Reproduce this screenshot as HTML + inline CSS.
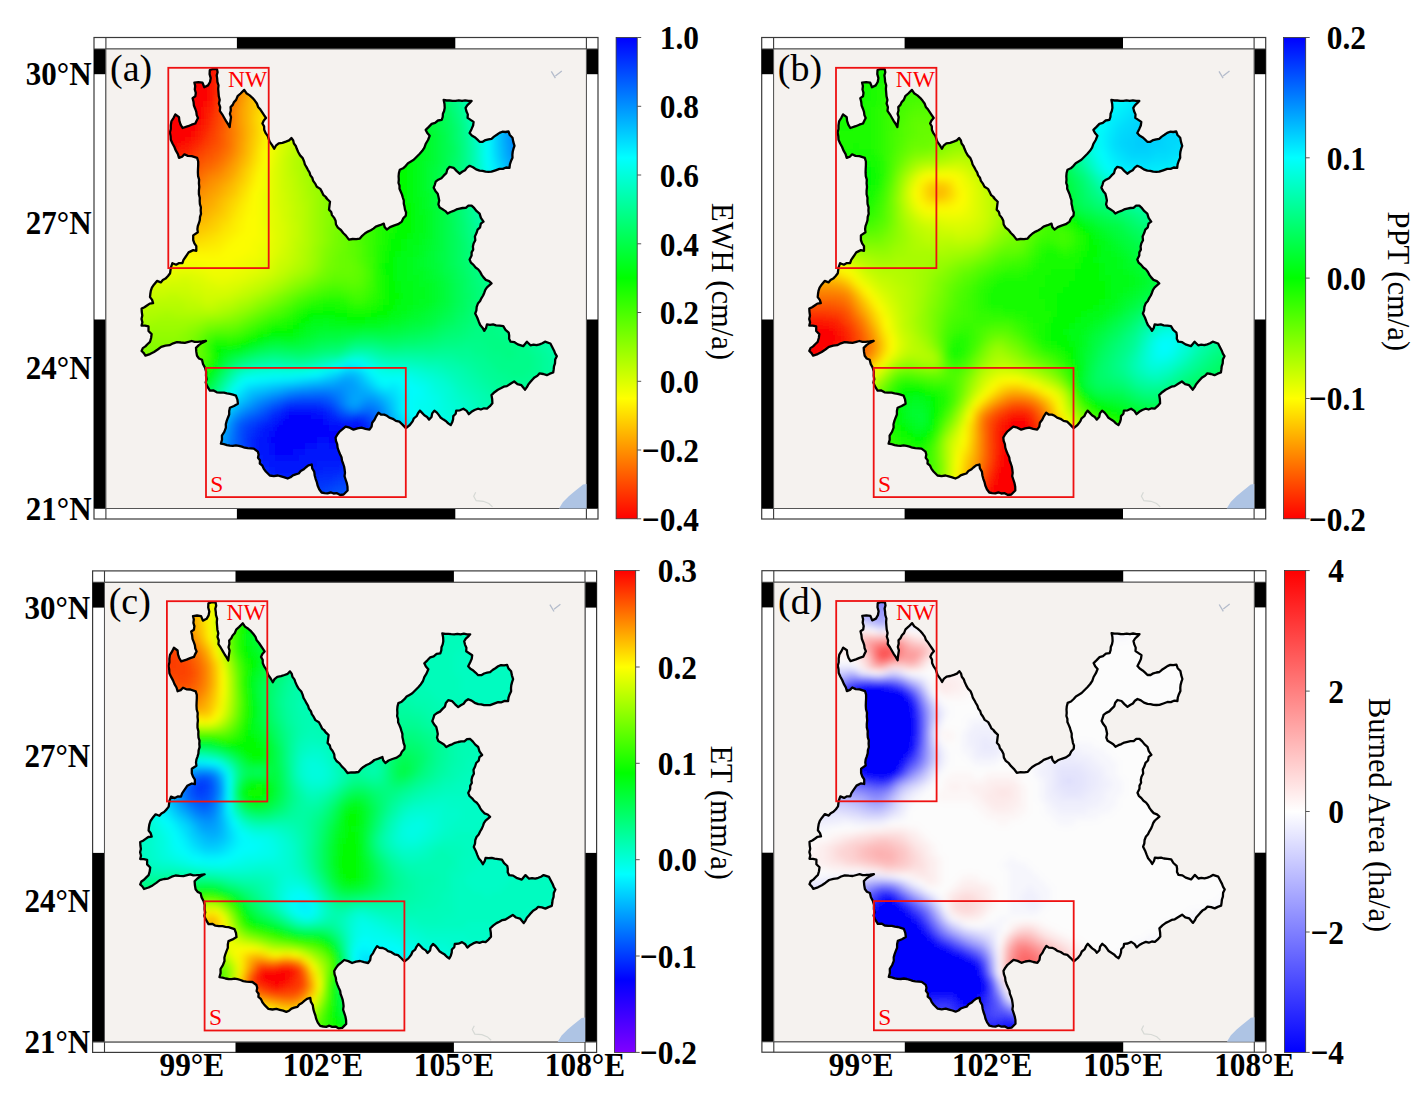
<!DOCTYPE html><html><head><meta charset="utf-8"><style>html,body{margin:0;padding:0;background:#fff}svg{display:block}text{font-family:"Liberation Serif",serif}</style></head><body>
<svg width="1425" height="1103" viewBox="0 0 1425 1103">
<rect width="1425" height="1103" fill="#fff"/>
<defs><clipPath id="clipY"><path d="M209.8 70.0 L217.0 69.1 L217.4 81.8 L218.8 96.3 L219.8 110.8 L224.3 118.0 L229.7 127.1 L230.6 107.1 L236.1 99.9 L240.6 93.5 L244.2 89.9 L249.7 95.4 L256.9 103.5 L262.4 112.6 L266.0 118.0 L262.4 123.5 L264.2 129.8 L267.8 136.2 L269.6 141.6 L274.2 148.8 L278.7 143.4 L285.9 141.6 L291.4 138.0 L296.8 148.8 L304.1 161.5 L309.5 172.4 L315.0 183.3 L322.2 192.4 L327.6 199.6 L326.0 197.7 L330.0 201.7 L329.0 209.6 L334.0 217.6 L337.9 227.6 L345.9 235.6 L348.9 239.6 L359.9 238.6 L367.9 231.6 L375.8 226.6 L383.8 223.6 L386.8 229.6 L393.8 225.6 L401.8 221.6 L405.8 215.6 L403.8 203.7 L400.8 191.7 L398.8 179.7 L399.8 169.7 L405.8 165.8 L413.7 159.8 L419.7 153.8 L425.7 143.8 L429.7 135.8 L425.7 129.9 L431.7 123.9 L441.7 119.9 L444.7 107.9 L443.7 99.9 L455.6 100.9 L471.6 100.9 L465.6 107.9 L467.6 117.9 L473.6 121.9 L471.6 128.9 L469.6 132.9 L479.6 141.8 L491.5 138.8 L499.5 132.9 L508.5 131.5 L512.5 137.8 L514.5 145.8 L512.5 157.8 L509.5 167.8 L499.5 168.8 L491.5 171.7 L479.6 170.7 L469.6 165.8 L459.6 173.7 L453.6 167.8 L449.6 166.8 L443.7 175.7 L435.7 181.7 L433.7 187.7 L437.7 193.7 L439.7 207.6 L447.6 213.6 L459.6 208.6 L471.6 205.6 L479.6 213.6 L483.5 221.6 L477.6 229.6 L473.6 243.5 L471.6 255.5 L469.6 259.5 L475.6 267.5 L483.5 277.4 L491.5 283.4 L487.0 287.3 L484.3 292.7 L481.5 298.1 L477.9 303.6 L475.2 313.5 L478.8 321.7 L484.3 330.8 L487.0 324.4 L496.0 325.3 L503.3 326.2 L508.7 332.6 L510.6 341.7 L517.8 344.4 L523.2 346.2 L526.9 341.7 L530.5 345.3 L539.6 344.4 L545.0 341.7 L550.4 343.5 L554.1 350.7 L556.8 356.2 L555.0 363.4 L553.2 372.5 L546.8 375.2 L539.6 373.4 L532.3 379.7 L525.1 389.7 L521.4 385.2 L514.2 381.5 L506.9 386.1 L497.9 389.7 L491.5 395.1 L492.4 403.3 L487.0 408.7 L477.9 408.7 L468.8 414.2 L463.4 408.7 L456.2 410.6 L450.7 425.1 L443.5 419.6 L434.4 410.6 L429.0 419.6 L419.9 410.6 L412.6 421.4 L406.3 427.8 L405.4 427.6 L399.4 421.7 L389.4 417.7 L378.5 412.7 L374.5 419.7 L369.5 429.6 L361.5 427.6 L353.5 429.6 L345.6 426.6 L339.6 431.6 L335.6 437.6 L337.6 447.6 L341.6 457.6 L344.6 469.5 L345.6 479.5 L347.6 490.5 L343.6 494.5 L333.6 493.5 L321.6 492.5 L317.6 485.5 L314.7 475.5 L311.7 464.5 L305.7 467.5 L298.7 473.5 L287.7 478.5 L277.8 475.5 L269.8 475.5 L265.8 471.5 L259.8 463.5 L257.8 451.6 L253.8 448.6 L241.9 446.6 L229.9 445.6 L220.9 443.6 L221.9 435.6 L225.9 427.6 L227.9 417.7 L229.9 407.7 L237.9 403.7 L235.9 395.7 L223.9 392.7 L209.9 390.7 L207.0 385.8 L206.0 375.8 L205.0 367.8 L202.0 359.8 L197.0 355.8 L196.0 347.9 L202.0 342.9 L206.0 340.9 L197.8 341.8 L188.6 341.8 L180.9 342.5 L173.2 343.3 L165.5 345.6 L157.7 349.5 L150.0 354.1 L145.4 355.6 L141.6 351.0 L145.4 346.4 L150.0 341.8 L151.6 334.1 L148.5 331.0 L148.5 326.4 L141.6 325.6 L142.3 315.6 L141.6 308.6 L147.0 305.5 L153.1 303.2 L150.0 297.1 L150.8 290.9 L153.9 284.7 L157.0 280.9 L160.8 282.4 L165.5 278.6 L170.1 273.2 L170.8 267.8 L172.4 263.2 L176.2 264.7 L182.4 263.2 L185.5 257.0 L188.6 252.4 L193.2 250.1 L196.3 250.8 L196.3 246.2 L193.2 240.0 L193.2 235.4 L197.8 232.3 L197.8 226.2 L198.9 223.2 L200.7 210.5 L199.8 197.8 L198.9 183.3 L198.0 168.8 L197.1 157.9 L191.7 156.1 L184.4 154.3 L179.0 157.9 L174.4 147.0 L170.8 139.8 L169.9 132.5 L170.8 125.3 L173.5 118.0 L175.3 114.4 L179.0 117.1 L182.6 128.0 L188.0 126.2 L195.3 123.5 L198.0 118.0 L195.3 109.0 L192.6 98.1 L195.3 96.3 L194.4 82.7 L202.5 82.7 L204.3 87.2 L208.0 85.4 L210.7 78.1Z"/></clipPath></defs>
<g transform="translate(0,0)">
<rect x="94.0" y="37.5" width="504.0" height="481.5" fill="#fff" stroke="#3a3a3a" stroke-width="1.2"/>
<rect x="236.9" y="37.5" width="218.4" height="11.5" fill="#000"/>
<rect x="236.9" y="508.5" width="218.4" height="10.5" fill="#000"/>
<rect x="94.0" y="49.0" width="11.9" height="25.2" fill="#000"/>
<rect x="94.0" y="319.5" width="11.9" height="189.0" fill="#000"/>
<rect x="586.4" y="49.0" width="11.6" height="25.2" fill="#000"/>
<rect x="586.4" y="319.5" width="11.6" height="189.0" fill="#000"/>
<path d="M105.9 37.5V519.0M586.4 37.5V519.0M94.0 49.0H598.0M94.0 508.5H598.0" stroke="#3a3a3a" stroke-width="1.1" fill="none"/>
<rect x="105.9" y="49.0" width="480.5" height="459.5" fill="#f5f2ef" stroke="#555" stroke-width="1"/>
</g>
<g transform="translate(0,0)">
<defs><filter id="bla" x="-10%" y="-10%" width="120%" height="120%"><feGaussianBlur stdDeviation="3"/></filter></defs><g clip-path="url(#clipY)"><g filter="url(#bla)" shape-rendering="crispEdges"><path fill="#fc0000" d="M197 59h12v6h-12zM197 65h12v6h-12zM185 71h24v6h-24zM179 77h30v6h-30zM179 83h30v6h-30zM179 89h30v6h-30zM179 95h24v6h-24zM167 101h36v6h-36zM161 107h42v6h-42zM161 113h36v6h-36zM155 119h42v6h-42zM155 125h36v6h-36zM155 131h30v6h-30zM155 137h24v6h-24zM155 143h18v6h-18zM161 149h6v6h-6z"/><path fill="#fc0c00" d="M209 59h6v6h-6zM209 65h6v6h-6zM203 101h6v6h-6zM197 119h6v6h-6zM191 131h6v6h-6zM185 137h6v6h-6zM167 149h6v6h-6zM161 155h6v6h-6z"/><path fill="#fc2400" d="M215 59h6v6h-6zM215 65h6v6h-6zM215 71h6v6h-6zM209 107h6v6h-6zM203 125h6v6h-6zM197 137h6v6h-6zM191 143h6v6h-6zM185 149h6v6h-6zM167 161h6v6h-6z"/><path fill="#fc3600" d="M221 59h6v6h-6zM221 65h6v6h-6zM215 101h6v6h-6zM209 125h6v6h-6zM203 137h6v6h-6zM179 161h6v6h-6z"/><path fill="#fc4e00" d="M227 65h6v6h-6zM221 101h6v6h-6zM215 131h6v6h-6zM215 137h6v6h-6zM185 167h6v6h-6z"/><path fill="#fc1200" d="M209 71h6v6h-6zM209 77h6v6h-6zM209 83h6v6h-6zM203 107h6v6h-6zM197 125h6v6h-6zM179 143h6v6h-6zM173 149h6v6h-6z"/><path fill="#fc3c00" d="M221 71h6v6h-6zM221 77h6v6h-6zM215 107h6v6h-6zM215 113h6v6h-6zM209 131h6v6h-6zM203 143h6v6h-6zM197 149h6v6h-6zM191 155h6v6h-6zM173 167h6v6h-6z"/><path fill="#fc5400" d="M227 71h6v6h-6zM227 77h6v6h-6zM221 107h6v6h-6zM221 113h6v6h-6zM215 143h6v6h-6zM209 149h6v6h-6zM203 155h6v6h-6zM197 161h6v6h-6zM191 167h6v6h-6z"/><path fill="#fc2a00" d="M215 77h6v6h-6zM215 83h6v6h-6zM215 89h6v6h-6zM209 113h6v6h-6zM203 131h6v6h-6zM179 155h6v6h-6zM173 161h6v6h-6z"/><path fill="#fc6c00" d="M233 77h6v6h-6zM227 107h6v6h-6zM221 149h6v6h-6zM203 167h6v6h-6zM197 173h6v6h-6z"/><path fill="#fc8400" d="M239 77h6v6h-6zM233 101h6v6h-6zM233 131h6v6h-6zM227 155h6v6h-6zM209 173h6v6h-6zM203 179h6v6h-6zM197 185h6v6h-6zM191 191h6v6h-6z"/><path fill="#fc9c00" d="M245 77h6v6h-6zM239 101h6v6h-6zM239 125h6v6h-6zM239 131h6v6h-6zM239 137h6v6h-6zM227 167h6v6h-6zM191 203h6v6h-6zM185 209h6v6h-6z"/><path fill="#fcae00" d="M251 77h6v6h-6zM245 95h6v6h-6zM239 155h6v6h-6zM227 179h6v6h-6zM221 185h6v6h-6zM209 203h6v6h-6zM203 209h6v6h-6zM191 215h6v6h-6z"/><path fill="#fc4200" d="M221 83h6v6h-6zM221 89h6v6h-6zM215 119h6v6h-6zM209 137h6v6h-6zM185 161h6v6h-6zM179 167h6v6h-6z"/><path fill="#fc5a00" d="M227 83h6v6h-6zM221 119h6v6h-6zM221 125h6v6h-6zM215 149h6v6h-6zM209 155h6v6h-6zM185 173h6v6h-6z"/><path fill="#fc7200" d="M233 83h6v6h-6zM227 113h6v6h-6zM227 119h6v6h-6zM227 125h6v6h-6zM227 131h6v6h-6zM227 137h6v6h-6zM227 143h6v6h-6zM221 155h6v6h-6zM215 161h6v6h-6zM209 167h6v6h-6zM191 179h6v6h-6zM185 185h6v6h-6z"/><path fill="#fc8a00" d="M239 83h6v6h-6zM233 107h6v6h-6zM233 113h6v6h-6zM233 119h6v6h-6zM233 125h6v6h-6zM233 137h6v6h-6zM233 143h6v6h-6zM221 167h6v6h-6zM215 173h6v6h-6zM185 197h6v6h-6z"/><path fill="#fca200" d="M245 83h6v6h-6zM239 107h6v6h-6zM239 113h6v6h-6zM239 119h6v6h-6zM239 143h6v6h-6zM239 149h6v6h-6zM233 161h6v6h-6zM227 173h6v6h-6zM221 179h6v6h-6zM215 185h6v6h-6zM209 191h6v6h-6zM203 197h6v6h-6zM197 203h6v6h-6zM191 209h6v6h-6z"/><path fill="#fcb400" d="M251 83h6v6h-6zM245 101h6v6h-6zM245 107h6v6h-6zM245 113h6v6h-6zM245 119h6v6h-6zM245 125h6v6h-6zM245 131h6v6h-6zM245 137h6v6h-6zM239 161h6v6h-6zM233 173h6v6h-6zM221 191h6v6h-6zM215 197h6v6h-6zM197 215h6v6h-6zM185 221h6v6h-6z"/><path fill="#fccc00" d="M257 83h6v6h-6zM251 113h6v6h-6zM251 119h6v6h-6zM251 137h6v6h-6zM251 143h6v6h-6zM239 179h6v6h-6zM233 191h6v6h-6zM227 197h6v6h-6zM221 209h6v6h-6zM215 215h6v6h-6zM209 221h6v6h-6zM203 227h6v6h-6zM179 233h12v6h-12z"/><path fill="#00fc6c" d="M437 83h6v6h-6zM449 113h6v6h-6zM455 143h6v6h-6zM455 149h6v6h-6zM455 155h6v6h-6zM455 197h6v6h-6zM455 203h6v6h-6zM455 209h6v6h-6zM461 239h6v6h-6zM461 245h6v6h-6zM461 251h6v6h-6zM461 257h6v6h-6zM467 275h6v6h-6zM467 281h6v6h-6zM467 287h6v6h-6zM467 299h6v6h-6zM467 305h6v6h-6zM461 317h6v6h-6zM455 323h6v6h-6zM443 329h6v6h-6zM431 335h6v6h-6zM347 341h6v6h-6zM383 341h18v6h-18zM317 347h12v6h-12zM221 371h6v6h-6zM209 389h6v6h-6zM203 395h6v6h-6z"/><path fill="#00fc7e" d="M443 83h6v6h-6zM455 113h6v6h-6zM461 197h6v6h-6zM461 203h6v6h-6zM467 233h6v6h-6zM467 239h6v6h-6zM473 263h6v6h-6zM473 269h6v6h-6zM479 281h6v6h-6zM479 287h6v6h-6zM479 293h6v6h-6zM479 299h6v6h-6zM479 305h6v6h-6zM479 311h6v6h-6zM479 317h6v6h-6zM473 323h6v6h-6zM467 329h6v6h-6zM455 335h12v6h-12zM431 341h12v6h-12zM341 347h6v6h-6zM269 353h12v6h-12zM311 353h6v6h-6z"/><path fill="#fc1800" d="M209 89h6v6h-6zM209 95h6v6h-6zM203 113h6v6h-6zM191 137h6v6h-6zM185 143h6v6h-6zM167 155h6v6h-6z"/><path fill="#fc6000" d="M227 89h6v6h-6zM221 131h6v6h-6zM221 137h6v6h-6zM221 143h6v6h-6zM203 161h6v6h-6zM197 167h6v6h-6z"/><path fill="#fc7800" d="M233 89h6v6h-6zM227 149h6v6h-6zM203 173h6v6h-6zM197 179h6v6h-6z"/><path fill="#fc9000" d="M239 89h6v6h-6zM233 149h6v6h-6zM227 161h6v6h-6zM209 179h6v6h-6zM203 185h6v6h-6zM197 191h6v6h-6zM191 197h6v6h-6zM185 203h6v6h-6z"/><path fill="#fca800" d="M245 89h6v6h-6zM233 167h6v6h-6zM215 191h6v6h-6zM209 197h6v6h-6zM203 203h6v6h-6zM197 209h6v6h-6zM185 215h6v6h-6z"/><path fill="#fcba00" d="M251 89h6v6h-6zM245 143h6v6h-6zM245 149h6v6h-6zM227 185h6v6h-6zM215 203h6v6h-6zM209 209h6v6h-6zM203 215h6v6h-6zM191 221h6v6h-6z"/><path fill="#fcd200" d="M257 89h6v6h-6zM257 95h6v6h-6zM251 149h6v6h-6zM245 167h6v6h-6zM227 203h6v6h-6zM221 215h6v6h-6zM215 221h6v6h-6zM209 227h6v6h-6zM191 233h12v6h-12z"/><path fill="#fce400" d="M263 89h6v6h-6zM263 95h6v6h-6zM257 143h6v6h-6zM251 167h6v6h-6zM245 185h6v6h-6zM239 197h6v6h-6zM233 209h6v6h-6zM227 221h6v6h-6zM221 227h6v6h-6zM215 233h6v6h-6zM203 239h12v6h-12zM173 245h12v6h-12z"/><path fill="#00fc54" d="M431 89h6v6h-6zM437 107h6v6h-6zM443 119h6v6h-6zM443 125h6v6h-6zM443 167h6v6h-6zM443 173h6v6h-6zM443 179h6v6h-6zM443 185h6v6h-6zM443 191h6v6h-6zM449 221h6v6h-6zM449 227h6v6h-6zM449 233h6v6h-6zM449 239h6v6h-6zM449 245h6v6h-6zM449 251h6v6h-6zM449 257h6v6h-6zM449 263h6v6h-6zM455 281h6v6h-6zM455 287h6v6h-6zM455 293h6v6h-6zM455 299h6v6h-6zM449 311h6v6h-6zM443 317h6v6h-6zM419 329h6v6h-6zM353 335h6v6h-6zM377 335h18v6h-18zM317 341h12v6h-12zM263 347h6v6h-6zM287 347h18v6h-18z"/><path fill="#00fc66" d="M437 89h6v6h-6zM443 101h6v6h-6zM449 119h6v6h-6zM455 215h6v6h-6zM455 221h6v6h-6zM455 227h6v6h-6zM461 263h6v6h-6zM461 269h6v6h-6zM467 293h6v6h-6zM461 311h6v6h-6zM455 317h6v6h-6zM449 323h6v6h-6zM437 329h6v6h-6zM419 335h12v6h-12zM251 353h6v6h-6zM233 359h6v6h-6z"/><path fill="#00fc78" d="M443 89h6v6h-6zM449 101h6v6h-6zM455 119h6v6h-6zM461 209h6v6h-6zM461 215h6v6h-6zM467 245h6v6h-6zM467 251h6v6h-6zM467 257h6v6h-6zM473 275h6v6h-6zM473 281h6v6h-6zM473 311h6v6h-6zM473 317h6v6h-6zM467 323h6v6h-6zM461 329h6v6h-6zM443 335h12v6h-12zM353 341h24v6h-24zM419 341h12v6h-12zM263 353h6v6h-6zM281 353h12v6h-12zM305 353h6v6h-6zM239 359h6v6h-6zM215 383h6v6h-6z"/><path fill="#00fc8a" d="M449 89h6v6h-6zM455 101h6v6h-6zM461 125h6v6h-6zM461 131h6v6h-6zM461 167h6v6h-6zM461 173h6v6h-6zM461 179h6v6h-6zM467 209h6v6h-6zM467 215h6v6h-6zM473 239h6v6h-6zM473 245h6v6h-6zM479 263h6v6h-6zM485 281h6v6h-6zM485 287h6v6h-6zM491 299h6v6h-6zM491 311h12v6h-12zM497 317h6v6h-6zM497 323h12v6h-12zM497 329h18v6h-18zM503 335h18v6h-18zM461 341h24v6h-24zM509 341h18v6h-18zM383 347h6v6h-6zM401 347h36v6h-36zM473 347h18v6h-18zM515 347h12v6h-12zM485 353h18v6h-18zM515 353h18v6h-18zM491 359h42v6h-42zM233 365h6v6h-6zM497 365h36v6h-36zM509 371h18v6h-18zM221 377h6v6h-6zM209 395h6v6h-6zM203 401h6v6h-6z"/><path fill="#00fc9c" d="M455 89h6v6h-6zM467 143h6v6h-6zM467 149h6v6h-6zM467 155h6v6h-6zM467 161h6v6h-6zM467 167h6v6h-6zM467 173h6v6h-6zM467 179h6v6h-6zM473 209h6v6h-6zM473 215h6v6h-6zM479 233h6v6h-6zM479 239h6v6h-6zM485 257h6v6h-6zM491 269h6v6h-6zM497 281h6v6h-6zM497 287h6v6h-6zM527 329h6v6h-6zM533 335h6v6h-6zM539 341h6v6h-6zM353 347h18v6h-18zM539 347h6v6h-6zM425 353h30v6h-30zM545 353h6v6h-6zM263 359h6v6h-6zM281 359h12v6h-12zM305 359h6v6h-6zM461 359h12v6h-12zM545 359h6v6h-6zM473 365h6v6h-6zM545 365h6v6h-6zM479 371h6v6h-6zM545 371h6v6h-6zM485 377h6v6h-6zM545 377h6v6h-6zM491 383h6v6h-6zM539 383h6v6h-6zM497 389h12v6h-12zM533 389h6v6h-6zM503 395h36v6h-36z"/><path fill="#00fcae" d="M461 89h6v6h-6zM467 113h6v6h-6zM473 191h6v6h-6zM479 215h6v6h-6zM485 233h6v6h-6zM545 329h6v6h-6zM551 341h6v6h-6zM557 353h6v6h-6zM317 359h6v6h-6zM425 359h18v6h-18zM557 359h6v6h-6zM245 365h6v6h-6zM449 365h12v6h-12zM461 371h6v6h-6zM227 377h6v6h-6zM467 377h6v6h-6zM473 383h6v6h-6zM479 389h6v6h-6zM485 395h6v6h-6zM209 401h6v6h-6zM485 401h12v6h-12zM491 407h12v6h-12zM497 413h6v6h-6z"/><path fill="#00fcc6" d="M467 89h6v6h-6zM473 119h6v6h-6zM473 125h6v6h-6zM485 209h6v6h-6zM491 227h6v6h-6zM353 353h12v6h-12zM377 359h6v6h-6zM269 365h12v6h-12zM305 365h6v6h-6zM419 365h6v6h-6zM437 371h6v6h-6zM455 389h6v6h-6zM461 395h6v6h-6zM467 401h6v6h-6zM467 407h6v6h-6zM473 413h6v6h-6zM473 419h6v6h-6z"/><path fill="#00fcde" d="M473 89h6v6h-6zM479 143h6v6h-6zM479 149h6v6h-6zM479 155h6v6h-6zM341 359h6v6h-6zM365 359h6v6h-6zM377 365h6v6h-6zM251 371h6v6h-6zM413 371h6v6h-6zM425 377h6v6h-6zM431 383h6v6h-6zM437 389h6v6h-6zM443 401h6v6h-6zM443 407h6v6h-6zM449 413h6v6h-6zM449 419h6v6h-6zM455 425h6v6h-6z"/><path fill="#00fcf6" d="M479 89h6v6h-6zM485 167h6v6h-6zM353 359h6v6h-6zM305 371h6v6h-6zM413 383h6v6h-6zM419 389h6v6h-6zM413 395h12v6h-12zM413 401h6v6h-6zM413 407h6v6h-6zM419 413h6v6h-6zM425 419h6v6h-6zM431 425h6v6h-6zM437 431h6v6h-6z"/><path fill="#fc0600" d="M203 95h6v6h-6zM197 113h6v6h-6zM191 125h6v6h-6zM185 131h6v6h-6zM179 137h6v6h-6zM173 143h6v6h-6z"/><path fill="#fc3000" d="M215 95h6v6h-6zM209 119h6v6h-6zM197 143h6v6h-6zM191 149h6v6h-6zM185 155h6v6h-6z"/><path fill="#fc4800" d="M221 95h6v6h-6zM215 125h6v6h-6zM209 143h6v6h-6zM203 149h6v6h-6zM197 155h6v6h-6zM191 161h6v6h-6z"/><path fill="#fc6600" d="M227 95h6v6h-6zM227 101h6v6h-6zM215 155h6v6h-6zM209 161h6v6h-6zM191 173h6v6h-6zM185 179h6v6h-6z"/><path fill="#fc7e00" d="M233 95h6v6h-6zM221 161h6v6h-6zM215 167h6v6h-6zM191 185h6v6h-6zM185 191h6v6h-6z"/><path fill="#fc9600" d="M239 95h6v6h-6zM233 155h6v6h-6zM221 173h6v6h-6zM215 179h6v6h-6zM209 185h6v6h-6zM203 191h6v6h-6zM197 197h6v6h-6z"/><path fill="#fcc000" d="M251 95h6v6h-6zM245 155h6v6h-6zM239 167h6v6h-6zM233 179h6v6h-6zM227 191h6v6h-6zM221 197h6v6h-6zM215 209h6v6h-6zM209 215h6v6h-6zM197 221h12v6h-12zM179 227h12v6h-12z"/><path fill="#00fc4e" d="M431 95h6v6h-6zM437 113h6v6h-6zM443 131h6v6h-6zM443 137h6v6h-6zM443 143h6v6h-6zM443 149h6v6h-6zM443 155h6v6h-6zM443 161h6v6h-6zM443 197h6v6h-6zM443 203h6v6h-6zM443 209h6v6h-6zM449 269h6v6h-6zM449 275h6v6h-6zM449 305h6v6h-6zM443 311h6v6h-6zM437 317h6v6h-6zM431 323h6v6h-6zM407 329h12v6h-12zM347 335h6v6h-6zM311 341h6v6h-6zM227 359h6v6h-6zM221 365h6v6h-6zM209 383h6v6h-6zM203 389h6v6h-6zM197 395h6v6h-6z"/><path fill="#00fc60" d="M437 95h6v6h-6zM443 107h6v6h-6zM449 125h6v6h-6zM449 131h6v6h-6zM449 137h6v6h-6zM449 155h6v6h-6zM449 161h6v6h-6zM449 167h6v6h-6zM449 173h6v6h-6zM449 179h6v6h-6zM449 191h6v6h-6zM449 197h6v6h-6zM455 233h6v6h-6zM455 239h6v6h-6zM455 245h6v6h-6zM455 251h6v6h-6zM455 257h6v6h-6zM455 263h6v6h-6zM461 275h6v6h-6zM461 281h6v6h-6zM461 287h6v6h-6zM461 293h6v6h-6zM461 299h6v6h-6zM461 305h6v6h-6zM455 311h6v6h-6zM443 323h6v6h-6zM431 329h6v6h-6zM407 335h12v6h-12zM341 341h6v6h-6zM311 347h6v6h-6zM215 377h6v6h-6z"/><path fill="#00fc72" d="M443 95h6v6h-6zM449 107h6v6h-6zM455 125h6v6h-6zM455 131h6v6h-6zM455 137h6v6h-6zM455 161h6v6h-6zM455 167h6v6h-6zM455 173h6v6h-6zM455 179h6v6h-6zM455 185h6v6h-6zM461 221h6v6h-6zM461 227h6v6h-6zM461 233h6v6h-6zM467 263h6v6h-6zM467 269h6v6h-6zM473 287h6v6h-6zM473 293h6v6h-6zM473 299h6v6h-6zM473 305h6v6h-6zM467 311h6v6h-6zM467 317h6v6h-6zM461 323h6v6h-6zM449 329h12v6h-12zM437 335h6v6h-6zM377 341h6v6h-6zM401 341h18v6h-18zM329 347h12v6h-12zM257 353h6v6h-6zM293 353h12v6h-12zM227 365h6v6h-6z"/><path fill="#00fc84" d="M449 95h6v6h-6zM455 107h6v6h-6zM461 137h6v6h-6zM461 143h6v6h-6zM461 149h6v6h-6zM461 155h6v6h-6zM461 161h6v6h-6zM461 191h6v6h-6zM467 221h6v6h-6zM467 227h6v6h-6zM473 251h6v6h-6zM473 257h6v6h-6zM479 269h6v6h-6zM479 275h6v6h-6zM485 293h6v6h-6zM485 299h6v6h-6zM485 305h6v6h-6zM485 311h6v6h-6zM485 317h12v6h-12zM479 323h18v6h-18zM473 329h24v6h-24zM467 335h36v6h-36zM443 341h18v6h-18zM485 341h24v6h-24zM389 347h12v6h-12zM491 347h24v6h-24zM317 353h6v6h-6zM503 353h12v6h-12zM245 359h6v6h-6z"/><path fill="#00fc96" d="M455 95h6v6h-6zM461 107h6v6h-6zM461 113h6v6h-6zM467 191h6v6h-6zM467 197h6v6h-6zM473 221h6v6h-6zM479 245h6v6h-6zM485 263h6v6h-6zM491 275h6v6h-6zM491 281h6v6h-6zM509 317h6v6h-6zM515 323h6v6h-6zM521 329h6v6h-6zM527 335h6v6h-6zM533 341h6v6h-6zM371 347h6v6h-6zM533 347h6v6h-6zM455 353h18v6h-18zM539 353h6v6h-6zM257 359h6v6h-6zM293 359h12v6h-12zM473 359h12v6h-12zM539 359h6v6h-6zM479 365h12v6h-12zM539 365h6v6h-6zM485 371h12v6h-12zM539 371h6v6h-6zM491 377h12v6h-12zM533 377h12v6h-12zM497 383h42v6h-42zM509 389h24v6h-24z"/><path fill="#00fca8" d="M461 95h6v6h-6zM467 119h6v6h-6zM467 125h6v6h-6zM473 197h6v6h-6zM479 221h6v6h-6zM485 239h6v6h-6zM497 269h6v6h-6zM539 329h6v6h-6zM545 335h6v6h-6zM545 341h6v6h-6zM551 347h6v6h-6zM341 353h6v6h-6zM377 353h6v6h-6zM551 353h6v6h-6zM443 359h12v6h-12zM461 365h6v6h-6zM557 365h6v6h-6zM467 371h6v6h-6zM557 371h6v6h-6zM473 377h6v6h-6zM557 377h6v6h-6zM479 383h6v6h-6zM485 389h6v6h-6zM491 395h6v6h-6zM497 401h6v6h-6z"/><path fill="#00fcc0" d="M467 95h6v6h-6zM473 131h6v6h-6zM473 137h6v6h-6zM479 197h6v6h-6zM485 215h6v6h-6zM563 341h6v6h-6zM365 353h6v6h-6zM329 359h6v6h-6zM383 359h6v6h-6zM257 365h12v6h-12zM281 365h24v6h-24zM425 365h12v6h-12zM443 371h6v6h-6zM449 377h6v6h-6zM455 383h6v6h-6zM461 389h6v6h-6zM467 395h6v6h-6zM473 407h6v6h-6zM479 413h6v6h-6zM479 419h12v6h-12z"/><path fill="#00fcd8" d="M473 95h6v6h-6zM479 161h6v6h-6zM479 167h6v6h-6zM491 209h6v6h-6zM317 365h6v6h-6zM383 365h6v6h-6zM245 371h6v6h-6zM419 371h6v6h-6zM431 377h6v6h-6zM437 383h6v6h-6zM443 389h6v6h-6zM221 395h6v6h-6zM443 395h6v6h-6zM449 401h6v6h-6zM449 407h6v6h-6zM455 413h6v6h-6zM455 419h6v6h-6zM461 425h6v6h-6z"/><path fill="#00fcf0" d="M479 95h6v6h-6zM479 101h6v6h-6zM485 173h6v6h-6zM347 359h6v6h-6zM359 359h6v6h-6zM329 365h6v6h-6zM293 371h12v6h-12zM377 371h6v6h-6zM239 377h6v6h-6zM407 377h6v6h-6zM233 383h6v6h-6zM419 383h6v6h-6zM425 395h6v6h-6zM419 401h12v6h-12zM215 407h6v6h-6zM419 407h12v6h-12zM425 413h6v6h-6zM431 419h6v6h-6zM437 425h6v6h-6zM443 431h6v6h-6z"/><path fill="#fc1e00" d="M209 101h6v6h-6zM203 119h6v6h-6zM197 131h6v6h-6zM179 149h6v6h-6zM173 155h6v6h-6z"/><path fill="#fcc600" d="M251 101h6v6h-6zM251 107h6v6h-6zM251 125h6v6h-6zM251 131h6v6h-6zM245 161h6v6h-6zM239 173h6v6h-6zM233 185h6v6h-6zM221 203h6v6h-6zM191 227h12v6h-12z"/><path fill="#fcd800" d="M257 101h6v6h-6zM257 107h6v6h-6zM251 155h6v6h-6zM245 173h6v6h-6zM239 185h6v6h-6zM233 197h6v6h-6zM227 209h6v6h-6zM215 227h6v6h-6zM203 233h6v6h-6zM179 239h12v6h-12z"/><path fill="#fcea00" d="M263 101h6v6h-6zM263 107h6v6h-6zM257 149h6v6h-6zM257 155h6v6h-6zM251 173h6v6h-6zM245 191h6v6h-6zM239 203h6v6h-6zM233 215h6v6h-6zM227 227h6v6h-6zM221 233h6v6h-6zM215 239h6v6h-6zM185 245h24v6h-24zM161 251h6v6h-6z"/><path fill="#fcfc00" d="M269 101h6v6h-6zM269 107h6v6h-6zM269 113h6v6h-6zM269 119h6v6h-6zM269 125h6v6h-6zM269 131h6v6h-6zM263 149h6v6h-6zM263 155h6v6h-6zM263 161h6v6h-6zM257 173h6v6h-6zM257 179h6v6h-6zM257 185h6v6h-6zM251 191h6v6h-6zM251 197h6v6h-6zM251 203h6v6h-6zM251 209h6v6h-6zM245 215h12v6h-12zM245 221h12v6h-12zM245 227h12v6h-12zM239 233h18v6h-18zM233 239h18v6h-18zM227 245h24v6h-24zM221 251h24v6h-24zM161 257h72v6h-72zM155 263h6v6h-6z"/><path fill="#00fc48" d="M431 101h6v6h-6zM437 119h6v6h-6zM437 125h6v6h-6zM437 167h6v6h-6zM437 173h6v6h-6zM437 179h6v6h-6zM437 185h6v6h-6zM443 215h6v6h-6zM443 221h6v6h-6zM443 227h6v6h-6zM443 233h6v6h-6zM443 239h6v6h-6zM443 245h6v6h-6zM443 251h6v6h-6zM443 257h6v6h-6zM443 263h6v6h-6zM443 269h6v6h-6zM449 281h6v6h-6zM449 287h6v6h-6zM449 293h6v6h-6zM449 299h6v6h-6zM425 323h6v6h-6zM401 329h6v6h-6zM341 335h6v6h-6zM257 347h6v6h-6zM239 353h6v6h-6z"/><path fill="#00fc5a" d="M437 101h6v6h-6zM443 113h6v6h-6zM449 143h6v6h-6zM449 149h6v6h-6zM449 203h6v6h-6zM449 209h6v6h-6zM449 215h6v6h-6zM455 269h6v6h-6zM455 275h6v6h-6zM455 305h6v6h-6zM449 317h6v6h-6zM437 323h6v6h-6zM425 329h6v6h-6zM359 335h18v6h-18zM395 335h12v6h-12zM329 341h12v6h-12zM269 347h18v6h-18zM305 347h6v6h-6zM245 353h6v6h-6z"/><path fill="#00fca2" d="M461 101h6v6h-6zM467 131h6v6h-6zM467 137h6v6h-6zM473 203h6v6h-6zM479 227h6v6h-6zM497 275h6v6h-6zM533 329h6v6h-6zM539 335h6v6h-6zM545 347h6v6h-6zM383 353h42v6h-42zM269 359h12v6h-12zM311 359h6v6h-6zM455 359h6v6h-6zM551 359h6v6h-6zM239 365h6v6h-6zM467 365h6v6h-6zM551 365h6v6h-6zM473 371h6v6h-6zM551 371h6v6h-6zM479 377h6v6h-6zM551 377h6v6h-6zM221 383h6v6h-6zM485 383h6v6h-6zM545 383h12v6h-12zM491 389h6v6h-6zM497 395h6v6h-6zM503 401h6v6h-6zM521 401h6v6h-6z"/><path fill="#00fcba" d="M467 101h6v6h-6zM473 143h6v6h-6zM473 149h6v6h-6zM473 155h6v6h-6zM473 161h6v6h-6zM473 167h6v6h-6zM473 173h6v6h-6zM479 203h6v6h-6zM485 221h6v6h-6zM551 329h6v6h-6zM557 335h6v6h-6zM563 347h6v6h-6zM347 353h6v6h-6zM563 353h6v6h-6zM389 359h24v6h-24zM251 365h6v6h-6zM437 365h6v6h-6zM449 371h6v6h-6zM455 377h6v6h-6zM461 383h6v6h-6zM221 389h6v6h-6zM467 389h6v6h-6zM473 395h6v6h-6zM473 401h6v6h-6zM479 407h6v6h-6zM485 413h6v6h-6z"/><path fill="#00fcd2" d="M473 101h6v6h-6zM479 173h6v6h-6zM491 215h6v6h-6zM371 359h6v6h-6zM389 365h18v6h-18zM425 371h6v6h-6zM233 377h6v6h-6zM437 377h6v6h-6zM443 383h6v6h-6zM449 389h6v6h-6zM449 395h6v6h-6zM215 401h6v6h-6zM455 401h6v6h-6zM455 407h6v6h-6zM461 413h6v6h-6zM461 419h6v6h-6zM467 425h6v6h-6z"/><path fill="#f0fc00" d="M275 107h6v6h-6zM275 113h6v6h-6zM269 149h6v6h-6zM263 173h6v6h-6zM263 179h6v6h-6zM263 185h6v6h-6zM263 227h6v6h-6zM263 233h6v6h-6zM263 239h6v6h-6zM257 245h6v6h-6zM257 251h6v6h-6zM245 257h12v6h-12zM173 263h30v6h-30zM239 263h12v6h-12zM155 269h6v6h-6zM209 269h24v6h-24z"/><path fill="#00fc36" d="M425 107h6v6h-6zM425 113h6v6h-6zM431 131h6v6h-6zM431 137h6v6h-6zM431 143h6v6h-6zM431 149h6v6h-6zM431 155h6v6h-6zM431 161h6v6h-6zM431 191h6v6h-6zM431 197h6v6h-6zM431 203h6v6h-6zM431 245h6v6h-6zM431 251h6v6h-6zM431 257h6v6h-6zM431 263h6v6h-6zM437 275h6v6h-6zM437 281h6v6h-6zM437 299h6v6h-6zM425 311h6v6h-6zM419 317h6v6h-6zM401 323h6v6h-6zM341 329h18v6h-18zM311 335h6v6h-6zM269 341h6v6h-6zM281 341h18v6h-18zM221 359h6v6h-6zM209 377h6v6h-6z"/><path fill="#00fc42" d="M431 107h6v6h-6zM431 113h6v6h-6zM437 131h6v6h-6zM437 137h6v6h-6zM437 143h6v6h-6zM437 149h6v6h-6zM437 155h6v6h-6zM437 161h6v6h-6zM437 191h6v6h-6zM437 197h6v6h-6zM437 203h6v6h-6zM437 251h6v6h-6zM437 257h6v6h-6zM443 275h6v6h-6zM443 305h6v6h-6zM437 311h6v6h-6zM431 317h6v6h-6zM413 323h12v6h-12zM389 329h12v6h-12zM323 335h18v6h-18zM305 341h6v6h-6zM215 371h6v6h-6z"/><path fill="#00fcb4" d="M467 107h6v6h-6zM473 179h6v6h-6zM479 209h6v6h-6zM485 227h6v6h-6zM551 335h6v6h-6zM557 341h6v6h-6zM557 347h6v6h-6zM371 353h6v6h-6zM323 359h6v6h-6zM413 359h12v6h-12zM563 359h6v6h-6zM443 365h6v6h-6zM563 365h6v6h-6zM233 371h6v6h-6zM455 371h6v6h-6zM563 371h6v6h-6zM461 377h6v6h-6zM467 383h6v6h-6zM473 389h6v6h-6zM215 395h6v6h-6zM479 395h6v6h-6zM479 401h6v6h-6zM485 407h6v6h-6zM491 413h6v6h-6z"/><path fill="#00fccc" d="M473 107h6v6h-6zM473 113h6v6h-6zM479 179h6v6h-6zM485 203h6v6h-6zM491 221h6v6h-6zM335 359h6v6h-6zM311 365h6v6h-6zM407 365h12v6h-12zM239 371h6v6h-6zM431 371h6v6h-6zM443 377h6v6h-6zM227 383h6v6h-6zM449 383h6v6h-6zM455 395h6v6h-6zM461 401h6v6h-6zM461 407h6v6h-6zM467 413h6v6h-6zM467 419h6v6h-6z"/><path fill="#00fcea" d="M479 107h6v6h-6zM479 113h6v6h-6zM485 179h6v6h-6zM371 365h6v6h-6zM269 371h24v6h-24zM383 371h24v6h-24zM413 377h6v6h-6zM425 383h6v6h-6zM425 389h6v6h-6zM431 395h6v6h-6zM431 401h6v6h-6zM431 407h6v6h-6zM431 413h6v6h-6zM437 419h6v6h-6zM443 425h6v6h-6zM449 431h6v6h-6z"/><path fill="#fcde00" d="M257 113h6v6h-6zM257 119h6v6h-6zM257 125h6v6h-6zM257 131h6v6h-6zM257 137h6v6h-6zM251 161h6v6h-6zM245 179h6v6h-6zM239 191h6v6h-6zM233 203h6v6h-6zM227 215h6v6h-6zM221 221h6v6h-6zM209 233h6v6h-6zM191 239h12v6h-12z"/><path fill="#fcf000" d="M263 113h6v6h-6zM263 119h6v6h-6zM263 125h6v6h-6zM263 131h6v6h-6zM257 161h6v6h-6zM251 179h6v6h-6zM245 197h6v6h-6zM239 209h6v6h-6zM239 215h6v6h-6zM233 221h6v6h-6zM233 227h6v6h-6zM227 233h6v6h-6zM221 239h6v6h-6zM209 245h12v6h-12zM167 251h12v6h-12z"/><path fill="#00fc2a" d="M419 113h6v6h-6zM425 131h6v6h-6zM425 137h6v6h-6zM425 143h6v6h-6zM425 149h6v6h-6zM425 155h6v6h-6zM425 191h6v6h-6zM425 197h6v6h-6zM425 203h6v6h-6zM425 239h6v6h-6zM425 245h6v6h-6zM419 257h6v6h-6zM419 263h6v6h-6zM425 269h6v6h-6zM425 275h6v6h-6zM431 281h6v6h-6zM431 287h6v6h-6zM431 293h6v6h-6zM431 299h6v6h-6zM425 305h6v6h-6zM413 311h6v6h-6zM401 317h6v6h-6zM383 323h6v6h-6zM311 329h6v6h-6zM299 335h6v6h-6z"/><path fill="#eafc00" d="M275 119h6v6h-6zM275 125h6v6h-6zM275 131h6v6h-6zM269 155h6v6h-6zM269 161h6v6h-6zM263 191h6v6h-6zM263 197h6v6h-6zM263 203h6v6h-6zM263 209h6v6h-6zM263 215h6v6h-6zM263 221h6v6h-6zM269 233h6v6h-6zM263 245h6v6h-6zM263 251h6v6h-6zM257 257h6v6h-6zM251 263h6v6h-6zM161 269h12v6h-12zM197 269h12v6h-12zM233 269h12v6h-12zM143 275h12v6h-12zM209 275h24v6h-24z"/><path fill="#00fc18" d="M413 119h6v6h-6zM413 125h6v6h-6zM413 131h6v6h-6zM413 137h6v6h-6zM413 143h6v6h-6zM413 149h6v6h-6zM413 155h6v6h-6zM413 161h6v6h-6zM413 167h6v6h-6zM413 173h6v6h-6zM413 179h6v6h-6zM413 185h6v6h-6zM413 191h6v6h-6zM419 215h6v6h-6zM419 221h6v6h-6zM419 227h6v6h-6zM413 239h6v6h-6zM407 245h6v6h-6zM407 251h6v6h-6zM401 257h6v6h-6zM401 263h6v6h-6zM401 269h6v6h-6zM401 275h6v6h-6zM407 281h6v6h-6zM407 287h6v6h-6zM407 293h6v6h-6zM407 299h6v6h-6zM401 305h6v6h-6zM395 311h6v6h-6zM383 317h6v6h-6zM305 323h6v6h-6zM299 329h6v6h-6zM269 335h24v6h-24zM251 341h6v6h-6zM209 371h6v6h-6z"/><path fill="#00fc24" d="M419 119h6v6h-6zM419 125h6v6h-6zM419 131h6v6h-6zM419 149h6v6h-6zM419 155h6v6h-6zM419 161h6v6h-6zM419 167h6v6h-6zM419 173h6v6h-6zM419 179h6v6h-6zM419 185h6v6h-6zM419 191h6v6h-6zM425 209h6v6h-6zM425 215h6v6h-6zM425 221h6v6h-6zM425 227h6v6h-6zM425 233h6v6h-6zM419 245h6v6h-6zM419 251h6v6h-6zM413 257h6v6h-6zM413 263h6v6h-6zM413 269h12v6h-12zM419 275h6v6h-6zM419 281h12v6h-12zM425 287h6v6h-6zM425 293h6v6h-6zM419 299h12v6h-12zM413 305h12v6h-12zM407 311h6v6h-6zM395 317h6v6h-6zM323 323h6v6h-6zM365 323h18v6h-18zM305 329h6v6h-6zM257 341h6v6h-6zM215 365h6v6h-6z"/><path fill="#00fc30" d="M425 119h6v6h-6zM425 125h6v6h-6zM425 161h6v6h-6zM425 167h6v6h-6zM425 173h6v6h-6zM425 179h6v6h-6zM425 185h6v6h-6zM431 209h6v6h-6zM431 215h6v6h-6zM431 221h6v6h-6zM431 227h6v6h-6zM431 233h6v6h-6zM431 239h6v6h-6zM425 251h6v6h-6zM425 257h6v6h-6zM425 263h6v6h-6zM431 269h6v6h-6zM431 275h6v6h-6zM437 287h6v6h-6zM437 293h6v6h-6zM431 305h6v6h-6zM419 311h6v6h-6zM407 317h12v6h-12zM389 323h12v6h-12zM317 329h24v6h-24zM305 335h6v6h-6zM263 341h6v6h-6zM245 347h6v6h-6zM227 353h6v6h-6zM203 383h6v6h-6zM197 389h6v6h-6z"/><path fill="#00fc3c" d="M431 119h6v6h-6zM431 125h6v6h-6zM431 167h6v6h-6zM431 173h6v6h-6zM431 179h6v6h-6zM431 185h6v6h-6zM437 209h6v6h-6zM437 215h6v6h-6zM437 221h6v6h-6zM437 227h6v6h-6zM437 233h6v6h-6zM437 239h6v6h-6zM437 245h6v6h-6zM437 263h6v6h-6zM437 269h6v6h-6zM443 281h6v6h-6zM443 287h6v6h-6zM443 293h6v6h-6zM443 299h6v6h-6zM437 305h6v6h-6zM431 311h6v6h-6zM425 317h6v6h-6zM407 323h6v6h-6zM359 329h30v6h-30zM317 335h6v6h-6zM275 341h6v6h-6zM299 341h6v6h-6zM251 347h6v6h-6zM233 353h6v6h-6z"/><path fill="#00fc90" d="M461 119h6v6h-6zM467 203h6v6h-6zM473 227h6v6h-6zM473 233h6v6h-6zM479 251h6v6h-6zM479 257h6v6h-6zM485 269h6v6h-6zM485 275h6v6h-6zM491 287h6v6h-6zM491 293h6v6h-6zM503 311h6v6h-6zM503 317h6v6h-6zM509 323h6v6h-6zM515 329h6v6h-6zM521 335h6v6h-6zM527 341h6v6h-6zM347 347h6v6h-6zM377 347h6v6h-6zM437 347h36v6h-36zM527 347h6v6h-6zM323 353h18v6h-18zM473 353h12v6h-12zM533 353h6v6h-6zM251 359h6v6h-6zM485 359h6v6h-6zM533 359h6v6h-6zM491 365h6v6h-6zM533 365h6v6h-6zM227 371h6v6h-6zM497 371h12v6h-12zM527 371h12v6h-12zM503 377h30v6h-30zM215 389h6v6h-6z"/><path fill="#00fce4" d="M479 119h6v6h-6zM479 125h6v6h-6zM479 131h6v6h-6zM479 137h6v6h-6zM323 365h6v6h-6zM257 371h12v6h-12zM407 371h6v6h-6zM419 377h6v6h-6zM227 389h6v6h-6zM431 389h6v6h-6zM437 395h6v6h-6zM437 401h6v6h-6zM437 407h6v6h-6zM437 413h12v6h-12zM443 419h6v6h-6zM449 425h6v6h-6zM455 431h6v6h-6z"/><path fill="#00f6fc" d="M485 119h6v6h-6zM485 125h6v6h-6zM491 173h6v6h-6zM317 371h6v6h-6zM257 377h12v6h-12zM239 383h6v6h-6zM383 383h6v6h-6zM233 389h6v6h-6zM401 389h6v6h-6zM401 401h6v6h-6zM401 407h6v6h-6z"/><path fill="#00defc" d="M491 119h6v6h-6zM491 125h6v6h-6zM491 131h6v6h-6zM491 137h6v6h-6zM491 143h6v6h-6zM491 149h6v6h-6zM497 173h6v6h-6zM347 365h6v6h-6zM329 371h6v6h-6zM299 377h6v6h-6zM251 383h6v6h-6zM239 389h6v6h-6zM389 389h6v6h-6zM233 395h6v6h-6zM395 401h6v6h-6zM395 407h6v6h-6zM215 419h6v6h-6zM401 419h6v6h-6zM209 431h6v6h-6z"/><path fill="#00c0fc" d="M497 119h6v6h-6zM497 125h6v6h-6zM497 131h6v6h-6zM497 137h6v6h-6zM497 143h6v6h-6zM503 167h6v6h-6zM509 179h6v6h-6zM341 371h6v6h-6zM353 371h6v6h-6zM323 377h6v6h-6zM359 377h6v6h-6zM281 383h6v6h-6zM365 383h6v6h-6zM251 389h6v6h-6zM383 395h6v6h-6zM389 407h6v6h-6zM215 431h6v6h-6zM209 449h6v6h-6z"/><path fill="#00a8fc" d="M503 119h6v6h-6zM503 125h6v6h-6zM503 131h6v6h-6zM503 143h6v6h-6zM503 149h6v6h-6zM509 167h6v6h-6zM305 383h6v6h-6zM269 389h6v6h-6zM359 389h6v6h-6zM251 395h6v6h-6zM353 395h6v6h-6zM389 419h6v6h-6zM215 449h6v6h-6z"/><path fill="#0090fc" d="M509 119h6v6h-6zM509 125h6v6h-6zM509 131h6v6h-6zM509 137h6v6h-6zM509 143h6v6h-6zM515 161h6v6h-6zM341 389h6v6h-6zM263 395h6v6h-6zM251 401h6v6h-6zM359 401h6v6h-6zM233 413h6v6h-6zM389 431h6v6h-6zM221 449h6v6h-6z"/><path fill="#007efc" d="M515 119h6v6h-6zM515 143h6v6h-6zM515 149h6v6h-6zM521 161h6v6h-6zM299 389h12v6h-12zM329 389h6v6h-6zM257 401h6v6h-6zM347 407h6v6h-6zM383 425h6v6h-6zM227 437h6v6h-6z"/><path fill="#defc00" d="M281 125h6v6h-6zM275 149h6v6h-6zM275 155h6v6h-6zM275 209h6v6h-6zM275 215h6v6h-6zM275 221h6v6h-6zM275 227h6v6h-6zM275 233h6v6h-6zM275 239h6v6h-6zM275 245h6v6h-6zM269 257h6v6h-6zM263 263h6v6h-6zM257 269h6v6h-6zM161 275h18v6h-18zM191 275h12v6h-12zM245 275h6v6h-6zM149 281h6v6h-6zM203 281h12v6h-12zM227 281h12v6h-12zM137 287h6v6h-6z"/><path fill="#ccfc00" d="M287 125h6v6h-6zM287 131h6v6h-6zM281 155h6v6h-6zM281 161h6v6h-6zM281 167h6v6h-6zM281 173h6v6h-6zM281 179h6v6h-6zM281 185h6v6h-6zM287 203h6v6h-6zM287 209h6v6h-6zM287 215h6v6h-6zM287 221h6v6h-6zM287 227h6v6h-6zM287 233h6v6h-6zM287 239h6v6h-6zM287 245h6v6h-6zM281 257h6v6h-6zM275 263h6v6h-6zM263 275h6v6h-6zM251 281h6v6h-6zM155 287h36v6h-36zM239 287h6v6h-6zM143 293h6v6h-6zM191 293h12v6h-12zM227 293h6v6h-6zM131 299h6v6h-6zM203 299h12v6h-12z"/><path fill="#c0fc00" d="M293 125h6v6h-6zM293 131h6v6h-6zM287 155h6v6h-6zM287 161h6v6h-6zM287 167h6v6h-6zM287 173h6v6h-6zM293 191h6v6h-6zM293 197h6v6h-6zM293 203h6v6h-6zM293 209h6v6h-6zM293 215h6v6h-6zM293 239h6v6h-6zM293 245h6v6h-6zM293 251h6v6h-6zM287 263h6v6h-6zM281 269h6v6h-6zM263 281h6v6h-6zM251 287h6v6h-6zM167 293h12v6h-12zM239 293h6v6h-6zM143 299h12v6h-12zM185 299h12v6h-12zM221 299h12v6h-12zM137 305h6v6h-6zM203 305h12v6h-12z"/><path fill="#0078fc" d="M515 125h6v6h-6zM515 131h6v6h-6zM515 137h6v6h-6zM521 155h6v6h-6zM311 389h18v6h-18zM275 395h6v6h-6zM335 395h6v6h-6zM251 407h6v6h-6zM239 413h6v6h-6zM377 413h6v6h-6zM227 443h6v6h-6zM227 449h6v6h-6z"/><path fill="#d8fc00" d="M281 131h6v6h-6zM281 137h6v6h-6zM275 161h6v6h-6zM275 167h6v6h-6zM275 173h6v6h-6zM275 179h6v6h-6zM275 185h6v6h-6zM275 191h6v6h-6zM275 197h6v6h-6zM275 203h6v6h-6zM281 221h6v6h-6zM281 227h6v6h-6zM281 233h6v6h-6zM281 239h6v6h-6zM275 251h6v6h-6zM269 263h6v6h-6zM263 269h6v6h-6zM179 275h12v6h-12zM251 275h6v6h-6zM155 281h12v6h-12zM191 281h12v6h-12zM239 281h6v6h-6zM143 287h6v6h-6zM203 287h30v6h-30z"/><path fill="#aefc00" d="M299 131h6v6h-6zM299 137h6v6h-6zM299 143h6v6h-6zM299 149h6v6h-6zM299 155h6v6h-6zM299 161h6v6h-6zM299 167h6v6h-6zM299 173h6v6h-6zM299 179h6v6h-6zM305 197h6v6h-6zM305 203h6v6h-6zM305 209h6v6h-6zM305 215h6v6h-6zM305 221h6v6h-6zM305 227h6v6h-6zM305 233h6v6h-6zM305 239h6v6h-6zM305 245h6v6h-6zM299 263h6v6h-6zM293 269h6v6h-6zM275 281h6v6h-6zM263 287h6v6h-6zM251 293h6v6h-6zM239 299h6v6h-6zM227 305h6v6h-6zM143 311h18v6h-18zM173 311h42v6h-42zM137 317h6v6h-6z"/><path fill="#00fcfc" d="M485 131h6v6h-6zM485 137h6v6h-6zM485 143h6v6h-6zM485 149h6v6h-6zM485 155h6v6h-6zM485 161h6v6h-6zM491 179h6v6h-6zM335 365h6v6h-6zM365 365h6v6h-6zM311 371h6v6h-6zM371 371h6v6h-6zM245 377h12v6h-12zM377 377h30v6h-30zM401 383h12v6h-12zM407 389h12v6h-12zM227 395h6v6h-6zM407 395h6v6h-6zM221 401h6v6h-6zM407 401h6v6h-6zM407 407h6v6h-6zM407 413h12v6h-12zM413 419h12v6h-12zM419 425h12v6h-12zM425 431h6v6h-6z"/><path fill="#0066fc" d="M521 131h6v6h-6zM521 137h6v6h-6zM329 395h6v6h-6zM335 401h6v6h-6zM257 407h6v6h-6zM341 407h6v6h-6zM245 413h6v6h-6zM377 419h6v6h-6zM233 425h6v6h-6zM353 497h6v6h-6zM341 503h12v6h-12z"/><path fill="#fcf600" d="M263 137h6v6h-6zM263 143h6v6h-6zM257 167h6v6h-6zM251 185h6v6h-6zM245 203h6v6h-6zM245 209h6v6h-6zM239 221h6v6h-6zM239 227h6v6h-6zM233 233h6v6h-6zM227 239h6v6h-6zM221 245h6v6h-6zM179 251h42v6h-42z"/><path fill="#f6fc00" d="M269 137h6v6h-6zM269 143h6v6h-6zM263 167h6v6h-6zM257 191h6v6h-6zM257 197h6v6h-6zM257 203h6v6h-6zM257 209h6v6h-6zM257 215h6v6h-6zM257 221h6v6h-6zM257 227h6v6h-6zM257 233h6v6h-6zM251 239h12v6h-12zM251 245h6v6h-6zM245 251h12v6h-12zM233 257h12v6h-12zM161 263h12v6h-12zM203 263h36v6h-36zM143 269h12v6h-12z"/><path fill="#e4fc00" d="M275 137h6v6h-6zM275 143h6v6h-6zM269 167h6v6h-6zM269 173h6v6h-6zM269 179h6v6h-6zM269 185h6v6h-6zM269 191h6v6h-6zM269 197h6v6h-6zM269 203h6v6h-6zM269 209h6v6h-6zM269 215h6v6h-6zM269 221h6v6h-6zM269 227h6v6h-6zM269 239h6v6h-6zM269 245h6v6h-6zM269 251h6v6h-6zM263 257h6v6h-6zM257 263h6v6h-6zM173 269h24v6h-24zM245 269h12v6h-12zM155 275h6v6h-6zM203 275h6v6h-6zM233 275h12v6h-12zM137 281h12v6h-12zM215 281h12v6h-12z"/><path fill="#c6fc00" d="M287 137h6v6h-6zM287 143h6v6h-6zM287 149h6v6h-6zM287 179h6v6h-6zM287 185h6v6h-6zM287 191h6v6h-6zM287 197h6v6h-6zM293 221h6v6h-6zM293 227h6v6h-6zM293 233h6v6h-6zM287 251h6v6h-6zM287 257h6v6h-6zM281 263h6v6h-6zM275 269h6v6h-6zM269 275h6v6h-6zM257 281h6v6h-6zM245 287h6v6h-6zM149 293h18v6h-18zM179 293h12v6h-12zM233 293h6v6h-6zM137 299h6v6h-6zM197 299h6v6h-6zM215 299h6v6h-6zM131 305h6v6h-6z"/><path fill="#bafc00" d="M293 137h6v6h-6zM293 143h6v6h-6zM293 149h6v6h-6zM293 173h6v6h-6zM293 179h6v6h-6zM293 185h6v6h-6zM299 203h6v6h-6zM299 209h6v6h-6zM299 215h6v6h-6zM299 221h6v6h-6zM299 227h6v6h-6zM299 233h6v6h-6zM299 239h6v6h-6zM293 257h6v6h-6zM275 275h6v6h-6zM257 287h6v6h-6zM245 293h6v6h-6zM155 299h30v6h-30zM143 305h6v6h-6zM185 305h18v6h-18zM215 305h6v6h-6zM131 311h6v6h-6z"/><path fill="#a2fc00" d="M305 137h6v6h-6zM305 143h6v6h-6zM305 149h6v6h-6zM305 155h6v6h-6zM305 161h6v6h-6zM305 167h6v6h-6zM305 173h6v6h-6zM311 191h6v6h-6zM311 197h6v6h-6zM311 203h6v6h-6zM311 209h6v6h-6zM311 215h6v6h-6zM311 221h6v6h-6zM311 227h6v6h-6zM311 233h6v6h-6zM311 239h6v6h-6zM305 263h6v6h-6zM299 269h6v6h-6zM281 281h6v6h-6zM221 311h6v6h-6zM155 317h42v6h-42zM137 323h12v6h-12zM131 329h6v6h-6z"/><path fill="#00fc1e" d="M419 137h6v6h-6zM419 143h6v6h-6zM419 197h6v6h-6zM419 203h6v6h-6zM419 209h6v6h-6zM419 233h6v6h-6zM419 239h6v6h-6zM413 245h6v6h-6zM413 251h6v6h-6zM407 257h6v6h-6zM407 263h6v6h-6zM407 269h6v6h-6zM407 275h12v6h-12zM413 281h6v6h-6zM413 287h12v6h-12zM413 293h12v6h-12zM413 299h6v6h-6zM407 305h6v6h-6zM401 311h6v6h-6zM389 317h6v6h-6zM311 323h12v6h-12zM329 323h36v6h-36zM293 335h6v6h-6zM239 347h6v6h-6zM221 353h6v6h-6z"/><path fill="#00a2fc" d="M503 137h6v6h-6zM509 161h6v6h-6zM515 173h6v6h-6zM341 377h12v6h-12zM311 383h12v6h-12zM353 383h6v6h-6zM275 389h6v6h-6zM353 389h6v6h-6zM359 395h6v6h-6zM245 401h6v6h-6zM353 401h6v6h-6zM383 407h6v6h-6zM221 431h6v6h-6zM395 437h6v6h-6z"/><path fill="#d2fc00" d="M281 143h6v6h-6zM281 149h6v6h-6zM281 191h6v6h-6zM281 197h6v6h-6zM281 203h6v6h-6zM281 209h6v6h-6zM281 215h6v6h-6zM281 245h6v6h-6zM281 251h6v6h-6zM275 257h6v6h-6zM269 269h6v6h-6zM257 275h6v6h-6zM167 281h24v6h-24zM245 281h6v6h-6zM149 287h6v6h-6zM191 287h12v6h-12zM233 287h6v6h-6zM137 293h6v6h-6zM203 293h24v6h-24z"/><path fill="#00fc0c" d="M407 143h6v6h-6zM407 149h6v6h-6zM407 155h6v6h-6zM407 161h6v6h-6zM407 167h6v6h-6zM407 173h6v6h-6zM407 179h6v6h-6zM407 185h6v6h-6zM407 191h6v6h-6zM407 197h6v6h-6zM407 233h6v6h-6zM401 239h6v6h-6zM401 245h6v6h-6zM395 251h6v6h-6zM395 281h6v6h-6zM395 287h6v6h-6zM395 299h6v6h-6zM335 317h12v6h-12zM365 317h12v6h-12zM299 323h6v6h-6zM293 329h6v6h-6zM263 335h6v6h-6zM221 347h12v6h-12zM215 359h6v6h-6z"/><path fill="#006cfc" d="M521 143h6v6h-6zM281 395h6v6h-6zM365 407h6v6h-6z"/><path fill="#96fc00" d="M311 149h6v6h-6zM311 155h6v6h-6zM311 161h6v6h-6zM311 167h6v6h-6zM317 185h6v6h-6zM317 191h6v6h-6zM317 197h6v6h-6zM317 203h6v6h-6zM317 209h6v6h-6zM317 215h6v6h-6zM317 221h6v6h-6zM317 227h6v6h-6zM317 233h6v6h-6zM317 239h6v6h-6zM311 263h6v6h-6zM299 275h6v6h-6zM287 281h6v6h-6zM245 305h6v6h-6zM203 317h6v6h-6zM185 323h6v6h-6zM143 329h36v6h-36zM137 335h6v6h-6z"/><path fill="#00fc00" d="M401 149h6v6h-6zM401 155h6v6h-6zM401 161h6v6h-6zM401 167h6v6h-6zM401 173h6v6h-6zM401 179h6v6h-6zM401 185h6v6h-6zM401 191h6v6h-6zM401 197h6v6h-6zM401 203h6v6h-6zM401 209h6v6h-6zM401 215h6v6h-6zM401 221h6v6h-6zM401 227h6v6h-6zM395 239h6v6h-6zM389 251h6v6h-6zM389 281h6v6h-6zM389 287h6v6h-6zM389 293h6v6h-6zM389 299h6v6h-6zM383 305h6v6h-6zM311 311h30v6h-30zM377 311h6v6h-6zM293 323h6v6h-6zM275 329h12v6h-12zM257 335h6v6h-6z"/><path fill="#00c6fc" d="M497 149h6v6h-6zM497 155h6v6h-6zM503 173h6v6h-6zM275 383h6v6h-6zM233 401h6v6h-6zM389 401h6v6h-6zM227 407h6v6h-6zM395 419h6v6h-6zM401 431h6v6h-6z"/><path fill="#0096fc" d="M509 149h6v6h-6zM515 167h6v6h-6zM335 383h12v6h-12zM281 389h6v6h-6zM377 401h6v6h-6zM239 407h6v6h-6zM383 413h6v6h-6zM227 419h6v6h-6zM221 443h6v6h-6z"/><path fill="#0072fc" d="M521 149h6v6h-6zM263 401h6v6h-6zM359 407h6v6h-6zM371 407h6v6h-6zM233 419h6v6h-6zM227 455h6v6h-6z"/><path fill="#b4fc00" d="M293 155h6v6h-6zM293 161h6v6h-6zM293 167h6v6h-6zM299 185h6v6h-6zM299 191h6v6h-6zM299 197h6v6h-6zM299 245h6v6h-6zM299 251h6v6h-6zM299 257h6v6h-6zM293 263h6v6h-6zM287 269h6v6h-6zM281 275h6v6h-6zM269 281h6v6h-6zM233 299h6v6h-6zM149 305h36v6h-36zM221 305h6v6h-6zM137 311h6v6h-6zM131 317h6v6h-6z"/><path fill="#12fc00" d="M389 155h6v6h-6zM389 161h6v6h-6zM389 167h6v6h-6zM389 173h6v6h-6zM389 179h6v6h-6zM389 185h6v6h-6zM389 191h6v6h-6zM389 197h6v6h-6zM389 203h6v6h-6zM389 209h6v6h-6zM389 215h6v6h-6zM389 221h6v6h-6zM389 227h6v6h-6zM383 239h6v6h-6zM383 245h6v6h-6zM311 305h12v6h-12zM335 305h6v6h-6zM299 311h6v6h-6zM293 317h6v6h-6zM281 323h6v6h-6zM263 329h6v6h-6zM221 341h6v6h-6zM233 341h6v6h-6z"/><path fill="#06fc00" d="M395 155h6v6h-6zM395 161h6v6h-6zM395 167h6v6h-6zM395 173h6v6h-6zM395 179h6v6h-6zM395 227h6v6h-6zM395 233h6v6h-6zM389 239h6v6h-6zM389 245h6v6h-6zM383 263h6v6h-6zM383 269h6v6h-6zM305 311h6v6h-6zM341 311h6v6h-6zM371 311h6v6h-6zM299 317h6v6h-6zM269 329h6v6h-6zM239 341h6v6h-6zM209 365h6v6h-6zM191 383h6v6h-6z"/><path fill="#00e4fc" d="M491 155h6v6h-6zM497 179h6v6h-6zM353 365h6v6h-6zM293 377h6v6h-6zM245 383h6v6h-6zM395 395h6v6h-6zM227 401h6v6h-6zM407 425h6v6h-6zM413 431h6v6h-6z"/><path fill="#00aefc" d="M503 155h6v6h-6zM335 377h6v6h-6zM353 377h6v6h-6zM299 383h6v6h-6zM365 389h6v6h-6zM377 395h6v6h-6zM383 401h6v6h-6zM233 407h6v6h-6zM227 413h6v6h-6zM221 425h6v6h-6zM395 431h6v6h-6zM215 443h6v6h-6z"/><path fill="#009cfc" d="M509 155h6v6h-6zM323 383h12v6h-12zM347 383h6v6h-6zM347 389h6v6h-6zM257 395h6v6h-6zM347 395h6v6h-6zM365 395h12v6h-12zM347 401h6v6h-6zM389 425h6v6h-6zM221 437h6v6h-6z"/><path fill="#008afc" d="M515 155h6v6h-6zM287 389h6v6h-6zM341 395h6v6h-6zM371 401h6v6h-6zM227 425h6v6h-6zM221 455h6v6h-6z"/><path fill="#90fc00" d="M317 161h6v6h-6zM317 167h6v6h-6zM317 173h6v6h-6zM317 179h6v6h-6zM317 245h6v6h-6zM317 251h6v6h-6zM311 269h6v6h-6zM281 287h6v6h-6zM269 293h6v6h-6zM257 299h6v6h-6zM233 311h6v6h-6zM209 317h12v6h-12zM191 323h6v6h-6zM179 329h6v6h-6zM143 335h36v6h-36zM131 341h12v6h-12z"/><path fill="#00eafc" d="M491 161h6v6h-6zM341 365h6v6h-6zM323 371h6v6h-6zM365 371h6v6h-6zM281 377h12v6h-12zM371 377h6v6h-6zM377 383h6v6h-6zM389 383h6v6h-6zM395 389h6v6h-6zM221 407h6v6h-6zM401 413h6v6h-6z"/><path fill="#00d2fc" d="M497 161h6v6h-6zM503 179h6v6h-6zM335 371h6v6h-6zM359 371h6v6h-6zM311 377h6v6h-6zM263 383h6v6h-6zM389 395h6v6h-6zM221 413h6v6h-6zM395 413h6v6h-6zM401 425h6v6h-6zM209 437h6v6h-6z"/><path fill="#00bafc" d="M503 161h6v6h-6zM347 371h6v6h-6zM329 377h6v6h-6zM287 383h6v6h-6zM257 389h6v6h-6zM371 389h6v6h-6zM245 395h6v6h-6zM221 419h6v6h-6zM395 425h6v6h-6zM215 437h6v6h-6zM401 437h6v6h-6z"/><path fill="#1efc00" d="M383 167h6v6h-6zM383 173h6v6h-6zM383 179h6v6h-6zM383 185h6v6h-6zM383 209h6v6h-6zM383 215h6v6h-6zM383 221h6v6h-6zM377 245h6v6h-6zM377 251h6v6h-6zM377 257h6v6h-6zM377 269h6v6h-6zM377 275h6v6h-6zM377 281h6v6h-6zM377 287h6v6h-6zM377 293h6v6h-6zM323 299h18v6h-18zM305 305h6v6h-6zM347 305h6v6h-6zM365 305h6v6h-6zM293 311h6v6h-6zM287 317h6v6h-6zM269 323h6v6h-6zM227 341h6v6h-6zM209 359h6v6h-6z"/><path fill="#00f0fc" d="M491 167h6v6h-6zM359 365h6v6h-6zM269 377h12v6h-12zM395 383h6v6h-6zM401 395h6v6h-6zM215 413h6v6h-6zM407 419h6v6h-6zM209 425h6v6h-6zM413 425h6v6h-6z"/><path fill="#00d8fc" d="M497 167h6v6h-6zM305 377h6v6h-6zM365 377h6v6h-6zM257 383h6v6h-6zM371 383h6v6h-6zM383 389h6v6h-6zM407 431h6v6h-6z"/><path fill="#9cfc00" d="M311 173h6v6h-6zM311 179h6v6h-6zM311 185h6v6h-6zM311 245h6v6h-6zM311 251h6v6h-6zM311 257h6v6h-6zM305 269h6v6h-6zM293 275h6v6h-6zM275 287h6v6h-6zM263 293h6v6h-6zM251 299h6v6h-6zM239 305h6v6h-6zM227 311h6v6h-6zM197 317h6v6h-6zM149 323h36v6h-36zM137 329h6v6h-6zM131 335h6v6h-6z"/><path fill="#84fc00" d="M323 173h6v6h-6zM323 179h6v6h-6zM329 209h6v6h-6zM329 215h6v6h-6zM329 221h6v6h-6zM323 245h6v6h-6zM299 281h6v6h-6zM287 287h6v6h-6zM275 293h6v6h-6zM227 317h6v6h-6zM191 329h6v6h-6zM185 335h6v6h-6zM179 341h6v6h-6zM143 347h36v6h-36zM131 353h12v6h-12z"/><path fill="#00b4fc" d="M509 173h6v6h-6zM293 383h6v6h-6zM359 383h6v6h-6zM263 389h6v6h-6zM239 401h6v6h-6zM389 413h6v6h-6z"/><path fill="#a8fc00" d="M305 179h6v6h-6zM305 185h6v6h-6zM305 191h6v6h-6zM305 251h6v6h-6zM305 257h6v6h-6zM287 275h6v6h-6zM269 287h6v6h-6zM257 293h6v6h-6zM245 299h6v6h-6zM233 305h6v6h-6zM161 311h12v6h-12zM215 311h6v6h-6zM143 317h12v6h-12zM131 323h6v6h-6z"/><path fill="#7efc00" d="M329 179h6v6h-6zM329 185h6v6h-6zM329 191h6v6h-6zM329 197h6v6h-6zM329 203h6v6h-6zM329 227h6v6h-6zM329 233h6v6h-6zM329 239h6v6h-6zM323 251h6v6h-6zM323 257h6v6h-6zM317 269h6v6h-6zM311 275h6v6h-6zM269 299h6v6h-6zM257 305h6v6h-6zM245 311h6v6h-6zM233 317h6v6h-6zM203 323h6v6h-6zM185 341h6v6h-6zM179 347h6v6h-6zM143 353h36v6h-36zM131 359h6v6h-6z"/><path fill="#8afc00" d="M323 185h6v6h-6zM323 191h6v6h-6zM323 197h6v6h-6zM323 203h6v6h-6zM323 209h6v6h-6zM323 215h6v6h-6zM323 221h6v6h-6zM323 227h6v6h-6zM323 233h6v6h-6zM323 239h6v6h-6zM317 257h6v6h-6zM317 263h6v6h-6zM305 275h6v6h-6zM293 281h6v6h-6zM263 299h6v6h-6zM251 305h6v6h-6zM239 311h6v6h-6zM221 317h6v6h-6zM197 323h6v6h-6zM185 329h6v6h-6zM179 335h6v6h-6zM143 341h36v6h-36zM131 347h12v6h-12z"/><path fill="#0cfc00" d="M395 185h6v6h-6zM395 191h6v6h-6zM395 197h6v6h-6zM395 203h6v6h-6zM395 209h6v6h-6zM395 215h6v6h-6zM395 221h6v6h-6zM389 233h6v6h-6zM383 251h6v6h-6zM383 257h6v6h-6zM383 275h6v6h-6zM383 281h6v6h-6zM383 287h6v6h-6zM383 293h6v6h-6zM383 299h6v6h-6zM323 305h12v6h-12zM377 305h6v6h-6zM347 311h24v6h-24zM287 323h6v6h-6zM251 335h6v6h-6zM215 341h6v6h-6zM203 371h6v6h-6zM197 377h6v6h-6z"/><path fill="#72fc00" d="M335 191h6v6h-6zM335 233h6v6h-6zM335 239h6v6h-6zM335 245h6v6h-6zM329 257h6v6h-6zM329 263h6v6h-6zM323 269h6v6h-6zM317 275h6v6h-6zM275 299h6v6h-6zM263 305h6v6h-6zM251 311h6v6h-6zM239 317h6v6h-6zM215 323h6v6h-6zM191 341h6v6h-6zM191 347h6v6h-6zM185 353h6v6h-6zM155 359h12v6h-12zM137 365h12v6h-12z"/><path fill="#78fc00" d="M335 197h6v6h-6zM335 203h6v6h-6zM335 209h6v6h-6zM335 215h6v6h-6zM335 221h6v6h-6zM335 227h6v6h-6zM329 245h6v6h-6zM329 251h6v6h-6zM323 263h6v6h-6zM305 281h6v6h-6zM293 287h6v6h-6zM281 293h6v6h-6zM209 323h6v6h-6zM197 329h6v6h-6zM191 335h6v6h-6zM185 347h6v6h-6zM179 353h6v6h-6zM137 359h18v6h-18z"/><path fill="#6cfc00" d="M341 197h6v6h-6zM341 203h6v6h-6zM341 209h6v6h-6zM341 215h6v6h-6zM341 221h6v6h-6zM341 227h6v6h-6zM341 233h6v6h-6zM341 239h6v6h-6zM341 245h6v6h-6zM335 251h6v6h-6zM335 257h6v6h-6zM335 263h6v6h-6zM329 269h6v6h-6zM323 275h6v6h-6zM311 281h6v6h-6zM299 287h6v6h-6zM287 293h6v6h-6zM221 323h12v6h-12zM191 353h6v6h-6zM185 359h6v6h-6zM149 365h6v6h-6z"/><path fill="#00fc12" d="M413 197h6v6h-6zM413 203h6v6h-6zM413 209h6v6h-6zM413 215h6v6h-6zM413 221h6v6h-6zM413 227h6v6h-6zM413 233h6v6h-6zM407 239h6v6h-6zM401 251h6v6h-6zM395 257h6v6h-6zM395 263h6v6h-6zM395 269h6v6h-6zM395 275h6v6h-6zM401 281h6v6h-6zM401 287h6v6h-6zM401 293h6v6h-6zM401 299h6v6h-6zM395 305h6v6h-6zM389 311h6v6h-6zM311 317h24v6h-24zM377 317h6v6h-6zM233 347h6v6h-6zM203 377h6v6h-6zM197 383h6v6h-6zM191 389h6v6h-6z"/><path fill="#00fc06" d="M407 203h6v6h-6zM407 209h6v6h-6zM407 215h6v6h-6zM407 221h6v6h-6zM407 227h6v6h-6zM401 233h6v6h-6zM395 245h6v6h-6zM389 257h6v6h-6zM389 263h6v6h-6zM389 269h6v6h-6zM389 275h6v6h-6zM395 293h6v6h-6zM389 305h6v6h-6zM383 311h6v6h-6zM305 317h6v6h-6zM347 317h18v6h-18zM287 329h6v6h-6zM245 341h6v6h-6zM215 347h6v6h-6zM215 353h6v6h-6z"/><path fill="#36fc00" d="M371 209h6v6h-6zM371 215h6v6h-6zM323 293h6v6h-6zM341 293h6v6h-6zM365 293h6v6h-6zM305 299h6v6h-6zM353 299h12v6h-12zM293 305h6v6h-6zM269 317h6v6h-6zM257 323h6v6h-6zM245 329h6v6h-6zM221 335h12v6h-12z"/><path fill="#2afc00" d="M377 209h6v6h-6zM377 215h6v6h-6zM377 221h6v6h-6zM371 293h6v6h-6zM311 299h6v6h-6zM365 299h6v6h-6zM299 305h6v6h-6zM263 323h6v6h-6zM251 329h6v6h-6zM239 335h6v6h-6zM209 353h6v6h-6zM203 365h6v6h-6zM197 371h6v6h-6z"/><path fill="#3cfc00" d="M365 215h6v6h-6zM365 221h6v6h-6zM365 227h6v6h-6zM365 233h6v6h-6zM365 239h6v6h-6zM365 245h6v6h-6zM365 251h6v6h-6zM365 287h6v6h-6zM317 293h6v6h-6zM347 293h6v6h-6zM299 299h6v6h-6zM281 311h6v6h-6zM209 335h6v6h-6zM191 371h6v6h-6z"/><path fill="#60fc00" d="M347 221h6v6h-6zM347 227h6v6h-6zM347 233h6v6h-6zM347 239h6v6h-6zM347 245h6v6h-6zM347 251h6v6h-6zM353 263h6v6h-6zM353 269h6v6h-6zM329 275h30v6h-30zM317 281h6v6h-6zM305 287h6v6h-6zM293 293h6v6h-6zM197 341h6v6h-6zM197 347h6v6h-6zM197 353h6v6h-6zM191 359h6v6h-6z"/><path fill="#54fc00" d="M353 221h6v6h-6zM353 227h6v6h-6zM353 233h6v6h-6zM353 239h6v6h-6zM359 263h6v6h-6zM359 275h6v6h-6zM329 281h18v6h-18zM359 281h6v6h-6zM299 293h6v6h-6zM215 329h18v6h-18zM203 335h6v6h-6zM197 359h6v6h-6z"/><path fill="#48fc00" d="M359 221h6v6h-6zM359 227h6v6h-6zM359 233h6v6h-6zM359 239h6v6h-6zM365 269h6v6h-6zM365 275h6v6h-6zM323 287h6v6h-6zM341 287h6v6h-6zM359 287h6v6h-6zM305 293h6v6h-6zM293 299h6v6h-6zM275 311h6v6h-6zM203 347h6v6h-6z"/><path fill="#30fc00" d="M371 221h6v6h-6zM371 227h6v6h-6zM371 233h6v6h-6zM371 239h6v6h-6zM371 245h6v6h-6zM371 251h6v6h-6zM371 257h6v6h-6zM371 263h6v6h-6zM371 269h6v6h-6zM371 275h6v6h-6zM371 281h6v6h-6zM371 287h6v6h-6zM329 293h12v6h-12zM347 299h6v6h-6zM287 311h6v6h-6zM275 317h6v6h-6zM215 335h6v6h-6zM233 335h6v6h-6z"/><path fill="#24fc00" d="M377 227h6v6h-6zM377 233h6v6h-6zM377 239h6v6h-6zM317 299h6v6h-6zM341 299h6v6h-6zM371 299h6v6h-6zM353 305h12v6h-12zM281 317h6v6h-6zM209 341h6v6h-6zM191 377h6v6h-6z"/><path fill="#18fc00" d="M383 227h6v6h-6zM383 233h6v6h-6zM377 263h6v6h-6zM377 299h6v6h-6zM341 305h6v6h-6zM371 305h6v6h-6zM275 323h6v6h-6zM257 329h6v6h-6zM245 335h6v6h-6zM209 347h6v6h-6z"/><path fill="#5afc00" d="M353 245h6v6h-6zM353 251h6v6h-6zM353 257h6v6h-6zM359 269h6v6h-6zM323 281h6v6h-6zM347 281h12v6h-12zM311 287h6v6h-6zM287 299h6v6h-6zM275 305h6v6h-6zM263 311h6v6h-6zM251 317h6v6h-6zM239 323h6v6h-6zM209 329h6v6h-6z"/><path fill="#4efc00" d="M359 245h6v6h-6zM359 251h6v6h-6zM359 257h6v6h-6zM317 287h6v6h-6zM347 287h12v6h-12zM281 305h6v6h-6zM269 311h6v6h-6zM257 317h6v6h-6zM245 323h6v6h-6zM233 329h6v6h-6zM203 353h6v6h-6zM191 365h6v6h-6z"/><path fill="#66fc00" d="M341 251h6v6h-6zM341 257h12v6h-12zM341 263h12v6h-12zM335 269h18v6h-18zM281 299h6v6h-6zM269 305h6v6h-6zM257 311h6v6h-6zM245 317h6v6h-6zM233 323h6v6h-6zM203 329h6v6h-6zM197 335h6v6h-6z"/><path fill="#42fc00" d="M365 257h6v6h-6zM365 263h6v6h-6zM365 281h6v6h-6zM329 287h12v6h-12zM311 293h6v6h-6zM353 293h12v6h-12zM287 305h6v6h-6zM263 317h6v6h-6zM251 323h6v6h-6zM239 329h6v6h-6zM203 341h6v6h-6zM203 359h6v6h-6zM197 365h6v6h-6z"/><path fill="#00ccfc" d="M317 377h6v6h-6zM269 383h6v6h-6zM245 389h6v6h-6zM377 389h6v6h-6zM239 395h6v6h-6zM215 425h6v6h-6zM407 437h6v6h-6zM209 443h6v6h-6z"/><path fill="#0084fc" d="M293 389h6v6h-6zM335 389h6v6h-6zM269 395h6v6h-6zM341 401h6v6h-6zM365 401h6v6h-6zM245 407h6v6h-6zM353 407h6v6h-6zM377 407h6v6h-6zM383 419h6v6h-6zM227 431h6v6h-6z"/><path fill="#0060fc" d="M287 395h6v6h-6zM269 401h6v6h-6zM371 413h6v6h-6zM233 431h6v6h-6zM233 437h6v6h-6zM233 443h6v6h-6zM233 449h6v6h-6zM233 455h6v6h-6zM341 497h12v6h-12zM335 503h6v6h-6z"/><path fill="#005afc" d="M293 395h6v6h-6zM323 395h6v6h-6zM251 413h6v6h-6zM239 419h6v6h-6zM377 425h6v6h-6zM347 491h12v6h-12zM335 497h6v6h-6zM323 503h12v6h-12z"/><path fill="#0054fc" d="M299 395h24v6h-24zM275 401h6v6h-6zM263 407h6v6h-6zM377 431h6v6h-6zM353 485h6v6h-6zM335 491h12v6h-12zM329 497h6v6h-6zM317 503h6v6h-6z"/><path fill="#0042fc" d="M281 401h6v6h-6zM323 401h6v6h-6zM269 407h6v6h-6zM341 413h6v6h-6zM251 419h6v6h-6zM371 425h6v6h-6zM245 467h6v6h-6zM347 479h6v6h-6zM329 485h6v6h-6zM317 491h6v6h-6z"/><path fill="#0036fc" d="M287 401h6v6h-6zM317 401h6v6h-6zM275 407h6v6h-6zM329 407h6v6h-6zM257 419h6v6h-6zM365 419h6v6h-6zM245 431h6v6h-6zM371 437h6v6h-6zM245 443h6v6h-6zM245 449h6v6h-6zM245 455h6v6h-6zM251 467h6v6h-6zM353 467h6v6h-6zM341 473h12v6h-12zM257 479h6v6h-6zM329 479h6v6h-6zM263 485h6v6h-6zM311 485h12v6h-12z"/><path fill="#0030fc" d="M293 401h24v6h-24zM335 413h6v6h-6zM251 425h6v6h-6zM245 437h6v6h-6zM251 461h6v6h-6zM347 467h6v6h-6zM257 473h6v6h-6zM335 473h6v6h-6zM263 479h6v6h-6zM317 479h12v6h-12zM269 485h30v6h-30zM305 485h6v6h-6z"/><path fill="#004efc" d="M329 401h6v6h-6zM335 407h6v6h-6zM257 413h6v6h-6zM365 413h6v6h-6zM245 419h6v6h-6zM371 419h6v6h-6zM239 425h6v6h-6zM347 485h6v6h-6zM329 491h6v6h-6zM323 497h6v6h-6z"/><path fill="#0024fc" d="M281 407h6v6h-6zM323 407h6v6h-6zM329 413h6v6h-6zM257 425h6v6h-6zM365 425h6v6h-6zM365 431h6v6h-6zM251 437h6v6h-6zM365 437h6v6h-6zM251 443h6v6h-6zM251 449h6v6h-6zM257 461h6v6h-6zM347 461h6v6h-6zM263 467h6v6h-6zM323 467h18v6h-18zM269 473h6v6h-6zM299 473h18v6h-18zM281 479h18v6h-18z"/><path fill="#0018fc" d="M287 407h6v6h-6zM305 407h12v6h-12zM323 413h6v6h-6zM335 419h6v6h-6zM353 419h6v6h-6zM263 425h6v6h-6zM257 437h6v6h-6zM257 443h6v6h-6zM257 449h6v6h-6zM263 455h6v6h-6zM311 455h42v6h-42zM269 461h6v6h-6zM299 461h18v6h-18zM275 467h30v6h-30z"/><path fill="#0012fc" d="M293 407h12v6h-12zM281 413h6v6h-6zM275 419h6v6h-6zM329 419h6v6h-6zM269 425h6v6h-6zM359 425h6v6h-6zM263 431h6v6h-6zM359 431h6v6h-6zM263 437h6v6h-6zM359 437h6v6h-6zM263 443h6v6h-6zM317 443h12v6h-12zM263 449h6v6h-6zM305 449h48v6h-48zM269 455h6v6h-6zM299 455h12v6h-12zM275 461h24v6h-24z"/><path fill="#001efc" d="M317 407h6v6h-6zM275 413h6v6h-6zM269 419h6v6h-6zM341 419h12v6h-12zM359 419h6v6h-6zM257 431h6v6h-6zM257 455h6v6h-6zM353 455h6v6h-6zM263 461h6v6h-6zM317 461h30v6h-30zM269 467h6v6h-6zM305 467h18v6h-18zM275 473h24v6h-24z"/><path fill="#003cfc" d="M263 413h6v6h-6zM353 413h12v6h-12zM245 425h6v6h-6zM371 431h6v6h-6zM245 461h6v6h-6zM251 473h6v6h-6zM353 473h6v6h-6zM335 479h12v6h-12zM323 485h6v6h-6zM305 491h12v6h-12z"/><path fill="#002afc" d="M269 413h6v6h-6zM263 419h6v6h-6zM251 431h6v6h-6zM251 455h6v6h-6zM353 461h6v6h-6zM257 467h6v6h-6zM341 467h6v6h-6zM263 473h6v6h-6zM317 473h18v6h-18zM269 479h12v6h-12zM299 479h18v6h-18z"/><path fill="#0006fc" d="M287 413h6v6h-6zM299 413h12v6h-12zM281 419h6v6h-6zM311 419h12v6h-12zM275 425h6v6h-6zM317 425h12v6h-12zM275 431h6v6h-6zM305 431h54v6h-54zM269 437h12v6h-12zM299 437h18v6h-18zM329 437h30v6h-30zM275 443h30v6h-30zM341 443h6v6h-6zM275 449h18v6h-18z"/><path fill="#0000fc" d="M293 413h6v6h-6zM287 419h24v6h-24zM281 425h36v6h-36zM281 431h24v6h-24zM281 437h18v6h-18z"/><path fill="#000cfc" d="M311 413h12v6h-12zM323 419h6v6h-6zM329 425h30v6h-30zM269 431h6v6h-6zM317 437h12v6h-12zM269 443h6v6h-6zM305 443h12v6h-12zM329 443h12v6h-12zM347 443h6v6h-6zM269 449h6v6h-6zM293 449h12v6h-12zM275 455h24v6h-24z"/><path fill="#0048fc" d="M347 413h6v6h-6zM239 431h6v6h-6zM239 437h6v6h-6zM239 443h6v6h-6zM239 449h6v6h-6zM239 455h6v6h-6zM353 479h6v6h-6zM335 485h12v6h-12zM323 491h6v6h-6zM311 497h12v6h-12z"/></g></g>
<path d="M559 508.5L563 502L569 496L575 491L580 487L583 484.5L586.5 484V508.5Z" fill="#aec4e4"/>
<path d="M551.3 71.3L555.4 78.1M555.4 75.9L561.8 70.9" stroke="#b4bccb" stroke-width="1.3" fill="none"/>
<path d="M475.7 492.3L473.7 496.2L476.2 500.7L483.3 501.3L488.9 503.5L492.5 506.9" stroke="#d6d9d5" stroke-width="1.2" fill="none"/>
<path d="M209.8 70.0 L213.3 68.8 L217.0 69.1 L217.6 72.2 L216.7 75.4 L217.2 78.6 L217.4 81.8 L218.5 85.3 L218.2 89.0 L218.5 92.6 L218.8 96.3 L219.7 99.9 L218.9 103.5 L220.2 107.1 L219.8 110.8 L222.2 114.3 L224.3 118.0 L226.1 121.1 L228.0 124.0 L229.7 127.1 L230.0 123.8 L230.5 120.5 L231.0 117.2 L229.9 113.8 L230.8 110.5 L230.6 107.1 L232.7 104.9 L234.0 102.1 L236.1 99.9 L237.6 96.2 L240.6 93.5 L244.2 89.9 L246.4 93.2 L249.7 95.4 L252.4 97.8 L254.8 100.6 L256.9 103.5 L258.1 106.9 L260.4 109.6 L262.4 112.6 L264.2 115.3 L266.0 118.0 L263.8 120.5 L262.4 123.5 L264.1 126.4 L264.2 129.8 L265.7 133.2 L267.8 136.2 L269.6 141.6 L272.1 145.1 L274.2 148.8 L275.9 145.7 L278.7 143.4 L282.4 142.8 L285.9 141.6 L289.1 140.4 L291.4 138.0 L293.2 140.5 L293.9 143.5 L295.8 146.0 L296.8 148.8 L298.3 152.2 L300.1 155.4 L302.7 158.1 L304.1 161.5 L304.9 164.5 L306.5 167.1 L307.9 169.8 L309.5 172.4 L310.4 175.4 L312.3 177.8 L313.2 180.8 L315.0 183.3 L316.8 186.7 L320.3 188.9 L322.2 192.4 L323.5 195.2 L326.0 197.1 L327.6 199.6 L326.0 197.7 L330.0 201.7 L329.5 205.7 L329.0 209.6 L331.2 212.0 L332.0 215.1 L334.0 217.6 L335.6 220.8 L336.0 224.5 L337.9 227.6 L340.9 230.0 L343.2 233.0 L345.9 235.6 L348.9 239.6 L352.6 239.0 L356.3 239.1 L359.9 238.6 L362.2 235.8 L364.8 233.5 L367.9 231.6 L370.8 230.3 L373.4 228.6 L375.8 226.6 L379.9 225.2 L383.8 223.6 L384.6 226.9 L386.8 229.6 L390.0 227.1 L393.8 225.6 L398.1 224.2 L401.8 221.6 L403.3 218.3 L405.8 215.6 L406.1 212.5 L405.0 209.6 L404.5 206.6 L403.8 203.7 L403.8 200.5 L402.8 197.5 L402.0 194.6 L400.8 191.7 L399.5 188.8 L399.5 185.7 L398.5 182.8 L398.8 179.7 L398.6 176.3 L398.9 173.0 L399.8 169.7 L403.1 168.3 L405.8 165.8 L408.0 163.2 L410.9 161.5 L413.7 159.8 L416.7 156.8 L419.7 153.8 L422.3 150.8 L424.4 147.6 L425.7 143.8 L428.0 140.0 L429.7 135.8 L427.3 133.1 L425.7 129.9 L428.8 126.9 L431.7 123.9 L435.1 122.9 L438.0 120.5 L441.7 119.9 L442.7 117.0 L442.9 113.8 L444.1 111.0 L444.7 107.9 L444.5 103.9 L443.7 99.9 L446.6 100.5 L449.6 100.5 L452.6 100.8 L455.6 100.9 L458.8 100.4 L462.0 100.9 L465.2 100.3 L468.4 100.9 L471.6 100.9 L469.5 103.2 L467.2 105.3 L465.6 107.9 L466.4 111.2 L467.8 114.4 L467.6 117.9 L470.6 119.9 L473.6 121.9 L473.1 125.5 L471.6 128.9 L469.6 132.9 L471.8 135.4 L474.7 137.2 L477.2 139.4 L479.6 141.8 L482.7 141.8 L485.5 140.1 L488.5 139.3 L491.5 138.8 L494.0 136.6 L496.8 134.8 L499.5 132.9 L502.4 131.7 L505.5 132.0 L508.5 131.5 L509.8 135.0 L512.5 137.8 L513.3 141.9 L514.5 145.8 L513.5 148.7 L512.7 151.7 L512.4 154.7 L512.5 157.8 L511.0 161.0 L509.9 164.3 L509.5 167.8 L506.1 167.5 L502.9 168.9 L499.5 168.8 L495.5 170.3 L491.5 171.7 L488.5 171.8 L485.5 171.7 L482.6 170.9 L479.6 170.7 L476.1 169.4 L473.0 167.2 L469.6 165.8 L467.0 167.6 L465.0 170.3 L462.2 171.8 L459.6 173.7 L456.5 170.9 L453.6 167.8 L449.6 166.8 L447.3 169.5 L446.3 173.2 L443.7 175.7 L441.4 178.2 L438.3 179.7 L435.7 181.7 L434.8 184.8 L433.7 187.7 L435.4 190.9 L437.7 193.7 L438.5 197.1 L439.2 200.6 L438.4 204.3 L439.7 207.6 L442.6 209.3 L445.4 211.1 L447.6 213.6 L450.5 212.0 L453.5 210.9 L456.4 209.4 L459.6 208.6 L462.6 208.0 L465.8 207.9 L468.4 205.7 L471.6 205.6 L474.3 208.2 L476.7 211.2 L479.6 213.6 L480.9 217.9 L483.5 221.6 L480.8 223.7 L480.1 227.3 L477.6 229.6 L476.5 233.1 L474.9 236.4 L475.3 240.3 L473.6 243.5 L472.9 246.5 L473.2 249.6 L471.6 252.4 L471.6 255.5 L469.6 259.5 L470.9 262.6 L473.5 264.9 L475.6 267.5 L478.2 269.4 L480.2 272.0 L481.7 274.9 L483.5 277.4 L485.8 279.9 L489.1 281.1 L491.5 283.4 L487.0 287.3 L485.3 289.8 L484.3 292.7 L483.1 295.5 L481.5 298.1 L480.1 301.1 L477.9 303.6 L476.7 306.8 L476.4 310.3 L475.2 313.5 L477.2 317.5 L478.8 321.7 L480.2 325.0 L482.5 327.7 L484.3 330.8 L486.1 327.8 L487.0 324.4 L490.0 324.8 L493.1 324.4 L496.0 325.3 L499.7 325.7 L503.3 326.2 L505.5 329.8 L508.7 332.6 L509.2 335.6 L509.1 338.8 L510.6 341.7 L514.5 342.2 L517.8 344.4 L523.2 346.2 L526.9 341.7 L530.5 345.3 L533.5 344.7 L536.6 345.2 L539.6 344.4 L542.4 343.3 L545.0 341.7 L550.4 343.5 L552.2 347.1 L554.1 350.7 L555.2 353.6 L556.8 356.2 L555.2 359.6 L555.0 363.4 L554.0 366.4 L553.7 369.4 L553.2 372.5 L549.9 373.7 L546.8 375.2 L543.3 374.0 L539.6 373.4 L537.4 375.7 L534.5 377.4 L532.3 379.7 L530.3 382.1 L528.3 384.4 L526.9 387.2 L525.1 389.7 L521.4 385.2 L517.4 384.1 L514.2 381.5 L510.5 383.8 L506.9 386.1 L503.7 386.7 L500.8 388.3 L497.9 389.7 L494.5 392.2 L491.5 395.1 L492.2 399.2 L492.4 403.3 L489.9 406.2 L487.0 408.7 L484.0 408.3 L480.9 409.5 L477.9 408.7 L474.6 410.0 L471.5 411.8 L468.8 414.2 L466.7 410.9 L463.4 408.7 L459.9 410.3 L456.2 410.6 L455.7 413.7 L453.3 416.1 L453.1 419.3 L452.2 422.3 L450.7 425.1 L448.2 423.4 L446.1 421.2 L443.5 419.6 L440.8 417.8 L438.9 415.1 L436.9 412.6 L434.4 410.6 L432.2 413.4 L431.5 417.0 L429.0 419.6 L427.1 417.0 L424.3 415.2 L422.1 412.9 L419.9 410.6 L418.0 413.2 L416.6 416.2 L413.9 418.3 L412.6 421.4 L409.8 425.0 L406.3 427.8 L405.4 427.6 L402.5 424.6 L399.4 421.7 L395.9 420.9 L392.8 418.8 L389.4 417.7 L387.0 415.8 L384.2 414.6 L380.9 414.5 L378.5 412.7 L376.3 416.1 L374.5 419.7 L372.2 422.7 L371.6 426.6 L369.5 429.6 L365.5 428.8 L361.5 427.6 L357.4 428.3 L353.5 429.6 L349.7 427.7 L345.6 426.6 L342.6 429.2 L339.6 431.6 L337.4 434.5 L335.6 437.6 L336.0 441.0 L337.2 444.2 L337.6 447.6 L338.7 451.0 L340.1 454.3 L341.6 457.6 L342.0 460.6 L343.1 463.5 L344.1 466.5 L344.6 469.5 L345.0 472.8 L344.5 476.2 L345.6 479.5 L346.8 483.1 L347.5 486.7 L347.6 490.5 L343.6 494.5 L340.2 495.0 L337.0 493.2 L333.6 493.5 L330.7 492.3 L327.6 493.4 L324.6 493.1 L321.6 492.5 L319.2 489.2 L317.6 485.5 L316.8 482.1 L315.6 478.8 L314.7 475.5 L314.2 471.7 L312.2 468.3 L311.7 464.5 L308.4 465.4 L305.7 467.5 L303.4 469.6 L300.7 471.1 L298.7 473.5 L295.7 474.3 L292.9 475.3 L290.5 477.3 L287.7 478.5 L284.5 477.3 L281.1 476.4 L277.8 475.5 L273.8 476.1 L269.8 475.5 L265.8 471.5 L263.8 468.9 L262.4 465.7 L259.8 463.5 L260.0 460.4 L258.0 457.7 L258.6 454.5 L257.8 451.6 L253.8 448.6 L250.8 448.4 L247.7 448.2 L244.7 447.7 L241.9 446.6 L238.9 445.8 L235.9 445.3 L232.9 445.8 L229.9 445.6 L226.9 445.1 L223.9 444.2 L220.9 443.6 L222.0 439.7 L221.9 435.6 L224.3 431.8 L225.9 427.6 L225.8 424.2 L226.7 420.9 L227.9 417.7 L229.2 414.5 L229.2 411.0 L229.9 407.7 L234.0 406.0 L237.9 403.7 L237.4 399.6 L235.9 395.7 L232.9 394.7 L230.0 393.8 L226.9 393.4 L223.9 392.7 L220.3 392.7 L216.8 392.3 L213.6 390.4 L209.9 390.7 L207.0 385.8 L205.7 382.5 L206.6 379.1 L206.0 375.8 L206.1 371.7 L205.0 367.8 L203.0 364.0 L202.0 359.8 L199.0 358.5 L197.0 355.8 L196.3 351.9 L196.0 347.9 L198.8 345.1 L202.0 342.9 L206.0 340.9 L201.9 341.4 L197.8 341.8 L194.7 341.9 L191.7 341.0 L188.6 341.8 L184.8 342.8 L180.9 342.5 L176.9 342.1 L173.2 343.3 L169.5 345.2 L165.5 345.6 L161.2 346.8 L157.7 349.5 L154.0 352.0 L150.0 354.1 L145.4 355.6 L143.8 353.1 L141.6 351.0 L142.8 348.1 L145.4 346.4 L147.7 344.0 L150.0 341.8 L151.1 338.0 L151.6 334.1 L148.5 331.0 L148.5 326.4 L145.1 325.7 L141.6 325.6 L142.4 322.3 L141.5 318.9 L142.3 315.6 L141.8 312.1 L141.6 308.6 L144.4 307.3 L147.0 305.5 L149.7 303.6 L153.1 303.2 L152.1 299.9 L150.0 297.1 L150.3 294.0 L150.8 290.9 L151.9 287.6 L153.9 284.7 L157.0 280.9 L160.8 282.4 L162.8 280.1 L165.5 278.6 L168.0 276.0 L170.1 273.2 L170.8 267.8 L172.4 263.2 L176.2 264.7 L179.1 263.1 L182.4 263.2 L183.5 259.9 L185.5 257.0 L188.6 252.4 L193.2 250.1 L196.3 250.8 L196.3 246.2 L194.4 243.3 L193.2 240.0 L193.2 235.4 L197.8 232.3 L197.4 229.2 L197.8 226.2 L198.9 223.2 L199.8 220.1 L200.0 216.9 L201.0 213.8 L200.7 210.5 L200.9 207.3 L199.9 204.2 L199.7 201.0 L199.8 197.8 L198.9 194.2 L198.9 190.6 L199.3 186.9 L198.9 183.3 L199.1 179.6 L198.1 176.1 L197.9 172.4 L198.0 168.8 L198.2 165.1 L198.2 161.5 L197.1 157.9 L191.7 156.1 L187.8 155.9 L184.4 154.3 L182.1 156.7 L179.0 157.9 L177.9 154.1 L175.9 150.7 L174.4 147.0 L172.5 143.5 L170.8 139.8 L170.6 136.1 L169.9 132.5 L170.8 129.0 L170.8 125.3 L171.4 121.4 L173.5 118.0 L175.3 114.4 L179.0 117.1 L179.4 121.0 L180.6 124.6 L182.6 128.0 L188.0 126.2 L191.6 124.7 L195.3 123.5 L196.6 120.7 L198.0 118.0 L196.7 115.1 L196.3 111.9 L195.3 109.0 L193.9 105.5 L193.5 101.7 L192.6 98.1 L195.3 96.3 L195.8 92.8 L194.8 89.5 L195.2 86.0 L194.4 82.7 L198.4 82.1 L202.5 82.7 L204.3 87.2 L208.0 85.4 L210.0 82.0 L210.7 78.1 L209.6 74.1Z" fill="none" stroke="#000" stroke-width="2.3" stroke-linejoin="round"/>
<rect x="168.3" y="67.8" width="100.4" height="200.3" fill="none" stroke="#ee1111" stroke-width="1.8"/>
<rect x="206" y="367.9" width="199.8" height="129.2" fill="none" stroke="#ee1111" stroke-width="1.8"/>
<text x="228" y="86.6" font-size="23.5" fill="#f00">NW</text>
<text x="210.3" y="491.8" font-size="23.5" fill="#f00">S</text>
<text x="110.1" y="80.6" font-size="38">(a)</text>
</g>
<g transform="translate(667.7,0)">
<rect x="94.0" y="37.5" width="504.0" height="481.5" fill="#fff" stroke="#3a3a3a" stroke-width="1.2"/>
<rect x="236.9" y="37.5" width="218.4" height="11.5" fill="#000"/>
<rect x="236.9" y="508.5" width="218.4" height="10.5" fill="#000"/>
<rect x="94.0" y="49.0" width="11.9" height="25.2" fill="#000"/>
<rect x="94.0" y="319.5" width="11.9" height="189.0" fill="#000"/>
<rect x="586.4" y="49.0" width="11.6" height="25.2" fill="#000"/>
<rect x="586.4" y="319.5" width="11.6" height="189.0" fill="#000"/>
<path d="M105.9 37.5V519.0M586.4 37.5V519.0M94.0 49.0H598.0M94.0 508.5H598.0" stroke="#3a3a3a" stroke-width="1.1" fill="none"/>
<rect x="105.9" y="49.0" width="480.5" height="459.5" fill="#f5f2ef" stroke="#555" stroke-width="1"/>
</g>
<g transform="translate(667.7,0)">
<defs><filter id="blb" x="-10%" y="-10%" width="120%" height="120%"><feGaussianBlur stdDeviation="3"/></filter></defs><g clip-path="url(#clipY)"><g filter="url(#blb)" shape-rendering="crispEdges"><path fill="#0cfc00" d="M197 59h18v6h-18zM197 65h6v6h-6zM185 71h12v6h-12zM179 77h6v6h-6zM191 161h12v6h-12zM185 167h6v6h-6zM203 167h6v6h-6zM185 173h6v6h-6zM203 173h6v6h-6zM203 179h6v6h-6zM185 185h6v6h-6zM197 185h6v6h-6zM185 191h12v6h-12zM389 209h6v6h-6zM395 215h6v6h-6zM413 251h6v6h-6zM407 263h6v6h-6zM383 269h24v6h-24zM377 275h30v6h-30zM377 281h24v6h-24zM371 287h24v6h-24zM371 293h18v6h-18zM377 299h12v6h-12zM377 305h12v6h-12zM383 311h6v6h-6zM377 323h6v6h-6zM377 329h6v6h-6zM377 335h6v6h-6zM383 341h6v6h-6zM401 359h6v6h-6zM257 389h6v6h-6zM443 413h6v6h-6zM227 425h6v6h-6zM263 425h6v6h-6zM233 431h6v6h-6z"/><path fill="#12fc00" d="M215 59h12v6h-12zM203 65h12v6h-12zM197 71h12v6h-12zM185 77h18v6h-18zM179 83h18v6h-18zM179 89h12v6h-12zM179 95h12v6h-12zM167 101h18v6h-18zM185 155h18v6h-18zM179 161h12v6h-12zM203 161h6v6h-6zM179 167h6v6h-6zM203 185h6v6h-6zM197 191h6v6h-6zM191 197h6v6h-6zM401 221h6v6h-6zM413 233h6v6h-6zM413 239h6v6h-6zM413 245h6v6h-6zM377 257h12v6h-12zM407 257h6v6h-6zM377 263h30v6h-30zM371 269h12v6h-12zM365 275h12v6h-12zM341 281h36v6h-36zM329 287h42v6h-42zM329 293h42v6h-42zM329 299h48v6h-48zM365 305h12v6h-12zM371 311h12v6h-12zM377 317h6v6h-6zM371 329h6v6h-6zM389 347h6v6h-6zM395 353h6v6h-6zM401 365h6v6h-6zM227 389h6v6h-6zM263 389h6v6h-6zM269 395h6v6h-6zM413 395h6v6h-6zM221 401h6v6h-6zM269 401h6v6h-6zM419 401h6v6h-6zM221 407h6v6h-6zM221 413h6v6h-6zM221 419h6v6h-6zM455 419h6v6h-6zM239 437h6v6h-6zM245 443h6v6h-6z"/><path fill="#18fc00" d="M215 65h18v6h-18zM209 71h12v6h-12zM203 77h12v6h-12zM197 83h12v6h-12zM191 89h12v6h-12zM191 95h12v6h-12zM185 101h12v6h-12zM161 107h36v6h-36zM161 113h36v6h-36zM161 119h30v6h-30zM173 125h12v6h-12zM185 143h6v6h-6zM173 149h30v6h-30zM173 155h12v6h-12zM203 155h6v6h-6zM173 161h6v6h-6zM173 167h6v6h-6zM209 173h6v6h-6zM203 191h6v6h-6zM185 197h6v6h-6zM197 197h6v6h-6zM407 227h6v6h-6zM377 251h12v6h-12zM407 251h6v6h-6zM389 257h18v6h-18zM371 263h6v6h-6zM365 269h6v6h-6zM359 275h6v6h-6zM329 281h12v6h-12zM323 287h6v6h-6zM323 293h6v6h-6zM323 299h6v6h-6zM335 305h30v6h-30zM359 311h12v6h-12zM365 317h12v6h-12zM371 323h6v6h-6zM371 335h6v6h-6zM377 341h6v6h-6zM287 347h6v6h-6zM233 383h18v6h-18zM269 407h6v6h-6zM425 407h6v6h-6zM437 413h6v6h-6zM221 425h6v6h-6zM467 425h6v6h-6zM227 431h6v6h-6zM233 437h6v6h-6zM257 437h6v6h-6zM239 443h6v6h-6zM251 443h6v6h-6z"/><path fill="#1efc00" d="M221 71h12v6h-12zM215 77h6v6h-6zM209 83h6v6h-6zM203 89h6v6h-6zM203 95h6v6h-6zM197 101h12v6h-12zM197 107h6v6h-6zM197 113h6v6h-6zM155 119h6v6h-6zM191 119h12v6h-12zM155 125h18v6h-18zM185 125h18v6h-18zM155 131h48v6h-48zM161 137h42v6h-42zM161 143h24v6h-24zM191 143h12v6h-12zM161 149h12v6h-12zM203 149h6v6h-6zM167 155h6v6h-6zM167 161h6v6h-6zM209 161h6v6h-6zM209 167h6v6h-6zM209 179h6v6h-6zM185 203h18v6h-18zM383 209h6v6h-6zM389 215h6v6h-6zM407 245h6v6h-6zM371 251h6v6h-6zM389 251h6v6h-6zM401 251h6v6h-6zM371 257h6v6h-6zM365 263h6v6h-6zM359 269h6v6h-6zM335 275h24v6h-24zM323 281h6v6h-6zM317 293h6v6h-6zM317 299h6v6h-6zM323 305h12v6h-12zM347 311h12v6h-12zM359 317h6v6h-6zM365 323h6v6h-6zM365 329h6v6h-6zM287 341h6v6h-6zM371 341h6v6h-6zM281 347h6v6h-6zM383 347h6v6h-6zM281 353h12v6h-12zM395 359h6v6h-6zM401 371h6v6h-6zM251 383h6v6h-6zM269 389h6v6h-6zM407 389h6v6h-6zM221 395h6v6h-6zM269 413h6v6h-6zM449 419h6v6h-6zM227 437h6v6h-6zM233 443h6v6h-6zM239 449h12v6h-12zM245 455h6v6h-6z"/><path fill="#24fc00" d="M221 77h12v6h-12zM215 83h6v6h-6zM209 89h12v6h-12zM209 95h6v6h-6zM209 101h6v6h-6zM203 107h6v6h-6zM203 113h6v6h-6zM203 119h6v6h-6zM203 125h6v6h-6zM203 131h6v6h-6zM155 137h6v6h-6zM203 137h6v6h-6zM155 143h6v6h-6zM203 143h6v6h-6zM161 155h6v6h-6zM209 155h6v6h-6zM209 185h6v6h-6zM203 197h6v6h-6zM395 221h6v6h-6zM407 233h6v6h-6zM407 239h6v6h-6zM377 245h12v6h-12zM395 251h6v6h-6zM365 257h6v6h-6zM353 269h6v6h-6zM329 275h6v6h-6zM317 287h6v6h-6zM317 305h6v6h-6zM335 311h12v6h-12zM353 317h6v6h-6zM359 323h6v6h-6zM287 335h12v6h-12zM365 335h6v6h-6zM281 341h6v6h-6zM293 341h6v6h-6zM293 347h6v6h-6zM377 347h6v6h-6zM389 353h6v6h-6zM275 395h6v6h-6zM275 401h6v6h-6zM431 413h6v6h-6zM461 425h6v6h-6zM221 431h6v6h-6zM263 431h6v6h-6zM233 449h6v6h-6zM251 449h6v6h-6zM233 455h12v6h-12zM251 455h6v6h-6zM245 461h6v6h-6z"/><path fill="#2afc00" d="M233 77h12v6h-12zM221 83h12v6h-12zM221 89h6v6h-6zM215 95h6v6h-6zM209 107h6v6h-6zM209 113h6v6h-6zM209 119h6v6h-6zM209 125h6v6h-6zM209 131h6v6h-6zM209 137h6v6h-6zM209 143h6v6h-6zM209 149h6v6h-6zM203 203h6v6h-6zM185 209h18v6h-18zM383 215h6v6h-6zM401 227h6v6h-6zM371 245h6v6h-6zM401 245h6v6h-6zM359 263h6v6h-6zM335 269h18v6h-18zM323 275h6v6h-6zM317 281h6v6h-6zM311 287h6v6h-6zM311 293h6v6h-6zM311 299h6v6h-6zM311 305h6v6h-6zM323 311h12v6h-12zM347 317h6v6h-6zM359 329h6v6h-6zM293 353h6v6h-6zM401 377h6v6h-6zM227 383h6v6h-6zM257 383h6v6h-6zM275 389h6v6h-6zM215 407h6v6h-6zM215 413h6v6h-6zM215 419h6v6h-6zM443 419h6v6h-6zM215 425h6v6h-6zM455 425h6v6h-6zM221 437h6v6h-6zM227 443h6v6h-6zM257 443h6v6h-6zM227 449h6v6h-6zM251 461h6v6h-6zM245 467h6v6h-6z"/><path fill="#30fc00" d="M245 77h12v6h-12zM233 83h6v6h-6zM227 89h6v6h-6zM221 95h6v6h-6zM215 101h6v6h-6zM215 107h6v6h-6zM215 113h6v6h-6zM215 161h6v6h-6zM215 167h6v6h-6zM209 191h6v6h-6zM203 209h6v6h-6zM377 209h6v6h-6zM389 221h6v6h-6zM377 239h6v6h-6zM389 245h12v6h-12zM365 251h6v6h-6zM359 257h6v6h-6zM353 263h6v6h-6zM329 269h6v6h-6zM317 275h6v6h-6zM311 281h6v6h-6zM305 293h6v6h-6zM305 299h6v6h-6zM305 305h6v6h-6zM311 311h12v6h-12zM341 317h6v6h-6zM353 323h6v6h-6zM287 329h18v6h-18zM281 335h6v6h-6zM299 335h6v6h-6zM299 341h6v6h-6zM365 341h6v6h-6zM371 347h6v6h-6zM383 353h6v6h-6zM287 359h6v6h-6zM395 365h6v6h-6zM263 383h12v6h-12zM221 389h6v6h-6zM215 401h6v6h-6zM419 407h6v6h-6zM269 419h6v6h-6zM215 431h6v6h-6zM221 443h6v6h-6zM257 449h6v6h-6zM227 455h6v6h-6zM251 467h6v6h-6z"/><path fill="#36fc00" d="M239 83h24v6h-24zM233 89h6v6h-6zM227 95h6v6h-6zM221 101h6v6h-6zM221 107h6v6h-6zM215 119h6v6h-6zM215 125h6v6h-6zM215 131h6v6h-6zM215 137h6v6h-6zM215 143h6v6h-6zM215 149h6v6h-6zM215 155h6v6h-6zM215 173h6v6h-6zM209 197h6v6h-6zM185 215h18v6h-18zM377 215h6v6h-6zM383 221h6v6h-6zM395 227h6v6h-6zM401 233h6v6h-6zM371 239h6v6h-6zM383 239h6v6h-6zM401 239h6v6h-6zM365 245h6v6h-6zM341 263h12v6h-12zM323 269h6v6h-6zM305 287h6v6h-6zM305 311h6v6h-6zM305 317h36v6h-36zM293 323h12v6h-12zM347 323h6v6h-6zM353 329h6v6h-6zM359 335h6v6h-6zM299 347h6v6h-6zM281 359h6v6h-6zM389 359h6v6h-6zM233 377h12v6h-12zM275 383h6v6h-6zM413 401h6v6h-6zM275 407h6v6h-6zM437 419h6v6h-6zM449 425h6v6h-6zM215 437h6v6h-6zM263 437h6v6h-6zM221 449h6v6h-6zM221 455h6v6h-6zM257 455h6v6h-6zM257 461h6v6h-6z"/><path fill="#00fcf0" d="M437 83h6v6h-6zM437 89h6v6h-6zM431 101h6v6h-6zM425 113h6v6h-6zM425 119h6v6h-6zM425 143h6v6h-6zM425 149h6v6h-6zM431 161h6v6h-6zM443 173h6v6h-6zM461 179h12v6h-12zM491 335h6v6h-6zM503 335h6v6h-6zM485 341h6v6h-6zM485 347h6v6h-6zM503 347h6v6h-6zM485 353h6v6h-6zM497 353h6v6h-6z"/><path fill="#00fcf6" d="M443 83h6v6h-6zM443 89h6v6h-6zM437 95h6v6h-6zM431 107h6v6h-6zM425 125h6v6h-6zM425 131h6v6h-6zM425 137h6v6h-6zM437 167h6v6h-6zM449 173h6v6h-6zM473 179h18v6h-18zM497 335h6v6h-6zM503 341h6v6h-6zM491 353h6v6h-6z"/><path fill="#3cfc00" d="M239 89h18v6h-18zM263 89h6v6h-6zM233 95h6v6h-6zM227 101h6v6h-6zM221 113h6v6h-6zM221 119h6v6h-6zM221 125h6v6h-6zM215 179h6v6h-6zM209 203h6v6h-6zM203 215h6v6h-6zM383 227h12v6h-12zM377 233h12v6h-12zM389 239h12v6h-12zM359 251h6v6h-6zM353 257h6v6h-6zM335 263h6v6h-6zM311 275h6v6h-6zM305 281h6v6h-6zM299 293h6v6h-6zM299 299h6v6h-6zM299 305h6v6h-6zM299 311h6v6h-6zM293 317h12v6h-12zM287 323h6v6h-6zM305 323h12v6h-12zM281 329h6v6h-6zM305 329h6v6h-6zM305 335h6v6h-6zM275 347h6v6h-6zM377 353h6v6h-6zM293 359h6v6h-6zM245 377h6v6h-6zM281 389h6v6h-6zM215 395h6v6h-6zM281 395h6v6h-6zM425 413h6v6h-6zM269 425h6v6h-6zM215 443h6v6h-6zM215 449h6v6h-6zM257 467h6v6h-6zM251 473h6v6h-6z"/><path fill="#42fc00" d="M257 89h6v6h-6zM239 95h12v6h-12zM233 101h6v6h-6zM227 107h6v6h-6zM227 113h6v6h-6zM221 131h6v6h-6zM221 137h6v6h-6zM221 143h6v6h-6zM221 149h6v6h-6zM215 185h6v6h-6zM209 209h6v6h-6zM371 209h6v6h-6zM191 221h12v6h-12zM377 221h6v6h-6zM377 227h6v6h-6zM371 233h6v6h-6zM389 233h12v6h-12zM365 239h6v6h-6zM347 257h6v6h-6zM329 263h6v6h-6zM317 269h6v6h-6zM299 287h6v6h-6zM293 299h6v6h-6zM293 305h6v6h-6zM293 311h6v6h-6zM287 317h6v6h-6zM281 323h6v6h-6zM317 323h6v6h-6zM341 323h6v6h-6zM347 329h6v6h-6zM275 335h6v6h-6zM353 335h6v6h-6zM275 341h6v6h-6zM305 341h6v6h-6zM359 341h6v6h-6zM365 347h6v6h-6zM275 353h6v6h-6zM299 353h6v6h-6zM383 359h6v6h-6zM281 365h12v6h-12zM395 371h6v6h-6zM227 377h6v6h-6zM251 377h6v6h-6zM221 383h6v6h-6zM281 383h6v6h-6zM401 383h6v6h-6zM407 395h6v6h-6zM281 401h6v6h-6zM275 413h6v6h-6zM209 425h6v6h-6zM443 425h6v6h-6zM209 431h6v6h-6zM257 473h6v6h-6z"/><path fill="#00fcea" d="M431 89h6v6h-6zM431 95h6v6h-6zM425 107h6v6h-6zM455 179h6v6h-6z"/><path fill="#00fcfc" d="M449 89h6v6h-6zM443 95h12v6h-12zM437 101h12v6h-12zM437 107h6v6h-6zM431 113h6v6h-6zM431 119h6v6h-6zM431 125h6v6h-6zM431 149h6v6h-6zM431 155h6v6h-6zM437 161h6v6h-6zM443 167h6v6h-6zM455 173h18v6h-18zM509 173h12v6h-12zM491 179h24v6h-24zM491 341h12v6h-12zM491 347h12v6h-12z"/><path fill="#00f6fc" d="M455 89h6v6h-6zM455 95h6v6h-6zM449 101h6v6h-6zM443 107h6v6h-6zM437 113h6v6h-6zM431 131h6v6h-6zM431 137h6v6h-6zM431 143h6v6h-6zM437 155h6v6h-6zM449 167h6v6h-6zM473 173h36v6h-36z"/><path fill="#00f0fc" d="M461 89h6v6h-6zM461 95h6v6h-6zM455 101h6v6h-6zM449 107h6v6h-6zM443 113h6v6h-6zM437 119h6v6h-6zM437 125h6v6h-6zM437 149h6v6h-6zM443 161h6v6h-6zM455 167h12v6h-12zM491 167h30v6h-30z"/><path fill="#00eafc" d="M467 89h6v6h-6zM467 95h6v6h-6zM461 101h6v6h-6zM455 107h6v6h-6zM449 113h6v6h-6zM443 119h6v6h-6zM437 131h6v6h-6zM437 137h6v6h-6zM437 143h6v6h-6zM443 155h6v6h-6zM521 155h6v6h-6zM449 161h6v6h-6zM503 161h24v6h-24zM467 167h24v6h-24z"/><path fill="#00e4fc" d="M473 89h12v6h-12zM473 95h6v6h-6zM467 101h6v6h-6zM461 107h6v6h-6zM455 113h6v6h-6zM449 119h6v6h-6zM443 125h6v6h-6zM443 131h6v6h-6zM443 149h6v6h-6zM515 149h12v6h-12zM449 155h6v6h-6zM503 155h18v6h-18zM455 161h18v6h-18zM479 161h24v6h-24z"/><path fill="#48fc00" d="M251 95h18v6h-18zM239 101h6v6h-6zM233 107h6v6h-6zM227 119h6v6h-6zM227 125h6v6h-6zM227 131h6v6h-6zM221 155h6v6h-6zM221 161h6v6h-6zM215 191h6v6h-6zM209 215h6v6h-6zM371 215h6v6h-6zM185 221h6v6h-6zM203 221h6v6h-6zM371 221h6v6h-6zM371 227h6v6h-6zM359 245h6v6h-6zM335 257h12v6h-12zM323 263h6v6h-6zM305 275h6v6h-6zM299 281h6v6h-6zM293 287h6v6h-6zM293 293h6v6h-6zM287 305h6v6h-6zM287 311h6v6h-6zM281 317h6v6h-6zM323 323h18v6h-18zM275 329h6v6h-6zM311 329h6v6h-6zM371 353h6v6h-6zM389 365h6v6h-6zM257 377h6v6h-6zM275 377h12v6h-12zM431 419h6v6h-6zM455 431h6v6h-6zM209 437h6v6h-6zM209 443h6v6h-6zM263 443h6v6h-6zM209 449h6v6h-6z"/><path fill="#00defc" d="M479 95h6v6h-6zM473 101h12v6h-12zM467 107h12v6h-12zM461 113h12v6h-12zM455 119h6v6h-6zM449 125h6v6h-6zM443 137h6v6h-6zM515 137h12v6h-12zM443 143h6v6h-6zM509 143h18v6h-18zM449 149h6v6h-6zM503 149h12v6h-12zM455 155h6v6h-6zM485 155h18v6h-18zM473 161h6v6h-6z"/><path fill="#4efc00" d="M245 101h30v6h-30zM239 107h6v6h-6zM233 113h6v6h-6zM233 119h6v6h-6zM227 137h6v6h-6zM227 143h6v6h-6zM221 167h6v6h-6zM215 197h6v6h-6zM365 233h6v6h-6zM353 251h6v6h-6zM329 257h6v6h-6zM311 269h6v6h-6zM287 293h6v6h-6zM287 299h6v6h-6zM281 311h6v6h-6zM275 323h6v6h-6zM341 329h6v6h-6zM311 335h6v6h-6zM305 347h6v6h-6zM293 365h6v6h-6zM281 371h12v6h-12zM263 377h12v6h-12zM215 389h6v6h-6zM209 401h6v6h-6zM263 449h6v6h-6zM263 455h6v6h-6zM263 461h6v6h-6zM263 467h6v6h-6z"/><path fill="#54fc00" d="M245 107h36v6h-36zM239 113h6v6h-6zM233 125h6v6h-6zM233 131h6v6h-6zM233 137h6v6h-6zM227 149h6v6h-6zM221 173h6v6h-6zM215 203h6v6h-6zM365 215h6v6h-6zM209 221h6v6h-6zM365 221h6v6h-6zM191 227h18v6h-18zM365 227h6v6h-6zM359 239h6v6h-6zM347 251h6v6h-6zM317 263h6v6h-6zM305 269h6v6h-6zM299 275h6v6h-6zM293 281h6v6h-6zM287 287h6v6h-6zM281 305h6v6h-6zM275 317h6v6h-6zM317 329h6v6h-6zM347 335h6v6h-6zM353 341h6v6h-6zM359 347h6v6h-6zM275 359h6v6h-6zM299 359h6v6h-6zM377 359h6v6h-6zM275 371h6v6h-6zM287 377h6v6h-6zM287 383h6v6h-6zM281 407h6v6h-6zM413 407h6v6h-6zM419 413h6v6h-6zM437 425h6v6h-6zM269 431h6v6h-6zM449 431h6v6h-6zM257 479h6v6h-6z"/><path fill="#00d8fc" d="M479 107h6v6h-6zM473 113h12v6h-12zM461 119h12v6h-12zM455 125h12v6h-12zM509 125h12v6h-12zM449 131h12v6h-12zM503 131h24v6h-24zM449 137h6v6h-6zM497 137h18v6h-18zM449 143h6v6h-6zM497 143h12v6h-12zM455 149h6v6h-6zM485 149h18v6h-18zM461 155h24v6h-24z"/><path fill="#5afc00" d="M245 113h36v6h-36zM239 119h6v6h-6zM239 125h6v6h-6zM239 131h6v6h-6zM233 143h6v6h-6zM227 155h6v6h-6zM221 179h6v6h-6zM215 209h6v6h-6zM215 215h6v6h-6zM185 227h6v6h-6zM359 233h6v6h-6zM353 245h6v6h-6zM335 251h12v6h-12zM323 257h6v6h-6zM311 263h6v6h-6zM293 275h6v6h-6zM287 281h6v6h-6zM281 293h6v6h-6zM281 299h6v6h-6zM275 311h6v6h-6zM323 329h18v6h-18zM311 341h6v6h-6zM365 353h6v6h-6zM275 365h6v6h-6zM233 371h12v6h-12zM395 377h6v6h-6zM287 389h6v6h-6zM287 395h6v6h-6zM275 419h6v6h-6zM425 419h6v6h-6zM263 473h6v6h-6z"/><path fill="#00fcde" d="M419 113h6v6h-6zM419 137h6v6h-6zM419 143h6v6h-6zM437 173h6v6h-6zM491 329h6v6h-6zM509 329h6v6h-6zM479 347h6v6h-6zM509 347h6v6h-6zM479 353h6v6h-6zM479 359h6v6h-6zM497 359h6v6h-6z"/><path fill="#60fc00" d="M245 119h36v6h-36zM245 125h6v6h-6zM245 131h6v6h-6zM239 137h6v6h-6zM233 149h6v6h-6zM227 161h6v6h-6zM215 221h6v6h-6zM359 221h6v6h-6zM179 227h6v6h-6zM209 227h6v6h-6zM359 227h6v6h-6zM353 239h6v6h-6zM329 251h6v6h-6zM299 269h6v6h-6zM281 287h6v6h-6zM275 305h6v6h-6zM269 329h6v6h-6zM269 335h6v6h-6zM317 335h6v6h-6zM341 335h6v6h-6zM305 353h6v6h-6zM383 365h6v6h-6zM245 371h6v6h-6zM293 371h6v6h-6zM389 371h6v6h-6zM221 377h6v6h-6zM209 395h6v6h-6zM407 401h6v6h-6zM443 431h6v6h-6z"/><path fill="#00fccc" d="M413 119h6v6h-6zM413 125h6v6h-6zM413 131h6v6h-6zM413 137h6v6h-6zM419 155h6v6h-6zM425 167h6v6h-6zM431 173h6v6h-6zM437 179h6v6h-6zM467 191h6v6h-6zM515 323h6v6h-6zM479 335h6v6h-6zM473 353h6v6h-6zM473 359h6v6h-6zM497 365h6v6h-6z"/><path fill="#00fce4" d="M419 119h6v6h-6zM419 125h6v6h-6zM419 131h6v6h-6zM425 155h6v6h-6zM431 167h6v6h-6zM449 179h6v6h-6zM497 329h12v6h-12zM485 335h6v6h-6zM509 335h6v6h-6zM509 341h6v6h-6zM503 353h6v6h-6zM485 359h12v6h-12z"/><path fill="#00d2fc" d="M473 119h48v6h-48zM467 125h42v6h-42zM461 131h12v6h-12zM479 131h24v6h-24zM455 137h12v6h-12zM485 137h12v6h-12zM455 143h12v6h-12zM479 143h18v6h-18zM461 149h24v6h-24z"/><path fill="#66fc00" d="M251 125h48v6h-48zM251 131h18v6h-18zM245 137h12v6h-12zM239 143h6v6h-6zM221 185h6v6h-6zM191 233h18v6h-18zM353 233h6v6h-6zM335 245h18v6h-18zM317 257h6v6h-6zM305 263h6v6h-6zM293 269h6v6h-6zM287 275h6v6h-6zM281 281h6v6h-6zM275 299h6v6h-6zM269 317h6v6h-6zM269 323h6v6h-6zM269 341h6v6h-6zM347 341h6v6h-6zM353 347h6v6h-6zM359 353h6v6h-6zM371 359h6v6h-6zM299 365h6v6h-6zM227 371h6v6h-6zM251 371h6v6h-6zM269 371h6v6h-6zM215 383h6v6h-6zM401 389h6v6h-6zM431 425h6v6h-6z"/><path fill="#6cfc00" d="M269 131h12v6h-12zM299 131h6v6h-6zM257 137h12v6h-12zM245 143h18v6h-18zM239 149h6v6h-6zM233 155h6v6h-6zM227 167h6v6h-6zM221 191h6v6h-6zM215 227h6v6h-6zM353 227h6v6h-6zM185 233h6v6h-6zM209 233h6v6h-6zM347 239h6v6h-6zM323 251h6v6h-6zM275 287h6v6h-6zM275 293h6v6h-6zM269 311h6v6h-6zM323 335h6v6h-6zM335 335h6v6h-6zM311 347h6v6h-6zM257 371h12v6h-12zM293 377h6v6h-6zM287 401h6v6h-6zM281 413h6v6h-6zM269 437h6v6h-6zM263 479h6v6h-6z"/><path fill="#72fc00" d="M281 131h18v6h-18zM269 137h6v6h-6zM263 143h6v6h-6zM221 197h6v6h-6zM221 203h6v6h-6zM221 209h6v6h-6zM221 215h6v6h-6zM353 221h6v6h-6zM179 233h6v6h-6zM347 233h6v6h-6zM341 239h6v6h-6zM329 245h6v6h-6zM311 257h6v6h-6zM299 263h6v6h-6zM287 269h6v6h-6zM281 275h6v6h-6zM275 281h6v6h-6zM269 299h6v6h-6zM269 305h6v6h-6zM329 335h6v6h-6zM317 341h6v6h-6zM341 341h6v6h-6zM269 347h6v6h-6zM305 359h6v6h-6zM365 359h6v6h-6zM377 365h6v6h-6zM293 383h6v6h-6zM209 389h6v6h-6zM203 401h6v6h-6zM413 413h6v6h-6zM419 419h6v6h-6zM275 425h6v6h-6zM437 431h6v6h-6zM269 461h6v6h-6zM269 467h6v6h-6z"/><path fill="#00ccfc" d="M473 131h6v6h-6zM467 137h18v6h-18zM467 143h12v6h-12z"/><path fill="#78fc00" d="M275 137h6v6h-6zM305 137h6v6h-6zM245 149h12v6h-12zM233 161h6v6h-6zM227 173h6v6h-6zM221 221h6v6h-6zM347 227h6v6h-6zM215 233h6v6h-6zM191 239h24v6h-24zM335 239h6v6h-6zM317 251h6v6h-6zM305 257h6v6h-6zM293 263h6v6h-6zM281 269h6v6h-6zM269 293h6v6h-6zM263 311h6v6h-6zM263 317h6v6h-6zM263 323h6v6h-6zM263 329h6v6h-6zM347 347h6v6h-6zM311 353h6v6h-6zM353 353h6v6h-6zM299 371h6v6h-6zM293 389h6v6h-6zM425 425h6v6h-6zM269 443h6v6h-6zM269 449h6v6h-6zM269 455h6v6h-6zM269 473h6v6h-6z"/><path fill="#7efc00" d="M281 137h24v6h-24zM269 143h6v6h-6zM257 149h6v6h-6zM239 155h6v6h-6zM347 221h6v6h-6zM221 227h6v6h-6zM341 233h6v6h-6zM185 239h6v6h-6zM323 245h6v6h-6zM287 263h6v6h-6zM275 275h6v6h-6zM269 281h6v6h-6zM269 287h6v6h-6zM263 305h6v6h-6zM263 335h6v6h-6zM335 341h6v6h-6zM239 365h6v6h-6zM269 365h6v6h-6zM371 365h6v6h-6zM383 371h6v6h-6zM395 383h6v6h-6zM407 407h6v6h-6zM263 485h6v6h-6z"/><path fill="#84fc00" d="M275 143h6v6h-6zM305 143h6v6h-6zM263 149h6v6h-6zM227 179h6v6h-6zM341 227h6v6h-6zM221 233h6v6h-6zM335 233h6v6h-6zM179 239h6v6h-6zM215 239h6v6h-6zM329 239h6v6h-6zM311 251h6v6h-6zM299 257h6v6h-6zM275 269h6v6h-6zM269 275h6v6h-6zM263 293h6v6h-6zM263 299h6v6h-6zM263 341h6v6h-6zM323 341h6v6h-6zM317 347h6v6h-6zM341 347h6v6h-6zM269 353h6v6h-6zM359 359h6v6h-6zM233 365h6v6h-6zM245 365h6v6h-6zM305 365h6v6h-6zM221 371h6v6h-6zM215 377h6v6h-6zM389 377h6v6h-6zM203 395h6v6h-6zM401 395h6v6h-6zM287 407h6v6h-6zM281 419h6v6h-6z"/><path fill="#8afc00" d="M281 143h6v6h-6zM299 143h6v6h-6zM269 149h6v6h-6zM311 149h6v6h-6zM245 155h6v6h-6zM233 167h6v6h-6zM227 185h6v6h-6zM341 197h6v6h-6zM341 203h6v6h-6zM341 209h6v6h-6zM341 215h6v6h-6zM227 221h6v6h-6zM341 221h6v6h-6zM221 239h6v6h-6zM197 245h24v6h-24zM317 245h6v6h-6zM293 257h6v6h-6zM281 263h6v6h-6zM263 281h6v6h-6zM263 287h6v6h-6zM257 305h6v6h-6zM257 311h6v6h-6zM257 317h6v6h-6zM257 323h6v6h-6zM257 329h6v6h-6zM329 341h6v6h-6zM347 353h6v6h-6zM269 359h6v6h-6zM311 359h6v6h-6zM251 365h6v6h-6zM299 377h6v6h-6zM209 383h6v6h-6zM293 395h6v6h-6zM275 431h6v6h-6zM269 479h6v6h-6z"/><path fill="#90fc00" d="M287 143h12v6h-12zM251 155h6v6h-6zM239 161h6v6h-6zM227 191h6v6h-6zM227 203h6v6h-6zM227 209h6v6h-6zM227 215h6v6h-6zM227 227h6v6h-6zM335 227h6v6h-6zM227 233h6v6h-6zM329 233h6v6h-6zM323 239h6v6h-6zM191 245h6v6h-6zM305 251h6v6h-6zM287 257h6v6h-6zM275 263h6v6h-6zM269 269h6v6h-6zM263 275h6v6h-6zM257 293h6v6h-6zM257 299h6v6h-6zM335 347h6v6h-6zM317 353h6v6h-6zM353 359h6v6h-6zM227 365h6v6h-6zM257 365h12v6h-12zM365 365h6v6h-6zM377 371h6v6h-6z"/><path fill="#00fcae" d="M407 143h6v6h-6zM419 167h6v6h-6zM443 191h6v6h-6zM461 197h6v6h-6zM491 209h6v6h-6zM503 311h6v6h-6zM533 335h6v6h-6zM467 347h6v6h-6zM527 347h6v6h-6zM509 365h6v6h-6zM467 371h6v6h-6zM479 377h6v6h-6zM491 377h6v6h-6z"/><path fill="#00fcc6" d="M413 143h6v6h-6zM461 191h6v6h-6zM479 197h6v6h-6zM491 323h6v6h-6zM521 329h6v6h-6zM521 335h6v6h-6zM521 341h6v6h-6zM473 347h6v6h-6zM515 353h6v6h-6zM509 359h6v6h-6zM473 365h6v6h-6zM479 371h12v6h-12z"/><path fill="#96fc00" d="M275 149h6v6h-6zM305 149h6v6h-6zM257 155h6v6h-6zM329 179h6v6h-6zM335 191h6v6h-6zM227 197h6v6h-6zM335 197h6v6h-6zM335 221h6v6h-6zM227 239h6v6h-6zM185 245h6v6h-6zM221 245h6v6h-6zM311 245h6v6h-6zM203 251h18v6h-18zM299 251h6v6h-6zM281 257h6v6h-6zM269 263h6v6h-6zM263 269h6v6h-6zM257 281h6v6h-6zM257 287h6v6h-6zM251 311h6v6h-6zM251 317h6v6h-6zM251 323h6v6h-6zM257 335h6v6h-6zM263 347h6v6h-6zM323 347h6v6h-6zM341 353h6v6h-6zM305 371h6v6h-6zM299 383h6v6h-6zM203 389h6v6h-6zM401 401h6v6h-6zM413 419h6v6h-6zM419 425h6v6h-6zM425 431h6v6h-6z"/><path fill="#9cfc00" d="M281 149h6v6h-6zM299 149h6v6h-6zM263 155h6v6h-6zM311 155h6v6h-6zM317 161h6v6h-6zM233 173h6v6h-6zM335 203h6v6h-6zM335 209h6v6h-6zM335 215h6v6h-6zM233 227h6v6h-6zM329 227h6v6h-6zM233 233h6v6h-6zM323 233h6v6h-6zM233 239h6v6h-6zM317 239h6v6h-6zM179 245h6v6h-6zM227 245h6v6h-6zM197 251h6v6h-6zM221 251h6v6h-6zM293 251h6v6h-6zM269 257h12v6h-12zM263 263h6v6h-6zM257 269h6v6h-6zM257 275h6v6h-6zM251 299h6v6h-6zM251 305h6v6h-6zM251 329h6v6h-6zM257 341h6v6h-6zM329 347h6v6h-6zM239 359h6v6h-6zM347 359h6v6h-6zM359 365h6v6h-6zM383 377h6v6h-6zM293 401h6v6h-6zM287 413h6v6h-6zM407 413h6v6h-6zM281 425h6v6h-6zM269 485h6v6h-6z"/><path fill="#a2fc00" d="M287 149h12v6h-12zM269 155h6v6h-6zM305 155h6v6h-6zM245 161h6v6h-6zM239 167h6v6h-6zM323 173h6v6h-6zM329 185h6v6h-6zM329 191h6v6h-6zM233 221h6v6h-6zM329 221h6v6h-6zM233 245h6v6h-6zM305 245h6v6h-6zM191 251h6v6h-6zM227 251h12v6h-12zM281 251h12v6h-12zM209 257h18v6h-18zM263 257h6v6h-6zM257 263h6v6h-6zM251 269h6v6h-6zM251 275h6v6h-6zM251 281h6v6h-6zM251 287h6v6h-6zM251 293h6v6h-6zM245 317h6v6h-6zM251 335h6v6h-6zM323 353h6v6h-6zM335 353h6v6h-6zM233 359h6v6h-6zM245 359h6v6h-6zM317 359h6v6h-6zM311 365h6v6h-6zM371 371h6v6h-6zM299 389h6v6h-6zM197 395h6v6h-6zM275 437h6v6h-6zM275 461h6v6h-6zM275 467h6v6h-6z"/><path fill="#00fc8a" d="M401 149h6v6h-6zM407 161h6v6h-6zM419 179h6v6h-6zM449 203h6v6h-6zM473 215h6v6h-6zM485 221h6v6h-6zM461 335h6v6h-6zM557 335h6v6h-6zM551 341h6v6h-6zM455 347h6v6h-6zM545 347h6v6h-6zM539 353h6v6h-6zM449 359h6v6h-6zM533 359h6v6h-6zM449 365h6v6h-6zM527 365h6v6h-6zM509 377h6v6h-6z"/><path fill="#00fca2" d="M407 149h6v6h-6zM413 161h6v6h-6zM425 179h6v6h-6zM437 191h6v6h-6zM449 197h6v6h-6zM467 203h6v6h-6zM479 209h6v6h-6zM491 215h6v6h-6zM485 317h6v6h-6zM545 329h6v6h-6zM539 335h6v6h-6zM467 341h6v6h-6zM533 347h6v6h-6zM461 353h6v6h-6zM527 353h6v6h-6zM521 359h6v6h-6zM515 365h6v6h-6zM461 371h6v6h-6zM467 377h6v6h-6zM497 377h6v6h-6z"/><path fill="#00fcba" d="M413 149h6v6h-6zM431 179h6v6h-6zM485 203h6v6h-6zM497 317h6v6h-6zM485 323h6v6h-6zM479 329h6v6h-6zM527 329h6v6h-6zM527 335h6v6h-6zM467 359h6v6h-6zM467 365h6v6h-6zM473 371h6v6h-6zM497 371h6v6h-6z"/><path fill="#00fcd8" d="M419 149h6v6h-6zM425 161h6v6h-6zM443 179h6v6h-6zM515 335h6v6h-6zM479 341h6v6h-6zM515 341h6v6h-6zM485 365h6v6h-6z"/><path fill="#a8fc00" d="M275 155h6v6h-6zM311 161h6v6h-6zM317 167h6v6h-6zM233 179h6v6h-6zM323 179h6v6h-6zM329 197h6v6h-6zM329 203h6v6h-6zM329 209h6v6h-6zM233 215h6v6h-6zM329 215h6v6h-6zM323 227h6v6h-6zM239 233h6v6h-6zM239 239h6v6h-6zM173 245h6v6h-6zM239 245h6v6h-6zM299 245h6v6h-6zM185 251h6v6h-6zM239 251h42v6h-42zM203 257h6v6h-6zM227 257h36v6h-36zM239 263h18v6h-18zM245 269h6v6h-6zM245 275h6v6h-6zM245 281h6v6h-6zM245 287h6v6h-6zM245 293h6v6h-6zM245 299h6v6h-6zM245 305h6v6h-6zM245 311h6v6h-6zM245 323h6v6h-6zM245 329h6v6h-6zM257 347h6v6h-6zM263 353h6v6h-6zM329 353h6v6h-6zM251 359h18v6h-18zM341 359h6v6h-6zM221 365h6v6h-6zM215 371h6v6h-6zM209 377h6v6h-6zM305 377h6v6h-6zM389 383h6v6h-6zM395 389h6v6h-6zM275 443h6v6h-6zM275 449h6v6h-6zM275 455h6v6h-6zM275 473h6v6h-6z"/><path fill="#aefc00" d="M281 155h6v6h-6zM299 155h6v6h-6zM251 161h6v6h-6zM317 173h6v6h-6zM323 185h6v6h-6zM233 209h6v6h-6zM239 227h6v6h-6zM317 233h6v6h-6zM245 239h6v6h-6zM311 239h6v6h-6zM245 245h18v6h-18zM275 245h24v6h-24zM197 257h6v6h-6zM209 263h30v6h-30zM233 269h12v6h-12zM239 275h6v6h-6zM239 281h6v6h-6zM251 341h6v6h-6zM323 359h6v6h-6zM353 365h6v6h-6zM203 383h6v6h-6zM401 407h6v6h-6zM287 419h6v6h-6zM413 425h6v6h-6z"/><path fill="#b4fc00" d="M287 155h12v6h-12zM257 161h12v6h-12zM305 161h6v6h-6zM311 167h6v6h-6zM233 185h6v6h-6zM323 191h6v6h-6zM233 203h6v6h-6zM323 215h6v6h-6zM239 221h6v6h-6zM323 221h6v6h-6zM245 233h6v6h-6zM251 239h6v6h-6zM305 239h6v6h-6zM263 245h12v6h-12zM179 251h6v6h-6zM191 257h6v6h-6zM203 263h6v6h-6zM215 269h18v6h-18zM227 275h12v6h-12zM233 281h6v6h-6zM239 287h6v6h-6zM239 293h6v6h-6zM239 299h6v6h-6zM239 305h6v6h-6zM239 311h6v6h-6zM239 317h6v6h-6zM239 323h6v6h-6zM245 335h6v6h-6zM245 341h6v6h-6zM251 347h6v6h-6zM239 353h24v6h-24zM227 359h6v6h-6zM329 359h12v6h-12zM317 365h6v6h-6zM347 365h6v6h-6zM311 371h6v6h-6zM365 371h6v6h-6zM377 377h6v6h-6zM305 383h6v6h-6zM299 395h6v6h-6zM293 407h6v6h-6zM407 419h6v6h-6zM281 431h6v6h-6zM275 479h6v6h-6z"/><path fill="#00fc4e" d="M389 155h6v6h-6zM395 167h6v6h-6zM401 179h6v6h-6zM419 209h6v6h-6zM431 215h6v6h-6zM449 221h6v6h-6zM455 227h6v6h-6zM461 233h6v6h-6zM467 239h6v6h-6zM473 245h6v6h-6zM479 251h6v6h-6zM485 257h6v6h-6zM491 269h6v6h-6zM491 275h6v6h-6zM467 305h6v6h-6zM431 341h6v6h-6zM425 353h6v6h-6zM557 371h12v6h-12zM419 377h6v6h-6zM539 383h6v6h-6zM431 389h12v6h-12zM527 389h6v6h-6zM455 395h6v6h-6zM515 395h6v6h-6zM467 401h6v6h-6zM503 401h6v6h-6z"/><path fill="#00fc66" d="M395 155h6v6h-6zM401 167h6v6h-6zM413 191h6v6h-6zM437 209h6v6h-6zM461 221h6v6h-6zM485 239h6v6h-6zM497 287h6v6h-6zM491 293h6v6h-6zM485 299h6v6h-6zM437 347h6v6h-6zM431 359h6v6h-6zM557 359h6v6h-6zM539 371h6v6h-6zM431 377h6v6h-6zM443 383h6v6h-6zM521 383h6v6h-6zM509 389h6v6h-6zM467 395h6v6h-6zM497 395h6v6h-6z"/><path fill="#00fc7e" d="M401 155h6v6h-6zM407 167h6v6h-6zM413 173h6v6h-6zM419 185h6v6h-6zM455 209h6v6h-6zM467 215h6v6h-6zM485 227h6v6h-6zM479 311h6v6h-6zM461 329h6v6h-6zM455 335h6v6h-6zM563 341h6v6h-6zM449 347h6v6h-6zM545 353h6v6h-6zM443 359h6v6h-6zM539 359h6v6h-6zM443 365h6v6h-6zM533 365h6v6h-6zM443 371h6v6h-6zM515 377h6v6h-6zM497 389h6v6h-6z"/><path fill="#00fc96" d="M407 155h6v6h-6zM419 173h6v6h-6zM431 191h6v6h-6zM443 197h6v6h-6zM473 209h6v6h-6zM485 215h6v6h-6zM479 317h6v6h-6zM473 323h6v6h-6zM551 329h6v6h-6zM545 341h6v6h-6zM461 347h6v6h-6zM539 347h6v6h-6zM533 353h6v6h-6zM455 359h6v6h-6zM527 359h6v6h-6zM455 365h6v6h-6zM521 365h6v6h-6zM503 377h6v6h-6zM473 383h6v6h-6zM491 383h6v6h-6z"/><path fill="#00fcb4" d="M413 155h6v6h-6zM425 173h6v6h-6zM437 185h6v6h-6zM449 191h6v6h-6zM467 197h6v6h-6zM479 203h6v6h-6zM491 317h6v6h-6zM533 329h6v6h-6zM473 335h6v6h-6zM527 341h6v6h-6zM467 353h6v6h-6zM521 353h6v6h-6zM515 359h6v6h-6zM485 377h6v6h-6z"/><path fill="#bafc00" d="M269 161h6v6h-6zM245 167h6v6h-6zM239 173h6v6h-6zM317 179h6v6h-6zM233 191h6v6h-6zM233 197h6v6h-6zM323 197h6v6h-6zM323 203h6v6h-6zM323 209h6v6h-6zM239 215h6v6h-6zM245 227h6v6h-6zM317 227h6v6h-6zM251 233h6v6h-6zM311 233h6v6h-6zM257 239h30v6h-30zM293 239h12v6h-12zM197 263h6v6h-6zM209 269h6v6h-6zM221 275h6v6h-6zM227 281h6v6h-6zM233 287h6v6h-6zM233 293h6v6h-6zM233 299h6v6h-6zM233 305h6v6h-6zM239 329h6v6h-6zM245 347h6v6h-6zM197 389h6v6h-6z"/><path fill="#c0fc00" d="M275 161h6v6h-6zM299 161h6v6h-6zM305 167h6v6h-6zM311 173h6v6h-6zM317 185h6v6h-6zM317 191h6v6h-6zM245 221h6v6h-6zM317 221h6v6h-6zM251 227h6v6h-6zM257 233h12v6h-12zM287 239h6v6h-6zM173 251h6v6h-6zM185 257h6v6h-6zM203 269h6v6h-6zM209 275h12v6h-12zM221 281h6v6h-6zM227 287h6v6h-6zM227 293h6v6h-6zM233 311h6v6h-6zM233 317h6v6h-6zM233 323h6v6h-6zM239 335h6v6h-6zM239 341h6v6h-6zM239 347h6v6h-6zM233 353h6v6h-6zM323 365h6v6h-6zM341 365h6v6h-6zM359 371h6v6h-6zM395 395h6v6h-6zM275 485h6v6h-6z"/><path fill="#c6fc00" d="M281 161h6v6h-6zM293 161h6v6h-6zM311 179h6v6h-6zM317 197h6v6h-6zM317 203h6v6h-6zM239 209h6v6h-6zM317 209h6v6h-6zM317 215h6v6h-6zM257 227h6v6h-6zM311 227h6v6h-6zM269 233h18v6h-18zM299 233h12v6h-12zM167 251h6v6h-6zM191 263h6v6h-6zM197 269h6v6h-6zM215 281h6v6h-6zM221 287h6v6h-6zM227 299h6v6h-6zM233 329h6v6h-6zM329 365h12v6h-12zM317 371h6v6h-6zM311 377h6v6h-6zM371 377h6v6h-6zM383 383h6v6h-6zM305 389h6v6h-6zM401 413h6v6h-6zM287 425h6v6h-6zM281 437h6v6h-6z"/><path fill="#ccfc00" d="M287 161h6v6h-6zM251 167h6v6h-6zM299 167h6v6h-6zM305 173h6v6h-6zM239 179h6v6h-6zM311 185h6v6h-6zM245 215h6v6h-6zM251 221h6v6h-6zM311 221h6v6h-6zM263 227h12v6h-12zM305 227h6v6h-6zM287 233h12v6h-12zM179 257h6v6h-6zM203 275h6v6h-6zM209 281h6v6h-6zM215 287h6v6h-6zM221 293h6v6h-6zM227 305h6v6h-6zM227 311h6v6h-6zM233 335h6v6h-6zM233 347h6v6h-6zM221 359h6v6h-6zM215 365h6v6h-6zM209 371h6v6h-6zM353 371h6v6h-6zM203 377h6v6h-6zM299 401h6v6h-6zM395 401h6v6h-6zM293 413h6v6h-6zM413 431h6v6h-6z"/><path fill="#00fc42" d="M389 161h6v6h-6zM395 173h6v6h-6zM401 191h6v6h-6zM425 215h6v6h-6zM437 221h6v6h-6zM449 227h6v6h-6zM455 233h6v6h-6zM461 239h6v6h-6zM467 245h6v6h-6zM473 251h6v6h-6zM485 269h6v6h-6zM485 275h6v6h-6zM485 281h6v6h-6zM479 293h6v6h-6zM467 299h6v6h-6zM461 305h6v6h-6zM425 341h6v6h-6zM419 359h6v6h-6zM545 383h6v6h-6zM449 395h6v6h-6zM461 401h6v6h-6zM485 407h6v6h-6z"/><path fill="#00fc5a" d="M395 161h6v6h-6zM401 173h6v6h-6zM407 185h6v6h-6zM413 203h6v6h-6zM425 209h6v6h-6zM443 215h6v6h-6zM455 221h6v6h-6zM461 227h6v6h-6zM467 233h6v6h-6zM497 269h6v6h-6zM497 275h6v6h-6zM491 287h6v6h-6zM473 305h6v6h-6zM431 347h6v6h-6zM425 365h6v6h-6zM557 365h6v6h-6zM539 377h6v6h-6zM527 383h6v6h-6zM461 395h6v6h-6zM479 401h12v6h-12z"/><path fill="#00fc72" d="M401 161h6v6h-6zM413 179h6v6h-6zM431 203h6v6h-6zM449 209h6v6h-6zM461 215h6v6h-6zM467 221h6v6h-6zM485 233h6v6h-6zM491 299h6v6h-6zM473 311h6v6h-6zM467 317h6v6h-6zM461 323h6v6h-6zM455 329h6v6h-6zM443 347h6v6h-6zM563 347h6v6h-6zM557 353h6v6h-6zM437 359h6v6h-6zM545 359h6v6h-6zM437 365h6v6h-6zM539 365h6v6h-6zM437 371h6v6h-6zM443 377h6v6h-6zM521 377h6v6h-6zM455 383h6v6h-6zM503 389h6v6h-6zM479 395h12v6h-12z"/><path fill="#00fcc0" d="M419 161h6v6h-6zM443 185h6v6h-6zM473 197h6v6h-6zM503 317h12v6h-12zM473 341h6v6h-6zM521 347h6v6h-6zM503 365h6v6h-6zM491 371h6v6h-6z"/><path fill="#06fc00" d="M191 167h12v6h-12zM191 173h12v6h-12zM185 179h18v6h-18zM191 185h6v6h-6zM419 239h6v6h-6zM419 245h6v6h-6zM413 257h6v6h-6zM413 263h6v6h-6zM407 269h12v6h-12zM407 275h12v6h-12zM401 281h12v6h-12zM395 287h18v6h-18zM389 293h18v6h-18zM389 299h12v6h-12zM389 305h12v6h-12zM389 311h6v6h-6zM383 317h6v6h-6zM383 323h6v6h-6zM383 329h6v6h-6zM383 335h6v6h-6zM389 341h6v6h-6zM395 347h6v6h-6zM233 389h6v6h-6zM227 395h6v6h-6zM263 395h6v6h-6zM431 407h6v6h-6zM263 419h6v6h-6zM461 419h6v6h-6zM245 437h12v6h-12z"/><path fill="#d8fc00" d="M257 167h6v6h-6zM293 167h6v6h-6zM245 173h6v6h-6zM299 173h6v6h-6zM305 179h6v6h-6zM239 185h6v6h-6zM239 197h6v6h-6zM305 215h6v6h-6zM263 221h12v6h-12zM299 221h6v6h-6zM287 227h6v6h-6zM173 257h6v6h-6zM191 269h6v6h-6zM197 275h6v6h-6zM203 281h6v6h-6zM209 287h6v6h-6zM215 293h6v6h-6zM221 305h6v6h-6zM227 329h6v6h-6zM347 371h6v6h-6zM317 377h6v6h-6zM365 377h6v6h-6zM377 383h6v6h-6zM395 407h6v6h-6zM287 431h6v6h-6zM281 461h6v6h-6zM281 467h6v6h-6z"/><path fill="#defc00" d="M263 167h12v6h-12zM287 167h6v6h-6zM305 185h6v6h-6zM239 191h6v6h-6zM305 191h6v6h-6zM305 197h6v6h-6zM305 203h6v6h-6zM245 209h6v6h-6zM305 209h6v6h-6zM251 215h6v6h-6zM275 221h24v6h-24zM167 257h6v6h-6zM215 299h6v6h-6zM221 311h6v6h-6zM227 335h6v6h-6zM227 347h6v6h-6zM329 371h18v6h-18zM191 389h6v6h-6zM305 395h6v6h-6zM293 419h6v6h-6zM401 419h6v6h-6zM281 473h6v6h-6z"/><path fill="#e4fc00" d="M275 167h12v6h-12zM299 179h6v6h-6zM299 209h6v6h-6zM257 215h18v6h-18zM293 215h12v6h-12zM179 263h6v6h-6zM191 275h6v6h-6zM197 281h6v6h-6zM203 287h6v6h-6zM209 293h6v6h-6zM221 317h6v6h-6zM227 341h6v6h-6zM359 377h6v6h-6zM311 389h6v6h-6zM287 437h6v6h-6zM281 479h6v6h-6z"/><path fill="#00fc24" d="M383 167h6v6h-6zM389 179h6v6h-6zM395 197h6v6h-6zM401 209h6v6h-6zM419 221h6v6h-6zM443 245h6v6h-6zM449 251h6v6h-6zM455 257h6v6h-6zM455 263h6v6h-6zM461 269h6v6h-6zM467 275h6v6h-6zM467 281h6v6h-6zM461 287h6v6h-6zM455 293h6v6h-6zM449 299h6v6h-6zM443 305h6v6h-6zM437 311h6v6h-6zM431 317h6v6h-6zM413 335h6v6h-6zM413 341h6v6h-6zM239 401h6v6h-6zM251 401h6v6h-6zM437 401h6v6h-6zM455 407h6v6h-6zM479 413h24v6h-24zM239 419h6v6h-6zM245 425h12v6h-12z"/><path fill="#00fc3c" d="M389 167h6v6h-6zM395 179h6v6h-6zM401 197h6v6h-6zM407 209h6v6h-6zM419 215h6v6h-6zM431 221h6v6h-6zM443 227h6v6h-6zM449 233h6v6h-6zM455 239h6v6h-6zM461 245h6v6h-6zM467 251h6v6h-6zM473 257h6v6h-6zM479 263h6v6h-6zM479 269h6v6h-6zM479 287h6v6h-6zM473 293h6v6h-6zM443 317h6v6h-6zM437 323h6v6h-6zM431 329h6v6h-6zM425 335h6v6h-6zM419 353h6v6h-6zM551 383h6v6h-6zM437 395h12v6h-12zM527 395h6v6h-6zM473 407h12v6h-12zM491 407h12v6h-12z"/><path fill="#00fc90" d="M413 167h6v6h-6zM425 185h6v6h-6zM437 197h6v6h-6zM455 203h6v6h-6zM467 209h6v6h-6zM479 215h6v6h-6zM491 221h6v6h-6zM485 311h6v6h-6zM467 329h6v6h-6zM551 335h6v6h-6zM461 341h6v6h-6zM455 353h6v6h-6zM455 371h6v6h-6zM515 371h6v6h-6zM461 377h6v6h-6zM467 383h6v6h-6zM497 383h6v6h-6z"/><path fill="#f0fc00" d="M251 173h6v6h-6zM293 179h6v6h-6zM293 209h6v6h-6zM173 263h6v6h-6zM209 299h6v6h-6zM215 311h6v6h-6zM221 329h6v6h-6zM215 359h6v6h-6zM209 365h6v6h-6zM203 371h6v6h-6zM197 377h6v6h-6zM353 377h6v6h-6zM293 425h6v6h-6zM407 431h6v6h-6z"/><path fill="#fcfc00" d="M257 173h30v6h-30zM287 179h6v6h-6zM245 191h6v6h-6zM293 191h6v6h-6zM293 197h6v6h-6zM251 203h6v6h-6zM287 203h6v6h-6zM161 263h12v6h-12zM179 269h6v6h-6zM197 287h6v6h-6zM209 305h6v6h-6zM215 317h6v6h-6zM215 323h6v6h-6zM221 335h6v6h-6zM221 341h6v6h-6zM221 347h6v6h-6zM335 377h18v6h-18zM323 383h6v6h-6zM365 383h6v6h-6zM317 389h6v6h-6zM377 389h6v6h-6zM311 395h6v6h-6zM305 401h6v6h-6zM389 407h6v6h-6zM299 413h6v6h-6zM395 419h6v6h-6zM293 437h6v6h-6zM287 455h6v6h-6zM287 461h6v6h-6z"/><path fill="#f6fc00" d="M287 173h6v6h-6zM245 185h6v6h-6zM293 185h6v6h-6zM245 197h6v6h-6zM293 203h6v6h-6zM257 209h36v6h-36zM185 275h6v6h-6zM191 281h6v6h-6zM203 293h6v6h-6zM329 377h6v6h-6zM191 383h6v6h-6zM389 401h6v6h-6zM401 425h6v6h-6zM293 431h6v6h-6zM287 449h6v6h-6z"/><path fill="#eafc00" d="M293 173h6v6h-6zM245 179h6v6h-6zM299 185h6v6h-6zM299 191h6v6h-6zM299 197h6v6h-6zM245 203h6v6h-6zM299 203h6v6h-6zM251 209h6v6h-6zM275 215h18v6h-18zM161 257h6v6h-6zM185 269h6v6h-6zM215 305h6v6h-6zM221 323h6v6h-6zM221 353h6v6h-6zM323 377h6v6h-6zM317 383h6v6h-6zM371 383h6v6h-6zM383 389h6v6h-6zM389 395h6v6h-6zM299 407h6v6h-6zM395 413h6v6h-6zM287 443h6v6h-6zM281 485h6v6h-6z"/><path fill="#00fc18" d="M383 173h6v6h-6zM389 191h6v6h-6zM395 203h6v6h-6zM431 239h6v6h-6zM437 251h6v6h-6zM443 257h6v6h-6zM443 263h6v6h-6zM449 269h6v6h-6zM449 275h12v6h-12zM449 281h12v6h-12zM449 287h6v6h-6zM443 299h6v6h-6zM437 305h6v6h-6zM431 311h6v6h-6zM419 317h6v6h-6zM413 323h6v6h-6zM407 329h6v6h-6zM407 335h6v6h-6zM407 341h6v6h-6zM407 347h6v6h-6zM239 395h6v6h-6zM251 395h6v6h-6zM233 401h6v6h-6zM257 401h6v6h-6zM431 401h6v6h-6zM449 407h6v6h-6zM233 413h6v6h-6zM467 413h6v6h-6zM257 425h6v6h-6z"/><path fill="#00fc30" d="M389 173h6v6h-6zM395 191h6v6h-6zM413 215h6v6h-6zM425 221h6v6h-6zM443 233h6v6h-6zM449 239h6v6h-6zM461 257h6v6h-6zM467 263h6v6h-6zM473 269h6v6h-6zM473 287h6v6h-6zM467 293h6v6h-6zM455 299h6v6h-6zM437 317h6v6h-6zM431 323h6v6h-6zM425 329h6v6h-6zM419 335h6v6h-6zM413 371h6v6h-6zM413 383h6v6h-6zM419 389h6v6h-6zM449 401h6v6h-6zM245 407h6v6h-6zM245 413h12v6h-12zM251 419h6v6h-6z"/><path fill="#00fc6c" d="M407 173h6v6h-6zM413 185h6v6h-6zM419 197h6v6h-6zM425 203h6v6h-6zM443 209h6v6h-6zM455 215h6v6h-6zM473 227h6v6h-6zM479 233h6v6h-6zM479 305h6v6h-6zM449 335h6v6h-6zM443 341h6v6h-6zM437 353h6v6h-6zM563 353h6v6h-6zM551 359h6v6h-6zM431 365h6v6h-6zM545 365h6v6h-6zM431 371h6v6h-6zM533 371h6v6h-6zM437 377h6v6h-6zM527 377h6v6h-6zM449 383h6v6h-6zM515 383h6v6h-6zM461 389h6v6h-6zM473 395h6v6h-6zM491 395h6v6h-6z"/><path fill="#fcf600" d="M251 179h6v6h-6zM287 185h6v6h-6zM287 197h6v6h-6zM281 203h6v6h-6zM173 269h6v6h-6zM203 299h6v6h-6zM383 395h6v6h-6zM407 437h6v6h-6zM293 443h6v6h-6zM287 467h6v6h-6zM287 473h6v6h-6z"/><path fill="#fce400" d="M257 179h6v6h-6zM281 197h6v6h-6zM203 305h6v6h-6zM209 317h6v6h-6zM215 335h6v6h-6zM209 359h6v6h-6zM203 365h6v6h-6zM353 383h6v6h-6zM323 389h6v6h-6zM389 413h6v6h-6zM395 425h6v6h-6zM287 485h6v6h-6z"/><path fill="#fcd800" d="M263 179h12v6h-12zM281 191h6v6h-6zM275 197h6v6h-6zM155 269h6v6h-6zM173 275h6v6h-6zM197 299h6v6h-6zM209 323h6v6h-6zM341 383h12v6h-12zM377 395h6v6h-6zM311 401h6v6h-6zM299 437h6v6h-6zM293 461h6v6h-6z"/><path fill="#fcde00" d="M275 179h6v6h-6zM281 185h6v6h-6zM257 197h6v6h-6zM161 269h6v6h-6zM215 341h6v6h-6zM215 347h6v6h-6zM335 383h6v6h-6zM317 395h6v6h-6zM383 401h6v6h-6zM305 407h6v6h-6zM299 425h6v6h-6zM299 431h6v6h-6zM293 455h6v6h-6z"/><path fill="#fcea00" d="M281 179h6v6h-6zM251 185h6v6h-6zM251 191h6v6h-6zM167 269h6v6h-6zM179 275h6v6h-6zM185 281h6v6h-6zM191 287h6v6h-6zM197 371h6v6h-6zM191 377h6v6h-6zM329 383h6v6h-6zM371 389h6v6h-6zM299 419h6v6h-6zM293 449h6v6h-6z"/><path fill="#00fc12" d="M383 179h6v6h-6zM413 221h6v6h-6zM419 227h6v6h-6zM425 233h6v6h-6zM431 245h6v6h-6zM431 251h6v6h-6zM431 257h12v6h-12zM437 263h6v6h-6zM437 269h12v6h-12zM443 275h6v6h-6zM443 281h6v6h-6zM443 287h6v6h-6zM443 293h6v6h-6zM437 299h6v6h-6zM431 305h6v6h-6zM419 311h12v6h-12zM413 317h6v6h-6zM407 323h6v6h-6zM401 329h6v6h-6zM401 335h6v6h-6zM407 353h6v6h-6zM407 359h6v6h-6zM413 389h6v6h-6zM419 395h6v6h-6zM461 413h6v6h-6zM233 419h6v6h-6zM239 425h6v6h-6zM251 431h6v6h-6z"/><path fill="#00fc60" d="M407 179h6v6h-6zM413 197h6v6h-6zM419 203h6v6h-6zM431 209h6v6h-6zM449 215h6v6h-6zM467 227h6v6h-6zM473 233h6v6h-6zM479 239h6v6h-6zM497 281h6v6h-6zM467 311h6v6h-6zM461 317h6v6h-6zM455 323h6v6h-6zM449 329h6v6h-6zM443 335h6v6h-6zM437 341h6v6h-6zM431 353h6v6h-6zM563 359h6v6h-6zM551 365h6v6h-6zM425 371h6v6h-6zM545 371h6v6h-6zM425 377h6v6h-6zM533 377h6v6h-6zM431 383h12v6h-12zM455 389h6v6h-6zM515 389h6v6h-6zM503 395h6v6h-6z"/><path fill="#fcd200" d="M257 185h6v6h-6zM257 191h6v6h-6zM263 197h6v6h-6zM149 269h6v6h-6zM191 293h6v6h-6zM203 311h6v6h-6zM365 389h6v6h-6zM389 419h6v6h-6zM401 437h6v6h-6zM299 443h6v6h-6zM293 467h6v6h-6z"/><path fill="#fcc600" d="M263 185h6v6h-6zM275 185h6v6h-6zM275 191h6v6h-6zM197 305h6v6h-6zM203 317h6v6h-6zM209 353h6v6h-6zM197 365h6v6h-6zM191 371h6v6h-6zM395 431h6v6h-6z"/><path fill="#fcc000" d="M269 185h6v6h-6zM263 191h6v6h-6zM161 275h6v6h-6zM209 335h6v6h-6zM203 359h6v6h-6zM359 389h6v6h-6zM323 395h6v6h-6zM371 395h6v6h-6zM305 413h6v6h-6zM299 455h6v6h-6zM293 479h6v6h-6z"/><path fill="#00fc06" d="M383 185h6v6h-6zM395 209h6v6h-6zM401 215h6v6h-6zM425 245h6v6h-6zM425 251h6v6h-6zM419 263h12v6h-12zM425 269h6v6h-6zM425 275h6v6h-6zM425 281h12v6h-12zM425 287h12v6h-12zM425 293h12v6h-12zM419 299h12v6h-12zM407 305h18v6h-18zM401 311h12v6h-12zM395 317h12v6h-12zM395 323h6v6h-6zM389 329h6v6h-6zM395 335h6v6h-6zM401 347h6v6h-6zM239 389h12v6h-12zM227 401h6v6h-6zM263 401h6v6h-6zM425 401h6v6h-6zM227 407h6v6h-6zM263 407h6v6h-6zM437 407h6v6h-6zM227 413h6v6h-6zM455 413h6v6h-6zM473 419h6v6h-6zM233 425h6v6h-6zM257 431h6v6h-6z"/><path fill="#00fc1e" d="M389 185h6v6h-6zM407 215h6v6h-6zM425 227h6v6h-6zM431 233h6v6h-6zM437 239h6v6h-6zM437 245h6v6h-6zM443 251h6v6h-6zM449 257h6v6h-6zM449 263h6v6h-6zM455 269h6v6h-6zM461 275h6v6h-6zM461 281h6v6h-6zM455 287h6v6h-6zM449 293h6v6h-6zM425 317h6v6h-6zM419 323h6v6h-6zM413 329h6v6h-6zM245 395h6v6h-6zM233 407h6v6h-6zM257 407h6v6h-6zM257 413h6v6h-6zM473 413h6v6h-6zM257 419h6v6h-6z"/><path fill="#00fc36" d="M395 185h6v6h-6zM401 203h6v6h-6zM437 227h6v6h-6zM455 245h6v6h-6zM461 251h6v6h-6zM467 257h6v6h-6zM473 263h6v6h-6zM479 275h6v6h-6zM479 281h6v6h-6zM461 299h6v6h-6zM455 305h6v6h-6zM449 311h6v6h-6zM419 341h6v6h-6zM419 347h6v6h-6zM413 377h6v6h-6zM431 395h6v6h-6zM533 395h6v6h-6zM455 401h6v6h-6zM521 401h6v6h-6zM467 407h6v6h-6z"/><path fill="#00fc48" d="M401 185h6v6h-6zM407 203h6v6h-6zM413 209h6v6h-6zM443 221h6v6h-6zM479 257h6v6h-6zM485 263h6v6h-6zM485 287h6v6h-6zM473 299h6v6h-6zM455 311h6v6h-6zM449 317h6v6h-6zM443 323h6v6h-6zM437 329h6v6h-6zM431 335h6v6h-6zM425 347h6v6h-6zM419 365h6v6h-6zM419 371h6v6h-6zM551 377h12v6h-12zM419 383h6v6h-6zM425 389h6v6h-6zM533 389h6v6h-6zM521 395h6v6h-6z"/><path fill="#00fca8" d="M431 185h6v6h-6zM455 197h6v6h-6zM473 203h6v6h-6zM485 209h6v6h-6zM497 311h6v6h-6zM479 323h6v6h-6zM473 329h6v6h-6zM539 329h6v6h-6zM533 341h6v6h-6zM461 359h6v6h-6zM461 365h6v6h-6zM503 371h6v6h-6zM473 377h6v6h-6z"/><path fill="#00fcd2" d="M455 185h6v6h-6zM473 191h6v6h-6zM497 323h18v6h-18zM485 329h6v6h-6zM515 329h6v6h-6zM515 347h6v6h-6zM509 353h6v6h-6zM503 359h6v6h-6zM479 365h6v6h-6zM491 365h6v6h-6z"/><path fill="#fcba00" d="M269 191h6v6h-6zM149 275h12v6h-12zM191 299h6v6h-6zM209 347h6v6h-6zM335 389h6v6h-6zM377 401h6v6h-6zM383 413h6v6h-6zM389 425h6v6h-6zM299 461h6v6h-6zM293 485h6v6h-6z"/><path fill="#fcf000" d="M287 191h6v6h-6zM251 197h6v6h-6zM257 203h24v6h-24zM155 263h6v6h-6zM197 293h6v6h-6zM209 311h6v6h-6zM215 329h6v6h-6zM215 353h6v6h-6zM359 383h6v6h-6zM401 431h6v6h-6zM287 479h6v6h-6z"/><path fill="#d2fc00" d="M311 191h6v6h-6zM311 197h6v6h-6zM239 203h6v6h-6zM311 203h6v6h-6zM311 209h6v6h-6zM311 215h6v6h-6zM257 221h6v6h-6zM305 221h6v6h-6zM275 227h12v6h-12zM293 227h12v6h-12zM161 251h6v6h-6zM185 263h6v6h-6zM221 299h6v6h-6zM227 317h6v6h-6zM227 323h6v6h-6zM233 341h6v6h-6zM227 353h6v6h-6zM323 371h6v6h-6zM197 383h6v6h-6zM311 383h6v6h-6zM389 389h6v6h-6zM407 425h6v6h-6zM281 443h6v6h-6zM281 449h6v6h-6zM281 455h6v6h-6z"/><path fill="#00fc54" d="M407 191h6v6h-6zM407 197h6v6h-6zM437 215h6v6h-6zM473 239h6v6h-6zM479 245h6v6h-6zM491 281h6v6h-6zM485 293h6v6h-6zM479 299h6v6h-6zM461 311h6v6h-6zM455 317h6v6h-6zM449 323h6v6h-6zM443 329h6v6h-6zM437 335h6v6h-6zM425 359h6v6h-6zM563 365h6v6h-6zM551 371h6v6h-6zM545 377h6v6h-6zM425 383h6v6h-6zM533 383h6v6h-6zM443 389h12v6h-12zM521 389h6v6h-6zM509 395h6v6h-6zM473 401h6v6h-6zM491 401h12v6h-12z"/><path fill="#00fc78" d="M419 191h6v6h-6zM425 197h6v6h-6zM437 203h6v6h-6zM473 221h6v6h-6zM479 227h6v6h-6zM485 305h6v6h-6zM449 341h6v6h-6zM557 347h6v6h-6zM443 353h6v6h-6zM551 353h6v6h-6zM527 371h6v6h-6zM449 377h6v6h-6zM509 383h6v6h-6zM467 389h6v6h-6z"/><path fill="#00fc84" d="M425 191h6v6h-6zM431 197h6v6h-6zM443 203h6v6h-6zM461 209h6v6h-6zM479 221h6v6h-6zM491 227h6v6h-6zM473 317h6v6h-6zM467 323h6v6h-6zM455 341h6v6h-6zM557 341h6v6h-6zM551 347h6v6h-6zM449 353h6v6h-6zM449 371h6v6h-6zM521 371h6v6h-6zM455 377h6v6h-6zM461 383h6v6h-6zM503 383h6v6h-6zM473 389h24v6h-24z"/><path fill="#fccc00" d="M269 197h6v6h-6zM143 269h6v6h-6zM167 275h6v6h-6zM179 281h6v6h-6zM185 287h6v6h-6zM209 329h6v6h-6zM329 389h6v6h-6zM383 407h6v6h-6zM299 449h6v6h-6zM293 473h6v6h-6z"/><path fill="#00fc0c" d="M389 197h6v6h-6zM425 239h6v6h-6zM425 257h6v6h-6zM431 263h6v6h-6zM431 269h6v6h-6zM431 275h12v6h-12zM437 281h6v6h-6zM437 287h6v6h-6zM437 293h6v6h-6zM431 299h6v6h-6zM425 305h6v6h-6zM413 311h6v6h-6zM407 317h6v6h-6zM401 323h6v6h-6zM395 329h6v6h-6zM401 341h6v6h-6zM407 365h6v6h-6zM407 371h6v6h-6zM407 377h6v6h-6zM233 395h6v6h-6zM257 395h6v6h-6zM443 407h6v6h-6zM479 419h12v6h-12zM245 431h6v6h-6z"/><path fill="#00fc00" d="M389 203h6v6h-6zM407 221h6v6h-6zM413 227h6v6h-6zM419 233h6v6h-6zM419 251h6v6h-6zM419 257h6v6h-6zM419 269h6v6h-6zM419 275h6v6h-6zM413 281h12v6h-12zM413 287h12v6h-12zM407 293h18v6h-18zM401 299h18v6h-18zM401 305h6v6h-6zM395 311h6v6h-6zM389 317h6v6h-6zM389 323h6v6h-6zM389 335h6v6h-6zM395 341h6v6h-6zM401 353h6v6h-6zM407 383h6v6h-6zM251 389h6v6h-6zM263 413h6v6h-6zM449 413h6v6h-6zM227 419h6v6h-6zM467 419h6v6h-6zM239 431h6v6h-6z"/><path fill="#00fc9c" d="M461 203h6v6h-6zM491 311h6v6h-6zM467 335h6v6h-6zM545 335h6v6h-6zM539 341h6v6h-6zM509 371h6v6h-6zM479 383h12v6h-12z"/><path fill="#00fc2a" d="M431 227h6v6h-6zM437 233h6v6h-6zM443 239h6v6h-6zM449 245h6v6h-6zM455 251h6v6h-6zM461 263h6v6h-6zM467 269h6v6h-6zM473 275h6v6h-6zM473 281h6v6h-6zM467 287h6v6h-6zM461 293h6v6h-6zM449 305h6v6h-6zM443 311h6v6h-6zM425 323h6v6h-6zM419 329h6v6h-6zM413 347h6v6h-6zM413 353h6v6h-6zM413 359h6v6h-6zM413 365h6v6h-6zM425 395h6v6h-6zM245 401h6v6h-6zM443 401h6v6h-6zM239 407h6v6h-6zM251 407h6v6h-6zM461 407h6v6h-6zM239 413h6v6h-6zM245 419h6v6h-6z"/><path fill="#fcb400" d="M143 275h6v6h-6zM173 281h6v6h-6zM197 311h6v6h-6zM203 323h6v6h-6zM209 341h6v6h-6zM353 389h6v6h-6zM317 401h6v6h-6zM305 419h6v6h-6z"/><path fill="#fc9c00" d="M137 281h12v6h-12zM185 299h6v6h-6zM305 461h6v6h-6zM299 479h6v6h-6z"/><path fill="#fca200" d="M149 281h12v6h-12zM197 317h6v6h-6zM203 329h6v6h-6zM203 353h6v6h-6zM197 359h6v6h-6zM191 365h6v6h-6zM365 395h6v6h-6zM377 407h6v6h-6zM383 419h6v6h-6zM389 431h6v6h-6zM305 455h6v6h-6zM299 473h6v6h-6z"/><path fill="#fca800" d="M161 281h12v6h-12zM179 287h6v6h-6zM191 305h6v6h-6zM329 395h6v6h-6zM305 443h6v6h-6zM305 449h6v6h-6z"/><path fill="#fc8400" d="M137 287h6v6h-6zM197 329h6v6h-6zM197 353h6v6h-6zM191 359h6v6h-6zM341 395h18v6h-18z"/><path fill="#fc8a00" d="M143 287h24v6h-24zM185 305h6v6h-6zM317 407h6v6h-6zM311 413h6v6h-6zM377 413h6v6h-6z"/><path fill="#fc9000" d="M167 287h6v6h-6zM179 293h6v6h-6zM197 323h6v6h-6zM203 341h6v6h-6zM203 347h6v6h-6zM335 395h6v6h-6zM359 395h6v6h-6zM383 425h6v6h-6zM305 467h6v6h-6z"/><path fill="#fc9600" d="M173 287h6v6h-6zM191 311h6v6h-6zM203 335h6v6h-6zM323 401h6v6h-6zM371 401h6v6h-6z"/><path fill="#fc7200" d="M137 293h12v6h-12zM191 323h6v6h-6zM197 341h6v6h-6zM197 347h6v6h-6zM311 461h6v6h-6zM305 479h6v6h-6z"/><path fill="#fc7800" d="M149 293h24v6h-24zM185 311h6v6h-6zM197 335h6v6h-6zM365 401h6v6h-6zM371 407h6v6h-6zM377 419h6v6h-6zM311 425h6v6h-6zM311 455h6v6h-6z"/><path fill="#fc7e00" d="M173 293h6v6h-6zM179 299h6v6h-6zM191 317h6v6h-6zM329 401h6v6h-6zM311 419h6v6h-6zM311 431h6v6h-6zM311 437h6v6h-6zM311 443h6v6h-6zM311 449h6v6h-6zM305 473h6v6h-6z"/><path fill="#fcae00" d="M185 293h6v6h-6zM341 389h12v6h-12zM311 407h6v6h-6zM305 425h6v6h-6zM305 431h6v6h-6zM305 437h6v6h-6zM395 437h6v6h-6zM299 467h6v6h-6z"/><path fill="#fc5a00" d="M131 299h6v6h-6zM173 305h6v6h-6zM179 311h6v6h-6zM191 335h6v6h-6zM191 347h6v6h-6zM341 401h6v6h-6zM353 401h6v6h-6zM365 407h6v6h-6zM377 431h6v6h-6zM311 473h6v6h-6z"/><path fill="#fc6000" d="M137 299h30v6h-30zM191 329h6v6h-6zM305 491h6v6h-6z"/><path fill="#fc6600" d="M167 299h6v6h-6zM185 317h6v6h-6zM359 401h6v6h-6zM317 413h6v6h-6zM371 413h6v6h-6zM377 425h6v6h-6zM311 467h6v6h-6zM305 485h6v6h-6z"/><path fill="#fc6c00" d="M173 299h6v6h-6zM179 305h6v6h-6zM191 353h6v6h-6zM185 359h6v6h-6zM335 401h6v6h-6zM323 407h6v6h-6z"/><path fill="#fc4800" d="M131 305h12v6h-12zM173 311h6v6h-6zM185 329h6v6h-6zM185 347h6v6h-6zM371 425h6v6h-6z"/><path fill="#fc4e00" d="M143 305h24v6h-24zM179 317h6v6h-6zM323 413h6v6h-6zM317 461h6v6h-6zM311 479h6v6h-6z"/><path fill="#fc5400" d="M167 305h6v6h-6zM185 323h6v6h-6zM191 341h6v6h-6zM185 353h6v6h-6zM347 401h6v6h-6zM329 407h6v6h-6zM317 419h6v6h-6zM371 419h6v6h-6zM317 425h6v6h-6zM317 431h6v6h-6zM317 437h6v6h-6zM317 443h6v6h-6zM317 449h6v6h-6zM317 455h6v6h-6z"/><path fill="#fc3600" d="M131 311h30v6h-30zM179 347h6v6h-6zM173 353h6v6h-6zM341 407h6v6h-6zM329 413h6v6h-6zM365 419h6v6h-6zM371 431h6v6h-6zM323 443h6v6h-6zM317 473h6v6h-6zM311 491h6v6h-6z"/><path fill="#fc3c00" d="M161 311h12v6h-12zM173 317h6v6h-6zM179 323h6v6h-6zM359 407h6v6h-6zM323 419h6v6h-6z"/><path fill="#fc2400" d="M131 317h12v6h-12zM155 317h12v6h-12zM173 347h6v6h-6zM155 359h6v6h-6zM137 365h12v6h-12zM359 413h6v6h-6zM329 419h6v6h-6zM365 425h6v6h-6zM323 467h6v6h-6z"/><path fill="#fc1e00" d="M143 317h12v6h-12zM167 323h6v6h-6zM173 329h6v6h-6zM173 341h6v6h-6zM161 353h6v6h-6zM149 359h6v6h-6zM329 425h6v6h-6zM365 431h6v6h-6zM317 485h6v6h-6z"/><path fill="#fc2a00" d="M167 317h6v6h-6zM173 323h6v6h-6zM179 335h6v6h-6zM179 341h6v6h-6zM167 353h6v6h-6zM335 413h6v6h-6zM371 437h6v6h-6zM323 461h6v6h-6zM317 479h6v6h-6z"/><path fill="#fc1200" d="M131 323h12v6h-12zM161 323h6v6h-6zM167 329h6v6h-6zM167 341h6v6h-6zM161 347h6v6h-6zM149 353h6v6h-6zM131 359h6v6h-6zM347 413h6v6h-6zM335 419h6v6h-6zM365 437h6v6h-6zM329 449h6v6h-6zM317 497h6v6h-6z"/><path fill="#fc0c00" d="M143 323h18v6h-18zM167 335h6v6h-6zM155 347h6v6h-6zM131 353h18v6h-18zM335 425h6v6h-6zM359 425h6v6h-6zM329 455h6v6h-6zM329 461h6v6h-6zM323 479h6v6h-6zM317 503h6v6h-6z"/><path fill="#fc0600" d="M131 329h12v6h-12zM161 329h6v6h-6zM161 335h6v6h-6zM161 341h6v6h-6zM131 347h24v6h-24zM341 419h6v6h-6zM353 419h6v6h-6zM335 431h6v6h-6zM359 431h6v6h-6zM335 437h6v6h-6zM329 467h6v6h-6z"/><path fill="#fc0000" d="M143 329h18v6h-18zM131 335h30v6h-30zM131 341h30v6h-30zM347 419h6v6h-6zM341 425h18v6h-18zM341 431h18v6h-18zM341 437h24v6h-24zM335 443h18v6h-18zM335 449h18v6h-18zM335 455h24v6h-24zM335 461h24v6h-24zM335 467h24v6h-24zM329 473h30v6h-30zM329 479h30v6h-30zM323 485h36v6h-36zM323 491h36v6h-36zM323 497h36v6h-36zM323 503h30v6h-30z"/><path fill="#fc3000" d="M179 329h6v6h-6zM161 359h6v6h-6zM149 365h6v6h-6zM347 407h12v6h-12zM323 425h6v6h-6zM323 431h6v6h-6zM323 437h6v6h-6zM323 449h6v6h-6zM323 455h6v6h-6zM311 497h6v6h-6z"/><path fill="#fc1800" d="M173 335h6v6h-6zM167 347h6v6h-6zM155 353h6v6h-6zM137 359h12v6h-12zM341 413h6v6h-6zM353 413h6v6h-6zM359 419h6v6h-6zM329 431h6v6h-6zM329 437h6v6h-6zM329 443h6v6h-6zM323 473h6v6h-6zM317 491h6v6h-6z"/><path fill="#fc4200" d="M185 335h6v6h-6zM185 341h6v6h-6zM179 353h6v6h-6zM335 407h6v6h-6zM365 413h6v6h-6zM317 467h6v6h-6zM311 485h6v6h-6z"/></g></g>
<path d="M559 508.5L563 502L569 496L575 491L580 487L583 484.5L586.5 484V508.5Z" fill="#aec4e4"/>
<path d="M551.3 71.3L555.4 78.1M555.4 75.9L561.8 70.9" stroke="#b4bccb" stroke-width="1.3" fill="none"/>
<path d="M475.7 492.3L473.7 496.2L476.2 500.7L483.3 501.3L488.9 503.5L492.5 506.9" stroke="#d6d9d5" stroke-width="1.2" fill="none"/>
<path d="M209.8 70.0 L213.3 68.8 L217.0 69.1 L217.6 72.2 L216.7 75.4 L217.2 78.6 L217.4 81.8 L218.5 85.3 L218.2 89.0 L218.5 92.6 L218.8 96.3 L219.7 99.9 L218.9 103.5 L220.2 107.1 L219.8 110.8 L222.2 114.3 L224.3 118.0 L226.1 121.1 L228.0 124.0 L229.7 127.1 L230.0 123.8 L230.5 120.5 L231.0 117.2 L229.9 113.8 L230.8 110.5 L230.6 107.1 L232.7 104.9 L234.0 102.1 L236.1 99.9 L237.6 96.2 L240.6 93.5 L244.2 89.9 L246.4 93.2 L249.7 95.4 L252.4 97.8 L254.8 100.6 L256.9 103.5 L258.1 106.9 L260.4 109.6 L262.4 112.6 L264.2 115.3 L266.0 118.0 L263.8 120.5 L262.4 123.5 L264.1 126.4 L264.2 129.8 L265.7 133.2 L267.8 136.2 L269.6 141.6 L272.1 145.1 L274.2 148.8 L275.9 145.7 L278.7 143.4 L282.4 142.8 L285.9 141.6 L289.1 140.4 L291.4 138.0 L293.2 140.5 L293.9 143.5 L295.8 146.0 L296.8 148.8 L298.3 152.2 L300.1 155.4 L302.7 158.1 L304.1 161.5 L304.9 164.5 L306.5 167.1 L307.9 169.8 L309.5 172.4 L310.4 175.4 L312.3 177.8 L313.2 180.8 L315.0 183.3 L316.8 186.7 L320.3 188.9 L322.2 192.4 L323.5 195.2 L326.0 197.1 L327.6 199.6 L326.0 197.7 L330.0 201.7 L329.5 205.7 L329.0 209.6 L331.2 212.0 L332.0 215.1 L334.0 217.6 L335.6 220.8 L336.0 224.5 L337.9 227.6 L340.9 230.0 L343.2 233.0 L345.9 235.6 L348.9 239.6 L352.6 239.0 L356.3 239.1 L359.9 238.6 L362.2 235.8 L364.8 233.5 L367.9 231.6 L370.8 230.3 L373.4 228.6 L375.8 226.6 L379.9 225.2 L383.8 223.6 L384.6 226.9 L386.8 229.6 L390.0 227.1 L393.8 225.6 L398.1 224.2 L401.8 221.6 L403.3 218.3 L405.8 215.6 L406.1 212.5 L405.0 209.6 L404.5 206.6 L403.8 203.7 L403.8 200.5 L402.8 197.5 L402.0 194.6 L400.8 191.7 L399.5 188.8 L399.5 185.7 L398.5 182.8 L398.8 179.7 L398.6 176.3 L398.9 173.0 L399.8 169.7 L403.1 168.3 L405.8 165.8 L408.0 163.2 L410.9 161.5 L413.7 159.8 L416.7 156.8 L419.7 153.8 L422.3 150.8 L424.4 147.6 L425.7 143.8 L428.0 140.0 L429.7 135.8 L427.3 133.1 L425.7 129.9 L428.8 126.9 L431.7 123.9 L435.1 122.9 L438.0 120.5 L441.7 119.9 L442.7 117.0 L442.9 113.8 L444.1 111.0 L444.7 107.9 L444.5 103.9 L443.7 99.9 L446.6 100.5 L449.6 100.5 L452.6 100.8 L455.6 100.9 L458.8 100.4 L462.0 100.9 L465.2 100.3 L468.4 100.9 L471.6 100.9 L469.5 103.2 L467.2 105.3 L465.6 107.9 L466.4 111.2 L467.8 114.4 L467.6 117.9 L470.6 119.9 L473.6 121.9 L473.1 125.5 L471.6 128.9 L469.6 132.9 L471.8 135.4 L474.7 137.2 L477.2 139.4 L479.6 141.8 L482.7 141.8 L485.5 140.1 L488.5 139.3 L491.5 138.8 L494.0 136.6 L496.8 134.8 L499.5 132.9 L502.4 131.7 L505.5 132.0 L508.5 131.5 L509.8 135.0 L512.5 137.8 L513.3 141.9 L514.5 145.8 L513.5 148.7 L512.7 151.7 L512.4 154.7 L512.5 157.8 L511.0 161.0 L509.9 164.3 L509.5 167.8 L506.1 167.5 L502.9 168.9 L499.5 168.8 L495.5 170.3 L491.5 171.7 L488.5 171.8 L485.5 171.7 L482.6 170.9 L479.6 170.7 L476.1 169.4 L473.0 167.2 L469.6 165.8 L467.0 167.6 L465.0 170.3 L462.2 171.8 L459.6 173.7 L456.5 170.9 L453.6 167.8 L449.6 166.8 L447.3 169.5 L446.3 173.2 L443.7 175.7 L441.4 178.2 L438.3 179.7 L435.7 181.7 L434.8 184.8 L433.7 187.7 L435.4 190.9 L437.7 193.7 L438.5 197.1 L439.2 200.6 L438.4 204.3 L439.7 207.6 L442.6 209.3 L445.4 211.1 L447.6 213.6 L450.5 212.0 L453.5 210.9 L456.4 209.4 L459.6 208.6 L462.6 208.0 L465.8 207.9 L468.4 205.7 L471.6 205.6 L474.3 208.2 L476.7 211.2 L479.6 213.6 L480.9 217.9 L483.5 221.6 L480.8 223.7 L480.1 227.3 L477.6 229.6 L476.5 233.1 L474.9 236.4 L475.3 240.3 L473.6 243.5 L472.9 246.5 L473.2 249.6 L471.6 252.4 L471.6 255.5 L469.6 259.5 L470.9 262.6 L473.5 264.9 L475.6 267.5 L478.2 269.4 L480.2 272.0 L481.7 274.9 L483.5 277.4 L485.8 279.9 L489.1 281.1 L491.5 283.4 L487.0 287.3 L485.3 289.8 L484.3 292.7 L483.1 295.5 L481.5 298.1 L480.1 301.1 L477.9 303.6 L476.7 306.8 L476.4 310.3 L475.2 313.5 L477.2 317.5 L478.8 321.7 L480.2 325.0 L482.5 327.7 L484.3 330.8 L486.1 327.8 L487.0 324.4 L490.0 324.8 L493.1 324.4 L496.0 325.3 L499.7 325.7 L503.3 326.2 L505.5 329.8 L508.7 332.6 L509.2 335.6 L509.1 338.8 L510.6 341.7 L514.5 342.2 L517.8 344.4 L523.2 346.2 L526.9 341.7 L530.5 345.3 L533.5 344.7 L536.6 345.2 L539.6 344.4 L542.4 343.3 L545.0 341.7 L550.4 343.5 L552.2 347.1 L554.1 350.7 L555.2 353.6 L556.8 356.2 L555.2 359.6 L555.0 363.4 L554.0 366.4 L553.7 369.4 L553.2 372.5 L549.9 373.7 L546.8 375.2 L543.3 374.0 L539.6 373.4 L537.4 375.7 L534.5 377.4 L532.3 379.7 L530.3 382.1 L528.3 384.4 L526.9 387.2 L525.1 389.7 L521.4 385.2 L517.4 384.1 L514.2 381.5 L510.5 383.8 L506.9 386.1 L503.7 386.7 L500.8 388.3 L497.9 389.7 L494.5 392.2 L491.5 395.1 L492.2 399.2 L492.4 403.3 L489.9 406.2 L487.0 408.7 L484.0 408.3 L480.9 409.5 L477.9 408.7 L474.6 410.0 L471.5 411.8 L468.8 414.2 L466.7 410.9 L463.4 408.7 L459.9 410.3 L456.2 410.6 L455.7 413.7 L453.3 416.1 L453.1 419.3 L452.2 422.3 L450.7 425.1 L448.2 423.4 L446.1 421.2 L443.5 419.6 L440.8 417.8 L438.9 415.1 L436.9 412.6 L434.4 410.6 L432.2 413.4 L431.5 417.0 L429.0 419.6 L427.1 417.0 L424.3 415.2 L422.1 412.9 L419.9 410.6 L418.0 413.2 L416.6 416.2 L413.9 418.3 L412.6 421.4 L409.8 425.0 L406.3 427.8 L405.4 427.6 L402.5 424.6 L399.4 421.7 L395.9 420.9 L392.8 418.8 L389.4 417.7 L387.0 415.8 L384.2 414.6 L380.9 414.5 L378.5 412.7 L376.3 416.1 L374.5 419.7 L372.2 422.7 L371.6 426.6 L369.5 429.6 L365.5 428.8 L361.5 427.6 L357.4 428.3 L353.5 429.6 L349.7 427.7 L345.6 426.6 L342.6 429.2 L339.6 431.6 L337.4 434.5 L335.6 437.6 L336.0 441.0 L337.2 444.2 L337.6 447.6 L338.7 451.0 L340.1 454.3 L341.6 457.6 L342.0 460.6 L343.1 463.5 L344.1 466.5 L344.6 469.5 L345.0 472.8 L344.5 476.2 L345.6 479.5 L346.8 483.1 L347.5 486.7 L347.6 490.5 L343.6 494.5 L340.2 495.0 L337.0 493.2 L333.6 493.5 L330.7 492.3 L327.6 493.4 L324.6 493.1 L321.6 492.5 L319.2 489.2 L317.6 485.5 L316.8 482.1 L315.6 478.8 L314.7 475.5 L314.2 471.7 L312.2 468.3 L311.7 464.5 L308.4 465.4 L305.7 467.5 L303.4 469.6 L300.7 471.1 L298.7 473.5 L295.7 474.3 L292.9 475.3 L290.5 477.3 L287.7 478.5 L284.5 477.3 L281.1 476.4 L277.8 475.5 L273.8 476.1 L269.8 475.5 L265.8 471.5 L263.8 468.9 L262.4 465.7 L259.8 463.5 L260.0 460.4 L258.0 457.7 L258.6 454.5 L257.8 451.6 L253.8 448.6 L250.8 448.4 L247.7 448.2 L244.7 447.7 L241.9 446.6 L238.9 445.8 L235.9 445.3 L232.9 445.8 L229.9 445.6 L226.9 445.1 L223.9 444.2 L220.9 443.6 L222.0 439.7 L221.9 435.6 L224.3 431.8 L225.9 427.6 L225.8 424.2 L226.7 420.9 L227.9 417.7 L229.2 414.5 L229.2 411.0 L229.9 407.7 L234.0 406.0 L237.9 403.7 L237.4 399.6 L235.9 395.7 L232.9 394.7 L230.0 393.8 L226.9 393.4 L223.9 392.7 L220.3 392.7 L216.8 392.3 L213.6 390.4 L209.9 390.7 L207.0 385.8 L205.7 382.5 L206.6 379.1 L206.0 375.8 L206.1 371.7 L205.0 367.8 L203.0 364.0 L202.0 359.8 L199.0 358.5 L197.0 355.8 L196.3 351.9 L196.0 347.9 L198.8 345.1 L202.0 342.9 L206.0 340.9 L201.9 341.4 L197.8 341.8 L194.7 341.9 L191.7 341.0 L188.6 341.8 L184.8 342.8 L180.9 342.5 L176.9 342.1 L173.2 343.3 L169.5 345.2 L165.5 345.6 L161.2 346.8 L157.7 349.5 L154.0 352.0 L150.0 354.1 L145.4 355.6 L143.8 353.1 L141.6 351.0 L142.8 348.1 L145.4 346.4 L147.7 344.0 L150.0 341.8 L151.1 338.0 L151.6 334.1 L148.5 331.0 L148.5 326.4 L145.1 325.7 L141.6 325.6 L142.4 322.3 L141.5 318.9 L142.3 315.6 L141.8 312.1 L141.6 308.6 L144.4 307.3 L147.0 305.5 L149.7 303.6 L153.1 303.2 L152.1 299.9 L150.0 297.1 L150.3 294.0 L150.8 290.9 L151.9 287.6 L153.9 284.7 L157.0 280.9 L160.8 282.4 L162.8 280.1 L165.5 278.6 L168.0 276.0 L170.1 273.2 L170.8 267.8 L172.4 263.2 L176.2 264.7 L179.1 263.1 L182.4 263.2 L183.5 259.9 L185.5 257.0 L188.6 252.4 L193.2 250.1 L196.3 250.8 L196.3 246.2 L194.4 243.3 L193.2 240.0 L193.2 235.4 L197.8 232.3 L197.4 229.2 L197.8 226.2 L198.9 223.2 L199.8 220.1 L200.0 216.9 L201.0 213.8 L200.7 210.5 L200.9 207.3 L199.9 204.2 L199.7 201.0 L199.8 197.8 L198.9 194.2 L198.9 190.6 L199.3 186.9 L198.9 183.3 L199.1 179.6 L198.1 176.1 L197.9 172.4 L198.0 168.8 L198.2 165.1 L198.2 161.5 L197.1 157.9 L191.7 156.1 L187.8 155.9 L184.4 154.3 L182.1 156.7 L179.0 157.9 L177.9 154.1 L175.9 150.7 L174.4 147.0 L172.5 143.5 L170.8 139.8 L170.6 136.1 L169.9 132.5 L170.8 129.0 L170.8 125.3 L171.4 121.4 L173.5 118.0 L175.3 114.4 L179.0 117.1 L179.4 121.0 L180.6 124.6 L182.6 128.0 L188.0 126.2 L191.6 124.7 L195.3 123.5 L196.6 120.7 L198.0 118.0 L196.7 115.1 L196.3 111.9 L195.3 109.0 L193.9 105.5 L193.5 101.7 L192.6 98.1 L195.3 96.3 L195.8 92.8 L194.8 89.5 L195.2 86.0 L194.4 82.7 L198.4 82.1 L202.5 82.7 L204.3 87.2 L208.0 85.4 L210.0 82.0 L210.7 78.1 L209.6 74.1Z" fill="none" stroke="#000" stroke-width="2.3" stroke-linejoin="round"/>
<rect x="168.3" y="67.8" width="100.4" height="200.3" fill="none" stroke="#ee1111" stroke-width="1.8"/>
<rect x="206" y="367.9" width="199.8" height="129.2" fill="none" stroke="#ee1111" stroke-width="1.8"/>
<text x="228" y="86.6" font-size="23.5" fill="#f00">NW</text>
<text x="210.3" y="491.8" font-size="23.5" fill="#f00">S</text>
<text x="110.1" y="80.6" font-size="38">(b)</text>
</g>
<g transform="translate(-1.4,533.4)">
<rect x="94.0" y="37.5" width="504.0" height="481.5" fill="#fff" stroke="#3a3a3a" stroke-width="1.2"/>
<rect x="236.9" y="37.5" width="218.4" height="11.5" fill="#000"/>
<rect x="236.9" y="508.5" width="218.4" height="10.5" fill="#000"/>
<rect x="94.0" y="49.0" width="11.9" height="25.2" fill="#000"/>
<rect x="94.0" y="319.5" width="11.9" height="189.0" fill="#000"/>
<rect x="586.4" y="49.0" width="11.6" height="25.2" fill="#000"/>
<rect x="586.4" y="319.5" width="11.6" height="189.0" fill="#000"/>
<path d="M105.9 37.5V519.0M586.4 37.5V519.0M94.0 49.0H598.0M94.0 508.5H598.0" stroke="#3a3a3a" stroke-width="1.1" fill="none"/>
<rect x="105.9" y="49.0" width="480.5" height="459.5" fill="#f5f2ef" stroke="#555" stroke-width="1"/>
</g>
<g transform="translate(-1.4,533.4)">
<defs><filter id="blc" x="-10%" y="-10%" width="120%" height="120%"><feGaussianBlur stdDeviation="3"/></filter></defs><g clip-path="url(#clipY)"><g filter="url(#blc)" shape-rendering="crispEdges"><path fill="#fcc600" d="M197 59h6v6h-6zM197 65h6v6h-6zM209 173h6v6h-6zM203 389h6v6h-6zM215 389h6v6h-6zM251 419h12v6h-12zM311 443h6v6h-6zM257 467h6v6h-6zM287 473h6v6h-6z"/><path fill="#fce400" d="M203 59h6v6h-6zM203 65h6v6h-6zM203 71h6v6h-6zM203 77h6v6h-6zM203 83h6v6h-6zM209 377h6v6h-6zM197 389h6v6h-6zM209 401h6v6h-6zM311 461h6v6h-6zM299 473h6v6h-6z"/><path fill="#fcfc00" d="M209 59h6v6h-6zM209 65h6v6h-6zM209 71h6v6h-6zM209 77h6v6h-6zM209 95h6v6h-6zM209 101h6v6h-6zM221 137h6v6h-6zM221 143h6v6h-6zM221 149h6v6h-6zM221 155h6v6h-6zM215 179h6v6h-6zM191 185h12v6h-12zM209 185h6v6h-6zM221 383h6v6h-6zM221 401h6v6h-6zM239 413h18v6h-18zM275 419h6v6h-6zM293 419h6v6h-6zM311 431h6v6h-6zM317 449h6v6h-6zM245 467h6v6h-6zM257 473h6v6h-6zM281 479h18v6h-18z"/><path fill="#defc00" d="M215 59h6v6h-6zM221 179h6v6h-6zM221 413h6v6h-6zM263 413h6v6h-6zM317 437h6v6h-6zM263 479h6v6h-6z"/><path fill="#bafc00" d="M221 59h6v6h-6zM221 113h6v6h-6zM227 137h6v6h-6zM227 173h6v6h-6zM191 191h6v6h-6zM275 413h12v6h-12zM263 485h6v6h-6z"/><path fill="#d8fc00" d="M215 65h6v6h-6zM215 71h6v6h-6zM215 101h6v6h-6zM221 377h6v6h-6zM239 407h6v6h-6zM215 413h6v6h-6zM227 419h6v6h-6zM257 479h6v6h-6zM281 485h12v6h-12z"/><path fill="#b4fc00" d="M221 65h6v6h-6zM227 131h6v6h-6zM185 191h6v6h-6zM197 371h6v6h-6zM287 413h6v6h-6zM227 425h6v6h-6z"/><path fill="#90fc00" d="M227 65h6v6h-6zM227 119h6v6h-6zM233 389h6v6h-6zM245 401h6v6h-6zM227 449h6v6h-6zM323 449h6v6h-6zM227 455h6v6h-6z"/><path fill="#fc9000" d="M185 71h6v6h-6zM191 101h6v6h-6zM179 167h18v6h-18zM275 425h6v6h-6zM287 467h6v6h-6z"/><path fill="#fca800" d="M191 71h6v6h-6zM191 77h6v6h-6zM203 113h6v6h-6zM203 167h6v6h-6zM191 173h12v6h-12zM305 431h6v6h-6zM245 455h6v6h-6zM251 461h6v6h-6z"/><path fill="#fcc000" d="M197 71h6v6h-6zM197 77h6v6h-6zM197 83h6v6h-6zM197 89h6v6h-6zM203 107h6v6h-6zM209 119h6v6h-6zM209 167h6v6h-6zM245 425h6v6h-6zM311 455h6v6h-6zM263 467h6v6h-6z"/><path fill="#aefc00" d="M221 71h6v6h-6zM221 77h6v6h-6zM221 107h6v6h-6zM227 179h6v6h-6zM215 191h6v6h-6zM233 395h6v6h-6zM239 401h6v6h-6zM257 407h6v6h-6zM215 419h6v6h-6zM317 467h6v6h-6z"/><path fill="#8afc00" d="M227 71h6v6h-6zM233 155h6v6h-6zM233 161h6v6h-6zM233 167h6v6h-6zM227 443h6v6h-6zM317 473h6v6h-6zM305 491h6v6h-6z"/><path fill="#fc7800" d="M179 77h6v6h-6zM185 101h6v6h-6zM197 119h6v6h-6zM197 155h6v6h-6zM173 161h6v6h-6zM191 161h6v6h-6zM281 425h12v6h-12zM299 461h6v6h-6z"/><path fill="#fc8a00" d="M185 77h6v6h-6zM185 83h6v6h-6zM197 113h6v6h-6zM203 125h6v6h-6zM203 155h6v6h-6zM293 425h6v6h-6zM245 449h6v6h-6zM257 461h6v6h-6z"/><path fill="#d2fc00" d="M215 77h6v6h-6zM215 83h6v6h-6zM215 95h6v6h-6zM209 371h6v6h-6zM227 389h6v6h-6zM311 425h6v6h-6zM233 449h6v6h-6zM293 485h6v6h-6z"/><path fill="#84fc00" d="M227 77h6v6h-6zM233 143h6v6h-6zM233 149h6v6h-6zM233 173h6v6h-6zM269 407h6v6h-6zM317 419h6v6h-6zM215 425h6v6h-6zM323 425h6v6h-6zM227 437h6v6h-6zM323 455h6v6h-6zM311 485h6v6h-6z"/><path fill="#5afc00" d="M233 77h6v6h-6zM191 365h6v6h-6zM233 377h6v6h-6zM263 401h6v6h-6zM317 413h6v6h-6zM329 431h6v6h-6zM221 437h6v6h-6zM221 443h6v6h-6zM221 449h6v6h-6zM221 455h6v6h-6z"/><path fill="#36fc00" d="M239 77h6v6h-6zM275 401h6v6h-6zM305 407h6v6h-6zM323 413h6v6h-6zM329 443h6v6h-6zM215 449h6v6h-6zM323 485h6v6h-6zM323 491h6v6h-6z"/><path fill="#12fc00" d="M245 77h6v6h-6zM239 95h6v6h-6zM239 101h6v6h-6zM239 107h6v6h-6zM245 131h6v6h-6zM245 137h6v6h-6zM245 155h6v6h-6zM245 185h6v6h-6zM251 257h6v6h-6zM287 401h6v6h-6zM329 473h6v6h-6zM329 485h6v6h-6z"/><path fill="#00fc06" d="M251 77h6v6h-6zM245 89h6v6h-6zM245 113h6v6h-6zM251 125h6v6h-6zM251 131h6v6h-6zM251 203h6v6h-6zM257 215h6v6h-6zM251 221h12v6h-12zM263 251h6v6h-6zM263 257h6v6h-6zM347 281h12v6h-12zM347 287h12v6h-12zM347 293h6v6h-6zM347 299h12v6h-12zM353 305h6v6h-6zM341 311h6v6h-6zM341 317h6v6h-6zM341 323h6v6h-6zM341 329h6v6h-6zM341 335h6v6h-6zM353 341h6v6h-6zM233 365h6v6h-6zM239 371h6v6h-6zM245 383h6v6h-6zM275 395h6v6h-6zM335 437h6v6h-6z"/><path fill="#fc7200" d="M179 83h6v6h-6zM191 113h6v6h-6zM161 155h6v6h-6zM179 161h12v6h-12zM251 455h6v6h-6z"/><path fill="#fca200" d="M191 83h6v6h-6zM191 89h6v6h-6zM209 131h6v6h-6zM209 137h6v6h-6zM209 143h6v6h-6zM209 149h6v6h-6zM305 461h6v6h-6zM275 467h6v6h-6z"/><path fill="#f6fc00" d="M209 83h6v6h-6zM209 89h6v6h-6zM215 113h6v6h-6zM221 161h6v6h-6zM191 389h6v6h-6zM215 407h12v6h-12zM233 413h6v6h-6zM233 419h6v6h-6zM305 473h6v6h-6zM275 479h6v6h-6z"/><path fill="#a8fc00" d="M221 83h6v6h-6zM293 413h6v6h-6zM317 425h6v6h-6zM305 485h6v6h-6z"/><path fill="#78fc00" d="M227 83h6v6h-6zM227 191h6v6h-6zM233 383h6v6h-6zM275 407h6v6h-6zM323 461h6v6h-6z"/><path fill="#4efc00" d="M233 83h6v6h-6zM233 119h6v6h-6zM239 161h6v6h-6zM239 173h6v6h-6zM239 389h6v6h-6zM293 407h6v6h-6zM323 473h6v6h-6z"/><path fill="#2afc00" d="M239 83h6v6h-6zM203 359h12v6h-12zM227 365h6v6h-6zM257 395h6v6h-6zM209 443h6v6h-6zM323 503h6v6h-6z"/><path fill="#06fc00" d="M245 83h6v6h-6zM245 119h6v6h-6zM245 197h6v6h-6zM245 203h6v6h-6zM233 209h18v6h-18zM251 215h6v6h-6zM251 251h6v6h-6zM347 317h6v6h-6zM347 323h6v6h-6zM347 329h6v6h-6zM347 335h6v6h-6zM185 359h6v6h-6zM221 359h6v6h-6zM251 389h6v6h-6zM323 407h6v6h-6zM335 425h6v6h-6zM335 431h6v6h-6z"/><path fill="#00fc12" d="M251 83h6v6h-6zM245 101h6v6h-6zM251 119h6v6h-6zM251 137h6v6h-6zM251 161h6v6h-6zM251 167h6v6h-6zM251 185h6v6h-6zM251 191h6v6h-6zM251 197h6v6h-6zM245 263h6v6h-6zM263 263h6v6h-6zM341 293h6v6h-6zM341 299h6v6h-6zM359 323h6v6h-6zM359 329h6v6h-6zM359 335h6v6h-6zM353 347h6v6h-6zM335 419h6v6h-6zM335 479h6v6h-6zM341 491h6v6h-6z"/><path fill="#00fc2a" d="M257 83h6v6h-6zM251 101h6v6h-6zM257 137h6v6h-6zM257 191h6v6h-6zM263 203h6v6h-6zM185 209h6v6h-6zM263 227h6v6h-6zM269 263h6v6h-6zM341 275h6v6h-6zM335 293h6v6h-6zM365 329h6v6h-6zM365 335h6v6h-6zM365 341h6v6h-6zM197 353h6v6h-6z"/><path fill="#00fcba" d="M437 83h12v6h-12zM431 89h54v6h-54zM431 95h54v6h-54zM431 101h48v6h-48zM437 107h30v6h-30zM437 113h24v6h-24zM431 119h24v6h-24zM419 125h36v6h-36zM413 131h42v6h-42zM413 137h42v6h-42zM407 143h54v6h-54zM311 149h6v6h-6zM419 149h42v6h-42zM311 155h6v6h-6zM431 155h30v6h-30zM311 161h12v6h-12zM437 161h30v6h-30zM311 167h12v6h-12zM443 167h30v6h-30zM311 173h18v6h-18zM455 173h18v6h-18zM461 179h18v6h-18zM467 191h12v6h-12zM311 197h6v6h-6zM473 197h12v6h-12zM305 203h24v6h-24zM473 203h12v6h-12zM299 209h6v6h-6zM329 209h6v6h-6zM473 209h12v6h-12zM329 215h6v6h-6zM473 215h12v6h-12zM185 221h6v6h-6zM209 221h6v6h-6zM473 221h12v6h-12zM335 227h6v6h-6zM467 227h12v6h-12zM335 233h6v6h-6zM467 233h12v6h-12zM461 239h12v6h-12zM335 245h6v6h-6zM455 245h12v6h-12zM329 251h6v6h-6zM443 251h12v6h-12zM305 257h6v6h-6zM317 257h6v6h-6zM431 257h12v6h-12zM419 263h6v6h-6zM407 269h6v6h-6zM395 281h6v6h-6zM137 287h6v6h-6zM137 293h6v6h-6zM287 293h6v6h-6zM389 293h6v6h-6zM137 299h6v6h-6zM293 299h6v6h-6zM389 311h6v6h-6zM437 311h24v6h-24zM395 317h6v6h-6zM431 317h6v6h-6zM449 317h18v6h-18zM137 323h6v6h-6zM299 323h6v6h-6zM401 323h6v6h-6zM419 323h12v6h-12zM455 323h6v6h-6zM143 329h6v6h-6zM299 329h6v6h-6zM455 329h6v6h-6zM155 335h30v6h-30zM449 335h12v6h-12zM233 341h30v6h-30zM305 341h6v6h-6zM449 341h6v6h-6zM269 347h6v6h-6zM449 347h6v6h-6zM269 353h6v6h-6zM449 353h6v6h-6zM443 359h12v6h-12zM443 365h12v6h-12zM275 371h6v6h-6zM437 371h18v6h-18zM281 377h6v6h-6zM347 377h6v6h-6zM383 377h24v6h-24zM419 377h36v6h-36zM323 383h6v6h-6zM341 383h6v6h-6zM419 383h24v6h-24zM341 389h6v6h-6zM347 425h6v6h-6z"/><path fill="#fc6c00" d="M179 89h6v6h-6zM179 95h6v6h-6zM185 107h6v6h-6zM197 125h6v6h-6zM197 149h6v6h-6zM305 443h6v6h-6zM269 461h6v6h-6z"/><path fill="#fc8400" d="M185 89h6v6h-6zM191 107h6v6h-6zM203 149h6v6h-6zM197 161h6v6h-6zM257 425h12v6h-12zM251 431h6v6h-6z"/><path fill="#fcde00" d="M203 89h6v6h-6zM215 125h6v6h-6zM215 167h6v6h-6zM239 449h6v6h-6zM251 467h6v6h-6z"/><path fill="#ccfc00" d="M215 89h6v6h-6zM221 119h6v6h-6zM203 371h6v6h-6zM233 401h6v6h-6zM245 407h6v6h-6zM233 431h6v6h-6zM233 443h6v6h-6zM233 455h6v6h-6zM317 461h6v6h-6zM305 479h6v6h-6zM275 485h6v6h-6z"/><path fill="#a2fc00" d="M221 89h6v6h-6zM221 95h6v6h-6zM221 101h6v6h-6zM227 125h6v6h-6zM311 419h6v6h-6zM311 479h6v6h-6z"/><path fill="#72fc00" d="M227 89h6v6h-6zM227 107h6v6h-6zM233 131h6v6h-6zM215 365h6v6h-6zM221 431h6v6h-6zM317 479h6v6h-6zM311 491h6v6h-6z"/><path fill="#48fc00" d="M233 89h6v6h-6zM239 155h6v6h-6zM239 179h6v6h-6zM269 401h6v6h-6zM329 437h6v6h-6zM317 497h6v6h-6z"/><path fill="#1efc00" d="M239 89h6v6h-6zM245 167h6v6h-6zM245 173h6v6h-6zM245 179h6v6h-6zM191 203h6v6h-6zM215 359h6v6h-6zM245 389h6v6h-6zM263 395h6v6h-6zM317 407h6v6h-6zM209 449h6v6h-6zM329 467h6v6h-6zM329 491h6v6h-6zM329 497h6v6h-6z"/><path fill="#00fc1e" d="M251 89h6v6h-6zM251 113h6v6h-6zM257 125h6v6h-6zM257 131h6v6h-6zM251 143h6v6h-6zM251 149h6v6h-6zM251 155h6v6h-6zM215 209h6v6h-6zM263 209h6v6h-6zM257 227h6v6h-6zM257 245h6v6h-6zM269 251h6v6h-6zM269 257h6v6h-6zM353 269h6v6h-6zM341 281h6v6h-6zM359 293h6v6h-6zM359 299h6v6h-6zM335 305h6v6h-6zM359 305h6v6h-6zM335 311h6v6h-6zM335 317h6v6h-6zM335 335h6v6h-6zM341 347h6v6h-6zM227 359h6v6h-6zM245 377h6v6h-6zM263 389h6v6h-6zM281 395h6v6h-6zM311 401h6v6h-6zM335 467h6v6h-6zM341 485h6v6h-6z"/><path fill="#00fc36" d="M257 89h6v6h-6zM257 107h6v6h-6zM263 125h6v6h-6zM257 143h6v6h-6zM257 167h6v6h-6zM263 197h6v6h-6zM197 209h12v6h-12zM269 209h6v6h-6zM227 215h6v6h-6zM245 227h6v6h-6zM269 227h6v6h-6zM353 263h6v6h-6zM335 287h6v6h-6zM365 287h6v6h-6zM329 311h6v6h-6zM329 317h6v6h-6zM329 323h6v6h-6zM329 329h6v6h-6zM335 347h6v6h-6zM365 347h6v6h-6zM185 353h6v6h-6zM341 353h6v6h-6zM245 371h6v6h-6zM287 395h6v6h-6zM323 401h6v6h-6zM335 413h6v6h-6z"/><path fill="#00fc48" d="M263 89h6v6h-6zM263 95h6v6h-6zM263 101h6v6h-6zM263 107h6v6h-6zM263 185h6v6h-6zM263 233h6v6h-6zM275 233h6v6h-6zM401 233h6v6h-6zM263 239h6v6h-6zM401 239h6v6h-6zM275 263h6v6h-6zM365 263h6v6h-6zM329 293h6v6h-6zM371 329h6v6h-6zM371 347h6v6h-6zM173 353h6v6h-6zM221 353h6v6h-6zM365 353h6v6h-6zM155 359h6v6h-6zM143 365h6v6h-6z"/><path fill="#fc7e00" d="M185 95h6v6h-6zM203 131h6v6h-6zM203 137h6v6h-6zM203 143h6v6h-6zM167 161h6v6h-6zM305 437h6v6h-6zM245 443h6v6h-6zM305 455h6v6h-6zM263 461h6v6h-6z"/><path fill="#fc9c00" d="M191 95h6v6h-6zM197 107h6v6h-6zM203 161h6v6h-6zM251 425h6v6h-6zM245 437h6v6h-6z"/><path fill="#fcba00" d="M197 95h6v6h-6zM209 383h6v6h-6zM209 389h6v6h-6zM245 431h6v6h-6z"/><path fill="#fcd800" d="M203 95h6v6h-6zM215 161h6v6h-6zM185 179h6v6h-6zM209 179h6v6h-6zM245 419h6v6h-6zM263 419h6v6h-6zM311 437h6v6h-6zM239 443h6v6h-6zM305 467h6v6h-6zM275 473h6v6h-6z"/><path fill="#6cfc00" d="M227 95h6v6h-6zM227 101h6v6h-6zM233 185h6v6h-6zM185 197h36v6h-36zM197 365h6v6h-6zM257 401h6v6h-6zM281 407h6v6h-6zM311 413h6v6h-6z"/><path fill="#3cfc00" d="M233 95h6v6h-6zM233 101h6v6h-6zM233 107h6v6h-6zM239 131h6v6h-6zM239 185h6v6h-6zM233 197h6v6h-6zM251 395h6v6h-6zM209 437h6v6h-6zM215 443h6v6h-6zM323 479h6v6h-6zM317 503h6v6h-6z"/><path fill="#00fc0c" d="M245 95h6v6h-6zM245 107h6v6h-6zM251 173h6v6h-6zM251 179h6v6h-6zM221 209h6v6h-6zM257 209h6v6h-6zM239 215h6v6h-6zM245 251h6v6h-6zM347 275h12v6h-12zM353 293h6v6h-6zM341 305h6v6h-6zM341 341h6v6h-6zM347 347h6v6h-6zM257 389h6v6h-6zM299 401h6v6h-6zM341 497h6v6h-6zM341 503h6v6h-6z"/><path fill="#00fc24" d="M251 95h6v6h-6zM251 107h6v6h-6zM257 119h6v6h-6zM257 197h6v6h-6zM233 215h6v6h-6zM251 227h6v6h-6zM251 245h6v6h-6zM263 245h6v6h-6zM239 257h6v6h-6zM251 269h12v6h-12zM347 269h6v6h-6zM359 269h6v6h-6zM335 299h6v6h-6zM335 341h6v6h-6zM359 347h6v6h-6zM203 353h12v6h-12zM251 383h6v6h-6zM317 401h6v6h-6zM329 407h6v6h-6zM335 449h6v6h-6zM335 455h6v6h-6zM335 461h6v6h-6zM347 497h6v6h-6zM347 503h6v6h-6z"/><path fill="#00fc3c" d="M257 95h6v6h-6zM257 101h6v6h-6zM263 119h6v6h-6zM263 131h6v6h-6zM257 149h6v6h-6zM257 155h6v6h-6zM257 161h6v6h-6zM269 239h6v6h-6zM239 251h6v6h-6zM275 251h6v6h-6zM275 257h6v6h-6zM239 263h6v6h-6zM359 263h6v6h-6zM245 269h6v6h-6zM341 269h6v6h-6zM365 269h6v6h-6zM365 293h6v6h-6zM329 305h6v6h-6zM365 317h6v6h-6zM329 335h6v6h-6zM179 353h6v6h-6zM359 353h6v6h-6zM161 359h6v6h-6zM233 359h6v6h-6zM149 365h6v6h-6zM257 383h6v6h-6zM347 485h6v6h-6z"/><path fill="#fc4200" d="M167 101h6v6h-6zM167 107h6v6h-6zM173 119h6v6h-6zM179 125h6v6h-6zM179 131h12v6h-12zM155 137h36v6h-36zM179 143h6v6h-6zM257 431h6v6h-6zM263 455h6v6h-6z"/><path fill="#fc5400" d="M173 101h6v6h-6zM179 113h6v6h-6zM185 119h6v6h-6zM191 131h6v6h-6zM191 143h6v6h-6zM167 149h12v6h-12zM299 431h6v6h-6zM257 455h6v6h-6zM299 455h6v6h-6z"/><path fill="#fc6000" d="M179 101h6v6h-6zM185 113h6v6h-6zM197 137h6v6h-6zM173 155h18v6h-18zM275 461h6v6h-6zM293 461h6v6h-6z"/><path fill="#fcae00" d="M197 101h6v6h-6zM209 125h6v6h-6zM209 155h6v6h-6zM185 173h6v6h-6zM311 449h6v6h-6zM269 467h6v6h-6zM299 467h6v6h-6z"/><path fill="#fcd200" d="M203 101h6v6h-6zM209 113h6v6h-6zM215 131h6v6h-6zM215 155h6v6h-6zM191 179h6v6h-6zM203 395h6v6h-6zM215 395h6v6h-6zM245 461h6v6h-6z"/><path fill="#00fc5a" d="M269 101h6v6h-6zM269 107h6v6h-6zM269 137h6v6h-6zM263 155h6v6h-6zM269 191h6v6h-6zM401 221h12v6h-12zM395 227h6v6h-6zM407 239h6v6h-6zM239 245h6v6h-6zM281 251h6v6h-6zM281 257h6v6h-6zM341 263h6v6h-6zM275 269h6v6h-6zM371 287h6v6h-6zM323 305h6v6h-6zM323 335h6v6h-6zM377 341h6v6h-6zM371 353h6v6h-6zM239 359h6v6h-6zM341 359h6v6h-6zM353 359h6v6h-6zM251 371h6v6h-6zM257 377h6v6h-6zM335 407h6v6h-6zM341 425h6v6h-6zM341 461h6v6h-6zM353 485h6v6h-6z"/><path fill="#00fcc0" d="M479 101h6v6h-6zM425 107h12v6h-12zM467 107h18v6h-18zM419 113h18v6h-18zM461 113h24v6h-24zM413 119h18v6h-18zM455 119h66v6h-66zM413 125h6v6h-6zM455 125h66v6h-66zM455 131h66v6h-66zM455 137h60v6h-60zM461 143h54v6h-54zM461 149h54v6h-54zM461 155h60v6h-60zM467 161h48v6h-48zM473 167h42v6h-42zM473 173h42v6h-42zM479 179h36v6h-36zM485 203h6v6h-6zM305 209h6v6h-6zM317 209h12v6h-12zM485 209h12v6h-12zM299 215h6v6h-6zM485 215h12v6h-12zM329 221h6v6h-6zM485 221h12v6h-12zM479 227h18v6h-18zM479 233h12v6h-12zM335 239h6v6h-6zM473 239h18v6h-18zM299 245h6v6h-6zM467 245h18v6h-18zM455 251h30v6h-30zM311 257h6v6h-6zM443 257h24v6h-24zM425 263h12v6h-12zM401 275h6v6h-6zM137 281h6v6h-6zM245 287h6v6h-6zM281 293h6v6h-6zM479 293h6v6h-6zM389 299h6v6h-6zM455 299h42v6h-42zM137 305h6v6h-6zM293 305h6v6h-6zM389 305h6v6h-6zM443 305h48v6h-48zM137 311h6v6h-6zM431 311h6v6h-6zM461 311h36v6h-36zM137 317h6v6h-6zM425 317h6v6h-6zM467 317h30v6h-30zM143 323h6v6h-6zM407 323h12v6h-12zM461 323h24v6h-24zM149 329h6v6h-6zM461 329h18v6h-18zM521 329h30v6h-30zM185 335h12v6h-12zM299 335h6v6h-6zM461 335h12v6h-12zM515 335h42v6h-42zM263 341h12v6h-12zM455 341h12v6h-12zM515 341h42v6h-42zM455 347h12v6h-12zM509 347h48v6h-48zM455 353h18v6h-18zM503 353h54v6h-54zM317 359h6v6h-6zM455 359h30v6h-30zM491 359h66v6h-66zM455 365h96v6h-96zM455 371h84v6h-84zM377 377h6v6h-6zM455 377h72v6h-72zM395 383h24v6h-24zM443 383h78v6h-78zM419 389h48v6h-48zM491 389h18v6h-18z"/><path fill="#fc3600" d="M161 107h6v6h-6zM161 113h6v6h-6zM161 119h6v6h-6zM155 125h12v6h-12zM269 431h6v6h-6zM251 443h6v6h-6zM299 449h6v6h-6z"/><path fill="#fc4e00" d="M173 107h6v6h-6zM191 137h6v6h-6zM155 143h12v6h-12zM179 149h12v6h-12z"/><path fill="#fc5a00" d="M179 107h6v6h-6zM191 125h6v6h-6zM161 149h6v6h-6zM191 149h6v6h-6zM251 437h6v6h-6zM281 461h12v6h-12z"/><path fill="#fcea00" d="M209 107h6v6h-6zM215 173h6v6h-6zM197 395h6v6h-6zM215 401h6v6h-6zM281 419h12v6h-12zM239 437h6v6h-6zM239 455h6v6h-6zM269 473h6v6h-6z"/><path fill="#e4fc00" d="M215 107h6v6h-6zM221 125h6v6h-6zM215 185h6v6h-6zM227 395h6v6h-6zM233 407h6v6h-6zM299 419h6v6h-6zM233 425h6v6h-6z"/><path fill="#00fc66" d="M275 107h6v6h-6zM275 113h6v6h-6zM275 119h6v6h-6zM275 125h6v6h-6zM275 131h6v6h-6zM269 179h6v6h-6zM275 197h6v6h-6zM215 215h6v6h-6zM401 215h12v6h-12zM395 221h6v6h-6zM281 233h6v6h-6zM395 245h12v6h-12zM239 269h6v6h-6zM245 275h6v6h-6zM323 293h6v6h-6zM377 329h6v6h-6zM323 341h6v6h-6zM203 347h6v6h-6zM137 359h6v6h-6zM305 395h18v6h-18zM347 473h6v6h-6z"/><path fill="#fc3c00" d="M167 113h6v6h-6zM167 119h6v6h-6zM167 125h12v6h-12zM155 131h24v6h-24zM299 437h6v6h-6zM299 443h6v6h-6zM287 455h12v6h-12z"/><path fill="#fc4800" d="M173 113h6v6h-6zM179 119h6v6h-6zM185 125h6v6h-6zM167 143h12v6h-12zM185 143h6v6h-6zM251 449h6v6h-6z"/><path fill="#7efc00" d="M227 113h6v6h-6zM233 137h6v6h-6zM233 179h6v6h-6zM203 365h12v6h-12zM239 395h6v6h-6zM251 401h6v6h-6zM305 413h6v6h-6zM209 425h6v6h-6z"/><path fill="#42fc00" d="M233 113h6v6h-6zM239 137h6v6h-6zM239 143h6v6h-6zM239 149h6v6h-6zM299 407h6v6h-6zM215 437h6v6h-6z"/><path fill="#18fc00" d="M239 113h6v6h-6zM245 161h6v6h-6zM197 203h18v6h-18zM239 203h6v6h-6zM191 359h6v6h-6zM239 377h6v6h-6zM329 503h6v6h-6z"/><path fill="#00fc30" d="M257 113h6v6h-6zM257 173h6v6h-6zM257 179h6v6h-6zM257 185h6v6h-6zM191 209h6v6h-6zM209 209h6v6h-6zM269 215h6v6h-6zM239 221h6v6h-6zM269 221h6v6h-6zM245 245h6v6h-6zM269 245h6v6h-6zM263 269h6v6h-6zM365 275h6v6h-6zM365 281h6v6h-6zM365 323h6v6h-6zM191 353h6v6h-6zM215 353h6v6h-6zM347 353h12v6h-12zM239 365h6v6h-6zM269 389h6v6h-6zM341 479h6v6h-6zM347 491h6v6h-6z"/><path fill="#00fc42" d="M263 113h6v6h-6zM263 137h6v6h-6zM263 191h6v6h-6zM269 203h6v6h-6zM269 233h6v6h-6zM275 239h6v6h-6zM275 245h6v6h-6zM347 263h6v6h-6zM269 269h6v6h-6zM335 281h6v6h-6zM329 299h6v6h-6zM365 299h6v6h-6zM365 305h6v6h-6zM365 311h6v6h-6zM371 335h6v6h-6zM329 341h6v6h-6zM371 341h6v6h-6zM251 377h6v6h-6zM275 389h6v6h-6zM341 473h6v6h-6zM353 497h6v6h-6z"/><path fill="#00fc54" d="M269 113h6v6h-6zM269 131h6v6h-6zM263 149h6v6h-6zM263 161h6v6h-6zM263 167h6v6h-6zM275 209h6v6h-6zM239 227h6v6h-6zM407 227h6v6h-6zM245 233h6v6h-6zM257 233h6v6h-6zM395 233h6v6h-6zM245 239h6v6h-6zM257 239h6v6h-6zM395 239h6v6h-6zM353 257h12v6h-12zM371 269h6v6h-6zM251 275h6v6h-6zM263 275h6v6h-6zM371 281h6v6h-6zM329 287h6v6h-6zM323 311h6v6h-6zM323 317h6v6h-6zM323 323h6v6h-6zM371 323h6v6h-6zM323 329h6v6h-6zM329 347h6v6h-6zM167 353h6v6h-6zM149 359h6v6h-6zM347 359h6v6h-6zM137 365h6v6h-6zM245 365h6v6h-6zM329 401h6v6h-6zM341 431h6v6h-6zM341 437h6v6h-6z"/><path fill="#fc3000" d="M155 119h6v6h-6zM263 431h6v6h-6zM293 431h6v6h-6zM293 449h6v6h-6zM281 455h6v6h-6z"/><path fill="#fc6600" d="M191 119h6v6h-6zM197 131h6v6h-6zM197 143h6v6h-6zM167 155h6v6h-6zM191 155h6v6h-6zM305 449h6v6h-6z"/><path fill="#fc9600" d="M203 119h6v6h-6zM173 167h6v6h-6zM197 167h6v6h-6zM269 425h6v6h-6zM281 467h6v6h-6zM293 467h6v6h-6z"/><path fill="#fcf600" d="M215 119h6v6h-6zM203 377h6v6h-6zM215 377h6v6h-6z"/><path fill="#24fc00" d="M239 119h6v6h-6zM239 197h6v6h-6zM185 203h6v6h-6zM215 203h6v6h-6zM233 203h6v6h-6zM197 359h6v6h-6zM281 401h6v6h-6zM329 449h6v6h-6zM329 455h6v6h-6zM329 461h6v6h-6z"/><path fill="#00fc4e" d="M269 119h6v6h-6zM269 125h6v6h-6zM263 143h6v6h-6zM263 173h6v6h-6zM263 179h6v6h-6zM269 197h6v6h-6zM221 215h6v6h-6zM275 215h6v6h-6zM233 221h6v6h-6zM275 221h6v6h-6zM275 227h6v6h-6zM401 227h6v6h-6zM251 233h6v6h-6zM407 233h6v6h-6zM251 239h6v6h-6zM257 275h6v6h-6zM335 275h6v6h-6zM371 275h6v6h-6zM335 353h6v6h-6zM263 383h6v6h-6zM293 395h6v6h-6zM341 467h6v6h-6zM347 479h6v6h-6zM353 491h6v6h-6z"/><path fill="#66fc00" d="M233 125h6v6h-6zM221 197h6v6h-6zM227 371h6v6h-6zM323 419h6v6h-6z"/><path fill="#30fc00" d="M239 125h6v6h-6zM239 191h6v6h-6zM221 203h12v6h-12zM233 371h6v6h-6zM239 383h6v6h-6zM311 407h6v6h-6zM329 419h6v6h-6zM323 497h6v6h-6z"/><path fill="#0cfc00" d="M245 125h6v6h-6zM245 143h6v6h-6zM245 149h6v6h-6zM245 191h6v6h-6zM257 251h6v6h-6zM257 257h6v6h-6zM269 395h6v6h-6zM329 413h6v6h-6zM329 479h6v6h-6zM335 491h6v6h-6zM335 497h6v6h-6zM335 503h6v6h-6z"/><path fill="#00fc78" d="M281 125h6v6h-6zM281 131h6v6h-6zM275 143h6v6h-6zM275 185h6v6h-6zM281 203h6v6h-6zM401 203h12v6h-12zM395 209h6v6h-6zM419 209h6v6h-6zM389 215h6v6h-6zM389 221h6v6h-6zM425 221h6v6h-6zM365 251h6v6h-6zM395 251h6v6h-6zM287 257h6v6h-6zM341 257h6v6h-6zM377 257h6v6h-6zM335 263h6v6h-6zM323 281h6v6h-6zM377 287h6v6h-6zM317 299h6v6h-6zM317 305h6v6h-6zM317 335h6v6h-6zM383 335h6v6h-6zM323 347h6v6h-6zM143 353h6v6h-6zM383 353h6v6h-6zM275 383h6v6h-6zM287 389h6v6h-6zM335 401h6v6h-6zM347 467h6v6h-6z"/><path fill="#00fc8a" d="M287 125h6v6h-6zM287 131h6v6h-6zM281 149h6v6h-6zM281 185h6v6h-6zM389 197h6v6h-6zM419 197h6v6h-6zM425 203h6v6h-6zM383 209h6v6h-6zM431 209h6v6h-6zM383 215h6v6h-6zM431 215h6v6h-6zM383 221h6v6h-6zM431 221h6v6h-6zM383 227h6v6h-6zM431 227h6v6h-6zM287 233h6v6h-6zM287 239h6v6h-6zM383 239h6v6h-6zM425 239h6v6h-6zM353 245h12v6h-12zM383 245h6v6h-6zM407 251h6v6h-6zM395 257h6v6h-6zM389 263h6v6h-6zM317 281h6v6h-6zM311 311h6v6h-6zM311 317h6v6h-6zM311 323h6v6h-6zM383 323h6v6h-6zM389 335h6v6h-6zM317 341h6v6h-6zM149 347h12v6h-12zM245 353h6v6h-6zM323 353h6v6h-6zM389 353h6v6h-6zM383 359h6v6h-6zM359 365h6v6h-6zM263 371h6v6h-6z"/><path fill="#00fc96" d="M293 125h6v6h-6zM293 131h6v6h-6zM287 143h6v6h-6zM281 167h6v6h-6zM389 185h30v6h-30zM287 191h6v6h-6zM419 191h6v6h-6zM431 197h6v6h-6zM377 209h6v6h-6zM437 209h6v6h-6zM377 215h6v6h-6zM437 215h6v6h-6zM437 221h6v6h-6zM437 227h6v6h-6zM353 239h6v6h-6zM431 239h6v6h-6zM347 245h6v6h-6zM371 245h12v6h-12zM425 245h6v6h-6zM413 251h6v6h-6zM293 257h6v6h-6zM401 257h6v6h-6zM395 263h6v6h-6zM293 269h6v6h-6zM389 269h6v6h-6zM317 275h6v6h-6zM245 281h6v6h-6zM281 281h6v6h-6zM311 281h6v6h-6zM377 305h6v6h-6zM389 329h6v6h-6zM311 335h6v6h-6zM395 341h6v6h-6zM233 347h6v6h-6zM317 347h6v6h-6zM251 353h6v6h-6zM395 353h6v6h-6zM257 359h6v6h-6zM377 365h6v6h-6zM293 389h6v6h-6zM335 395h6v6h-6zM347 449h6v6h-6zM353 467h6v6h-6z"/><path fill="#f0fc00" d="M221 131h6v6h-6zM221 167h6v6h-6zM185 185h6v6h-6zM227 407h6v6h-6zM257 413h6v6h-6zM317 443h6v6h-6zM311 467h6v6h-6zM251 473h6v6h-6z"/><path fill="#00fca2" d="M299 131h6v6h-6zM293 143h6v6h-6zM293 149h6v6h-6zM287 161h6v6h-6zM287 167h6v6h-6zM287 173h6v6h-6zM389 173h24v6h-24zM383 179h6v6h-6zM413 179h12v6h-12zM425 185h6v6h-6zM293 191h6v6h-6zM431 191h12v6h-12zM293 197h6v6h-6zM437 197h6v6h-6zM293 203h6v6h-6zM443 203h6v6h-6zM365 215h6v6h-6zM347 221h6v6h-6zM359 221h18v6h-18zM359 227h6v6h-6zM377 227h6v6h-6zM443 227h6v6h-6zM347 233h6v6h-6zM359 233h6v6h-6zM443 233h6v6h-6zM365 239h6v6h-6zM377 239h6v6h-6zM437 239h6v6h-6zM233 245h6v6h-6zM431 245h6v6h-6zM329 257h6v6h-6zM299 263h6v6h-6zM323 263h6v6h-6zM401 263h6v6h-6zM299 269h6v6h-6zM317 269h6v6h-6zM395 269h6v6h-6zM299 275h12v6h-12zM293 281h18v6h-18zM305 293h6v6h-6zM383 293h6v6h-6zM305 299h6v6h-6zM305 305h6v6h-6zM305 311h6v6h-6zM305 317h6v6h-6zM305 323h6v6h-6zM389 323h6v6h-6zM395 329h6v6h-6zM401 335h6v6h-6zM137 341h30v6h-30zM209 341h6v6h-6zM311 341h6v6h-6zM239 347h6v6h-6zM407 347h6v6h-6zM257 353h6v6h-6zM407 353h6v6h-6zM323 359h6v6h-6zM401 359h6v6h-6zM395 365h6v6h-6zM269 371h6v6h-6zM347 371h6v6h-6zM317 389h6v6h-6zM341 401h6v6h-6zM347 437h6v6h-6z"/><path fill="#00fcc6" d="M521 131h6v6h-6zM515 137h12v6h-12zM515 143h12v6h-12zM515 149h12v6h-12zM521 155h6v6h-6zM515 161h12v6h-12zM515 167h6v6h-6zM515 173h6v6h-6zM311 209h6v6h-6zM305 215h6v6h-6zM323 215h6v6h-6zM191 221h6v6h-6zM203 221h6v6h-6zM299 221h6v6h-6zM329 227h6v6h-6zM329 245h6v6h-6zM305 251h6v6h-6zM323 251h6v6h-6zM467 257h24v6h-24zM437 263h54v6h-54zM413 269h12v6h-12zM449 269h54v6h-54zM233 275h6v6h-6zM461 275h42v6h-42zM461 281h42v6h-42zM395 287h6v6h-6zM455 287h48v6h-48zM143 293h6v6h-6zM275 293h6v6h-6zM449 293h30v6h-30zM485 293h12v6h-12zM143 299h6v6h-6zM287 299h6v6h-6zM443 299h12v6h-12zM143 305h6v6h-6zM437 305h6v6h-6zM143 311h6v6h-6zM293 311h6v6h-6zM395 311h6v6h-6zM425 311h6v6h-6zM497 311h12v6h-12zM143 317h6v6h-6zM293 317h6v6h-6zM401 317h24v6h-24zM497 317h18v6h-18zM293 323h6v6h-6zM485 323h36v6h-36zM155 329h6v6h-6zM293 329h6v6h-6zM479 329h42v6h-42zM551 329h6v6h-6zM197 335h6v6h-6zM473 335h42v6h-42zM557 335h6v6h-6zM467 341h48v6h-48zM557 341h12v6h-12zM275 347h6v6h-6zM467 347h42v6h-42zM557 347h12v6h-12zM311 353h6v6h-6zM473 353h30v6h-30zM557 353h12v6h-12zM485 359h6v6h-6zM557 359h12v6h-12zM275 365h6v6h-6zM551 365h18v6h-18zM323 371h6v6h-6zM539 371h30v6h-30zM323 377h6v6h-6zM371 377h6v6h-6zM527 377h36v6h-36zM389 383h6v6h-6zM521 383h36v6h-36zM407 389h12v6h-12zM467 389h24v6h-24zM509 389h30v6h-30zM425 395h114v6h-114zM347 401h6v6h-6zM467 401h42v6h-42zM521 401h6v6h-6zM347 407h6v6h-6zM347 413h6v6h-6zM347 419h6v6h-6z"/><path fill="#fccc00" d="M215 137h6v6h-6zM215 143h6v6h-6zM215 149h6v6h-6zM197 179h12v6h-12zM203 383h6v6h-6zM215 383h6v6h-6zM209 395h6v6h-6zM281 473h6v6h-6zM293 473h6v6h-6z"/><path fill="#00fc6c" d="M275 137h6v6h-6zM269 149h6v6h-6zM269 155h6v6h-6zM269 161h6v6h-6zM269 167h6v6h-6zM269 173h6v6h-6zM275 191h6v6h-6zM281 215h6v6h-6zM395 215h6v6h-6zM413 215h6v6h-6zM281 221h6v6h-6zM419 221h6v6h-6zM281 227h6v6h-6zM419 227h6v6h-6zM239 233h6v6h-6zM389 233h6v6h-6zM413 239h6v6h-6zM371 257h6v6h-6zM281 269h6v6h-6zM377 269h6v6h-6zM329 275h6v6h-6zM377 275h6v6h-6zM323 287h6v6h-6zM371 299h6v6h-6zM371 311h6v6h-6zM185 347h18v6h-18zM209 347h6v6h-6zM155 353h6v6h-6zM233 353h6v6h-6zM329 353h6v6h-6zM377 353h6v6h-6zM131 359h6v6h-6zM335 359h6v6h-6zM365 359h6v6h-6zM323 395h6v6h-6zM341 419h6v6h-6zM353 479h6v6h-6z"/><path fill="#00fc7e" d="M281 137h6v6h-6zM275 149h6v6h-6zM275 155h6v6h-6zM275 173h6v6h-6zM275 179h6v6h-6zM281 197h6v6h-6zM395 203h6v6h-6zM413 203h6v6h-6zM389 209h6v6h-6zM191 215h18v6h-18zM425 215h6v6h-6zM233 227h6v6h-6zM425 227h6v6h-6zM419 239h6v6h-6zM287 251h6v6h-6zM347 251h6v6h-6zM389 251h6v6h-6zM401 251h6v6h-6zM383 257h6v6h-6zM287 263h6v6h-6zM383 263h6v6h-6zM329 269h6v6h-6zM383 269h6v6h-6zM281 275h6v6h-6zM257 281h12v6h-12zM317 293h6v6h-6zM383 329h6v6h-6zM167 347h6v6h-6zM221 347h6v6h-6zM131 353h12v6h-12zM239 353h6v6h-6zM377 359h6v6h-6zM341 365h12v6h-12zM329 395h6v6h-6z"/><path fill="#00fc90" d="M287 137h6v6h-6zM281 155h6v6h-6zM281 161h6v6h-6zM281 173h6v6h-6zM281 179h6v6h-6zM389 191h30v6h-30zM287 197h6v6h-6zM425 197h6v6h-6zM287 203h6v6h-6zM431 203h6v6h-6zM287 209h6v6h-6zM287 215h6v6h-6zM221 221h6v6h-6zM287 221h6v6h-6zM287 227h6v6h-6zM383 233h6v6h-6zM431 233h6v6h-6zM365 245h6v6h-6zM419 245h6v6h-6zM233 251h6v6h-6zM341 251h6v6h-6zM335 257h6v6h-6zM233 263h6v6h-6zM293 263h6v6h-6zM329 263h6v6h-6zM323 269h6v6h-6zM239 275h6v6h-6zM287 275h6v6h-6zM275 281h6v6h-6zM383 281h6v6h-6zM311 287h6v6h-6zM311 293h6v6h-6zM311 299h6v6h-6zM377 299h6v6h-6zM311 305h6v6h-6zM377 311h6v6h-6zM311 329h6v6h-6zM131 347h18v6h-18zM227 347h6v6h-6zM395 347h6v6h-6zM389 359h6v6h-6zM365 365h12v6h-12zM281 383h6v6h-6zM341 407h6v6h-6zM347 455h6v6h-6z"/><path fill="#00fc9c" d="M293 137h6v6h-6zM287 149h6v6h-6zM287 155h6v6h-6zM287 179h6v6h-6zM389 179h24v6h-24zM287 185h6v6h-6zM383 185h6v6h-6zM419 185h6v6h-6zM425 191h6v6h-6zM437 203h6v6h-6zM371 209h6v6h-6zM443 209h6v6h-6zM371 215h6v6h-6zM443 215h6v6h-6zM353 221h6v6h-6zM377 221h6v6h-6zM443 221h6v6h-6zM347 227h12v6h-12zM233 233h6v6h-6zM353 233h6v6h-6zM437 233h6v6h-6zM347 239h6v6h-6zM359 239h6v6h-6zM293 251h6v6h-6zM419 251h6v6h-6zM407 257h6v6h-6zM293 275h6v6h-6zM311 275h6v6h-6zM389 275h6v6h-6zM287 281h6v6h-6zM305 287h6v6h-6zM383 287h6v6h-6zM383 317h6v6h-6zM395 335h6v6h-6zM131 341h6v6h-6zM167 341h42v6h-42zM401 341h6v6h-6zM401 347h6v6h-6zM401 353h6v6h-6zM395 359h6v6h-6zM263 365h6v6h-6zM329 365h6v6h-6zM383 365h12v6h-12zM335 371h12v6h-12zM275 377h6v6h-6zM323 389h12v6h-12zM347 443h6v6h-6z"/><path fill="#00fca8" d="M299 137h6v6h-6zM299 143h6v6h-6zM293 155h6v6h-6zM293 161h6v6h-6zM293 167h6v6h-6zM383 167h30v6h-30zM293 173h6v6h-6zM383 173h6v6h-6zM413 173h12v6h-12zM293 179h6v6h-6zM425 179h6v6h-6zM293 185h6v6h-6zM431 185h12v6h-12zM443 191h6v6h-6zM443 197h12v6h-12zM341 203h6v6h-6zM449 203h6v6h-6zM293 209h6v6h-6zM341 209h6v6h-6zM449 209h6v6h-6zM293 215h6v6h-6zM341 215h6v6h-6zM449 215h6v6h-6zM215 221h6v6h-6zM341 221h6v6h-6zM449 221h6v6h-6zM227 227h6v6h-6zM341 227h6v6h-6zM365 227h12v6h-12zM449 227h6v6h-6zM365 233h6v6h-6zM377 233h6v6h-6zM233 239h6v6h-6zM371 239h6v6h-6zM443 239h6v6h-6zM293 245h6v6h-6zM341 245h6v6h-6zM437 245h6v6h-6zM335 251h6v6h-6zM425 251h6v6h-6zM299 257h6v6h-6zM413 257h6v6h-6zM305 269h12v6h-12zM389 281h6v6h-6zM257 287h18v6h-18zM293 287h12v6h-12zM299 293h6v6h-6zM383 311h6v6h-6zM305 329h6v6h-6zM131 335h6v6h-6zM215 341h6v6h-6zM407 341h12v6h-12zM245 347h12v6h-12zM413 347h6v6h-6zM413 353h6v6h-6zM263 359h6v6h-6zM407 359h12v6h-12zM401 365h12v6h-12zM299 389h6v6h-6zM311 389h6v6h-6zM335 389h6v6h-6zM347 431h6v6h-6zM353 461h6v6h-6z"/><path fill="#00fcae" d="M305 137h6v6h-6zM305 143h6v6h-6zM299 149h6v6h-6zM299 155h6v6h-6zM299 161h6v6h-6zM389 161h30v6h-30zM413 167h18v6h-18zM425 173h12v6h-12zM299 179h6v6h-6zM431 179h12v6h-12zM299 185h6v6h-6zM443 185h6v6h-6zM299 191h6v6h-6zM335 191h6v6h-6zM449 191h6v6h-6zM299 197h6v6h-6zM335 197h12v6h-12zM455 197h6v6h-6zM335 203h6v6h-6zM455 203h6v6h-6zM335 209h6v6h-6zM455 209h6v6h-6zM455 215h6v6h-6zM293 221h6v6h-6zM455 221h6v6h-6zM293 227h6v6h-6zM455 227h6v6h-6zM341 233h6v6h-6zM371 233h6v6h-6zM449 233h6v6h-6zM293 239h6v6h-6zM341 239h6v6h-6zM449 239h6v6h-6zM431 251h6v6h-6zM419 257h6v6h-6zM305 263h6v6h-6zM317 263h6v6h-6zM407 263h6v6h-6zM233 269h6v6h-6zM395 275h6v6h-6zM251 287h6v6h-6zM275 287h18v6h-18zM299 299h6v6h-6zM383 299h6v6h-6zM383 305h6v6h-6zM389 317h6v6h-6zM395 323h6v6h-6zM131 329h6v6h-6zM401 329h6v6h-6zM137 335h6v6h-6zM305 335h6v6h-6zM407 335h12v6h-12zM221 341h6v6h-6zM419 341h18v6h-18zM257 347h6v6h-6zM419 347h18v6h-18zM263 353h6v6h-6zM317 353h6v6h-6zM419 353h12v6h-12zM419 359h12v6h-12zM269 365h6v6h-6zM413 365h12v6h-12zM329 371h6v6h-6zM353 371h6v6h-6zM371 371h42v6h-42zM335 377h12v6h-12zM287 383h6v6h-6zM329 383h12v6h-12zM305 389h6v6h-6zM341 395h6v6h-6z"/><path fill="#c6fc00" d="M227 143h6v6h-6zM227 149h6v6h-6zM227 155h6v6h-6zM227 161h6v6h-6zM203 191h6v6h-6zM215 371h6v6h-6zM191 377h6v6h-6zM269 413h6v6h-6zM305 419h6v6h-6zM317 431h6v6h-6zM233 437h6v6h-6zM311 473h6v6h-6zM269 485h6v6h-6z"/><path fill="#00fc60" d="M269 143h6v6h-6zM269 185h6v6h-6zM275 203h6v6h-6zM413 221h6v6h-6zM413 227h6v6h-6zM413 233h6v6h-6zM281 239h6v6h-6zM281 245h6v6h-6zM347 257h6v6h-6zM365 257h6v6h-6zM281 263h6v6h-6zM371 263h6v6h-6zM335 269h6v6h-6zM269 275h6v6h-6zM329 281h6v6h-6zM371 293h6v6h-6zM323 299h6v6h-6zM371 317h6v6h-6zM377 335h6v6h-6zM377 347h6v6h-6zM161 353h6v6h-6zM227 353h6v6h-6zM143 359h6v6h-6zM359 359h6v6h-6zM269 383h6v6h-6zM281 389h6v6h-6zM299 395h6v6h-6zM341 443h6v6h-6zM341 449h6v6h-6zM341 455h6v6h-6z"/><path fill="#00fc84" d="M281 143h6v6h-6zM275 161h6v6h-6zM275 167h6v6h-6zM281 191h6v6h-6zM395 197h24v6h-24zM389 203h6v6h-6zM419 203h6v6h-6zM425 209h6v6h-6zM425 233h6v6h-6zM287 245h6v6h-6zM413 245h6v6h-6zM371 251h18v6h-18zM233 257h6v6h-6zM389 257h6v6h-6zM287 269h6v6h-6zM323 275h6v6h-6zM383 275h6v6h-6zM251 281h6v6h-6zM269 281h6v6h-6zM317 287h6v6h-6zM377 293h6v6h-6zM377 317h6v6h-6zM389 341h6v6h-6zM161 347h6v6h-6zM389 347h6v6h-6zM251 359h6v6h-6zM329 359h6v6h-6zM257 365h6v6h-6zM335 365h6v6h-6zM353 365h6v6h-6zM269 377h6v6h-6zM341 413h6v6h-6zM347 461h6v6h-6zM353 473h6v6h-6z"/><path fill="#00fcb4" d="M305 149h6v6h-6zM401 149h18v6h-18zM305 155h6v6h-6zM389 155h42v6h-42zM305 161h6v6h-6zM419 161h18v6h-18zM299 167h12v6h-12zM431 167h12v6h-12zM299 173h12v6h-12zM437 173h18v6h-18zM305 179h30v6h-30zM443 179h18v6h-18zM305 185h30v6h-30zM455 185h6v6h-6zM305 191h30v6h-30zM461 191h6v6h-6zM305 197h6v6h-6zM317 197h18v6h-18zM461 197h12v6h-12zM299 203h6v6h-6zM329 203h6v6h-6zM461 203h12v6h-12zM461 209h12v6h-12zM335 215h6v6h-6zM461 215h12v6h-12zM335 221h6v6h-6zM461 221h12v6h-12zM461 227h6v6h-6zM293 233h6v6h-6zM455 233h12v6h-12zM455 239h6v6h-6zM443 245h12v6h-12zM299 251h6v6h-6zM437 251h6v6h-6zM323 257h6v6h-6zM425 257h6v6h-6zM311 263h6v6h-6zM413 263h6v6h-6zM401 269h6v6h-6zM239 281h6v6h-6zM389 287h6v6h-6zM293 293h6v6h-6zM131 299h6v6h-6zM131 305h6v6h-6zM299 305h6v6h-6zM131 311h6v6h-6zM299 311h6v6h-6zM131 317h6v6h-6zM299 317h6v6h-6zM437 317h12v6h-12zM131 323h6v6h-6zM431 323h24v6h-24zM137 329h6v6h-6zM407 329h48v6h-48zM143 335h12v6h-12zM419 335h30v6h-30zM227 341h6v6h-6zM437 341h12v6h-12zM263 347h6v6h-6zM311 347h6v6h-6zM437 347h12v6h-12zM431 353h18v6h-18zM269 359h6v6h-6zM431 359h12v6h-12zM323 365h6v6h-6zM425 365h18v6h-18zM359 371h12v6h-12zM413 371h24v6h-24zM329 377h6v6h-6zM407 377h12v6h-12zM353 455h6v6h-6z"/><path fill="#fcb400" d="M209 161h6v6h-6zM203 173h6v6h-6zM299 425h6v6h-6z"/><path fill="#c0fc00" d="M227 167h6v6h-6zM221 185h6v6h-6zM197 191h6v6h-6zM209 191h6v6h-6zM227 383h6v6h-6zM251 407h6v6h-6zM221 419h6v6h-6z"/><path fill="#54fc00" d="M239 167h6v6h-6zM233 191h6v6h-6zM227 197h6v6h-6zM221 365h6v6h-6zM245 395h6v6h-6zM329 425h6v6h-6zM209 431h6v6h-6zM317 491h6v6h-6z"/><path fill="#eafc00" d="M221 173h6v6h-6zM197 377h6v6h-6zM191 383h6v6h-6zM227 401h6v6h-6zM227 413h6v6h-6zM317 455h6v6h-6zM269 479h6v6h-6zM299 479h6v6h-6z"/><path fill="#fcf000" d="M203 185h6v6h-6zM197 383h6v6h-6zM221 389h6v6h-6zM221 395h6v6h-6zM203 401h6v6h-6zM239 419h6v6h-6zM269 419h6v6h-6zM239 425h6v6h-6zM305 425h6v6h-6zM239 431h6v6h-6zM263 473h6v6h-6z"/><path fill="#96fc00" d="M227 185h6v6h-6zM221 191h6v6h-6zM191 371h6v6h-6zM263 407h6v6h-6zM299 413h6v6h-6zM221 425h6v6h-6zM227 431h6v6h-6zM323 431h6v6h-6zM323 437h6v6h-6zM323 443h6v6h-6z"/><path fill="#00fc18" d="M257 203h6v6h-6zM263 215h6v6h-6zM245 221h6v6h-6zM263 221h6v6h-6zM359 275h6v6h-6zM359 281h6v6h-6zM341 287h6v6h-6zM359 287h6v6h-6zM359 311h6v6h-6zM359 317h6v6h-6zM335 323h6v6h-6zM335 329h6v6h-6zM359 341h6v6h-6zM305 401h6v6h-6zM335 443h6v6h-6zM335 473h6v6h-6z"/><path fill="#00fc00" d="M227 209h6v6h-6zM251 209h6v6h-6zM245 215h6v6h-6zM245 257h6v6h-6zM251 263h12v6h-12zM347 305h6v6h-6zM347 311h12v6h-12zM353 317h6v6h-6zM353 323h6v6h-6zM353 329h6v6h-6zM353 335h6v6h-6zM347 341h6v6h-6zM293 401h6v6h-6zM335 485h6v6h-6z"/><path fill="#00fc72" d="M281 209h6v6h-6zM401 209h18v6h-18zM185 215h6v6h-6zM209 215h6v6h-6zM419 215h6v6h-6zM227 221h6v6h-6zM389 227h6v6h-6zM419 233h6v6h-6zM239 239h6v6h-6zM389 239h6v6h-6zM389 245h6v6h-6zM407 245h6v6h-6zM353 251h12v6h-12zM377 263h6v6h-6zM275 275h6v6h-6zM377 281h6v6h-6zM371 305h6v6h-6zM317 311h6v6h-6zM317 317h6v6h-6zM317 323h6v6h-6zM377 323h6v6h-6zM317 329h6v6h-6zM383 341h6v6h-6zM173 347h12v6h-12zM215 347h6v6h-6zM383 347h6v6h-6zM149 353h6v6h-6zM245 359h6v6h-6zM371 359h6v6h-6zM251 365h6v6h-6zM257 371h6v6h-6zM263 377h6v6h-6z"/><path fill="#00fccc" d="M311 215h12v6h-12zM197 221h6v6h-6zM323 221h6v6h-6zM299 227h6v6h-6zM299 233h6v6h-6zM329 233h6v6h-6zM299 239h6v6h-6zM329 239h6v6h-6zM311 251h12v6h-12zM425 269h24v6h-24zM407 275h6v6h-6zM443 275h18v6h-18zM143 281h6v6h-6zM401 281h6v6h-6zM443 281h18v6h-18zM143 287h6v6h-6zM443 287h12v6h-12zM257 293h18v6h-18zM395 293h6v6h-6zM443 293h6v6h-6zM149 299h6v6h-6zM281 299h6v6h-6zM437 299h6v6h-6zM149 305h6v6h-6zM287 305h6v6h-6zM431 305h6v6h-6zM149 311h6v6h-6zM419 311h6v6h-6zM149 317h6v6h-6zM149 323h6v6h-6zM161 329h12v6h-12zM203 335h18v6h-18zM251 335h24v6h-24zM293 335h6v6h-6zM275 341h6v6h-6zM299 341h6v6h-6zM305 347h6v6h-6zM275 353h6v6h-6zM275 359h6v6h-6zM353 377h6v6h-6zM365 377h6v6h-6zM293 383h6v6h-6zM317 383h6v6h-6zM347 383h6v6h-6zM383 383h6v6h-6zM347 389h6v6h-6zM395 389h12v6h-12zM347 395h6v6h-6zM413 395h12v6h-12zM425 401h42v6h-42zM449 407h54v6h-54zM479 413h24v6h-24z"/><path fill="#00fcd2" d="M305 221h18v6h-18zM221 227h6v6h-6zM323 227h6v6h-6zM305 245h6v6h-6zM323 245h6v6h-6zM143 269h6v6h-6zM143 275h6v6h-6zM413 275h30v6h-30zM437 281h6v6h-6zM437 287h6v6h-6zM149 293h6v6h-6zM251 293h6v6h-6zM437 293h6v6h-6zM395 299h6v6h-6zM431 299h6v6h-6zM395 305h6v6h-6zM425 305h6v6h-6zM287 311h6v6h-6zM401 311h18v6h-18zM155 317h6v6h-6zM287 317h6v6h-6zM155 323h6v6h-6zM287 323h6v6h-6zM173 329h6v6h-6zM287 329h6v6h-6zM221 335h30v6h-30zM275 335h18v6h-18zM281 341h6v6h-6zM293 341h6v6h-6zM317 365h6v6h-6zM281 371h6v6h-6zM359 377h6v6h-6zM377 383h6v6h-6zM389 389h6v6h-6zM401 395h12v6h-12zM419 401h6v6h-6zM431 407h18v6h-18zM449 413h30v6h-30zM467 419h24v6h-24z"/><path fill="#00fcea" d="M179 227h6v6h-6zM161 293h6v6h-6zM251 299h6v6h-6zM167 305h6v6h-6zM269 305h6v6h-6zM167 311h6v6h-6zM269 311h6v6h-6zM269 317h6v6h-6zM179 323h6v6h-6zM245 323h18v6h-18zM197 329h12v6h-12zM227 329h6v6h-6zM293 353h12v6h-12zM287 371h6v6h-6zM305 383h6v6h-6zM359 389h12v6h-12zM359 395h6v6h-6zM371 395h12v6h-12zM383 401h12v6h-12zM353 407h6v6h-6zM401 407h6v6h-6zM413 413h6v6h-6zM419 419h12v6h-12zM431 425h6v6h-6zM353 431h6v6h-6zM437 431h12v6h-12z"/><path fill="#00fcfc" d="M185 227h6v6h-6zM227 245h6v6h-6zM227 251h6v6h-6zM227 257h6v6h-6zM155 263h6v6h-6zM227 263h6v6h-6zM155 269h6v6h-6zM227 269h6v6h-6zM161 281h6v6h-6zM167 287h6v6h-6zM233 287h6v6h-6zM173 299h6v6h-6zM239 299h6v6h-6zM173 305h6v6h-6zM245 305h6v6h-6zM179 311h6v6h-6zM239 311h18v6h-18zM185 317h6v6h-6zM233 317h12v6h-12zM191 323h12v6h-12zM221 323h12v6h-12zM299 359h6v6h-6zM293 365h6v6h-6zM305 365h6v6h-6zM293 371h6v6h-6zM311 371h6v6h-6zM299 377h6v6h-6zM359 407h12v6h-12zM371 413h30v6h-30zM353 419h6v6h-6zM395 419h12v6h-12zM353 425h6v6h-6zM407 425h12v6h-12zM413 431h6v6h-6zM359 437h6v6h-6z"/><path fill="#00f0fc" d="M191 227h6v6h-6zM203 227h6v6h-6zM221 233h6v6h-6zM161 275h6v6h-6zM233 293h6v6h-6zM179 299h6v6h-6zM185 311h6v6h-6zM233 311h6v6h-6zM191 317h6v6h-6zM227 317h6v6h-6zM299 371h12v6h-12zM377 419h12v6h-12zM395 425h6v6h-6zM359 431h6v6h-6zM401 431h6v6h-6zM401 437h6v6h-6z"/><path fill="#00eafc" d="M197 227h6v6h-6zM161 251h6v6h-6zM161 269h6v6h-6zM167 281h6v6h-6zM227 281h6v6h-6zM173 287h6v6h-6zM233 299h6v6h-6zM185 305h6v6h-6zM233 305h6v6h-6zM197 317h6v6h-6zM359 419h18v6h-18zM359 425h6v6h-6zM383 425h12v6h-12zM395 431h6v6h-6zM365 437h6v6h-6zM395 437h6v6h-6z"/><path fill="#00f6fc" d="M209 227h6v6h-6zM227 275h6v6h-6zM173 293h6v6h-6zM179 305h6v6h-6zM239 305h6v6h-6zM203 323h18v6h-18zM299 365h6v6h-6zM305 377h6v6h-6zM359 413h12v6h-12zM389 419h6v6h-6zM401 425h6v6h-6zM407 431h6v6h-6zM407 437h6v6h-6z"/><path fill="#00fcf6" d="M215 227h6v6h-6zM155 275h6v6h-6zM161 287h6v6h-6zM167 293h6v6h-6zM245 299h6v6h-6zM251 305h12v6h-12zM173 311h6v6h-6zM257 311h6v6h-6zM179 317h6v6h-6zM245 317h12v6h-12zM233 323h6v6h-6zM293 359h6v6h-6zM311 377h6v6h-6zM365 401h6v6h-6zM371 407h24v6h-24zM353 413h6v6h-6zM401 413h6v6h-6zM407 419h6v6h-6zM419 425h6v6h-6zM425 431h6v6h-6z"/><path fill="#00fcd8" d="M305 227h6v6h-6zM317 227h6v6h-6zM227 233h6v6h-6zM305 233h6v6h-6zM323 233h6v6h-6zM305 239h6v6h-6zM323 239h6v6h-6zM311 245h12v6h-12zM407 281h12v6h-12zM425 281h12v6h-12zM149 287h6v6h-6zM239 287h6v6h-6zM401 287h6v6h-6zM431 287h6v6h-6zM431 293h6v6h-6zM155 299h6v6h-6zM275 299h6v6h-6zM425 299h6v6h-6zM155 305h6v6h-6zM281 305h6v6h-6zM401 305h6v6h-6zM419 305h6v6h-6zM155 311h6v6h-6zM281 311h6v6h-6zM281 317h6v6h-6zM161 323h6v6h-6zM281 323h6v6h-6zM179 329h6v6h-6zM257 329h30v6h-30zM287 341h6v6h-6zM281 347h6v6h-6zM299 347h6v6h-6zM281 353h6v6h-6zM287 377h6v6h-6zM353 383h6v6h-6zM371 383h6v6h-6zM383 389h6v6h-6zM395 395h6v6h-6zM407 401h12v6h-12zM419 407h12v6h-12zM437 413h12v6h-12zM449 419h18v6h-18zM467 425h6v6h-6zM353 437h6v6h-6z"/><path fill="#00fcde" d="M311 227h6v6h-6zM311 233h12v6h-12zM311 239h12v6h-12zM149 281h6v6h-6zM419 281h6v6h-6zM407 287h6v6h-6zM425 287h6v6h-6zM155 293h6v6h-6zM245 293h6v6h-6zM401 293h6v6h-6zM425 293h6v6h-6zM269 299h6v6h-6zM401 299h6v6h-6zM419 299h6v6h-6zM161 305h6v6h-6zM275 305h6v6h-6zM407 305h12v6h-12zM161 311h6v6h-6zM161 317h6v6h-6zM167 323h6v6h-6zM275 323h6v6h-6zM185 329h6v6h-6zM245 329h12v6h-12zM287 347h12v6h-12zM305 353h6v6h-6zM281 359h6v6h-6zM311 359h6v6h-6zM281 365h6v6h-6zM317 371h6v6h-6zM317 377h6v6h-6zM299 383h6v6h-6zM311 383h6v6h-6zM365 383h6v6h-6zM353 389h6v6h-6zM377 389h6v6h-6zM389 395h6v6h-6zM401 401h6v6h-6zM413 407h6v6h-6zM425 413h12v6h-12zM437 419h12v6h-12zM449 425h18v6h-18z"/><path fill="#00defc" d="M179 233h6v6h-6zM167 275h6v6h-6zM227 287h6v6h-6zM185 299h6v6h-6zM203 317h18v6h-18zM365 425h12v6h-12zM371 431h12v6h-12z"/><path fill="#00c6fc" d="M185 233h6v6h-6zM215 233h6v6h-6zM221 239h6v6h-6zM167 251h6v6h-6zM167 263h6v6h-6zM173 275h6v6h-6zM179 281h6v6h-6zM191 293h6v6h-6zM221 305h6v6h-6z"/><path fill="#00b4fc" d="M191 233h6v6h-6zM179 239h6v6h-6zM173 245h6v6h-6zM221 245h6v6h-6zM221 263h6v6h-6zM173 269h6v6h-6zM185 281h6v6h-6zM191 287h6v6h-6zM203 299h6v6h-6z"/><path fill="#00a8fc" d="M197 233h12v6h-12zM173 251h6v6h-6zM221 251h6v6h-6zM221 257h6v6h-6zM173 263h6v6h-6zM215 293h6v6h-6z"/><path fill="#00aefc" d="M209 233h6v6h-6zM179 275h6v6h-6zM197 293h6v6h-6zM209 299h12v6h-12z"/><path fill="#0096fc" d="M185 239h6v6h-6zM179 245h6v6h-6zM203 287h12v6h-12z"/><path fill="#007efc" d="M191 239h6v6h-6zM215 263h6v6h-6z"/><path fill="#006cfc" d="M197 239h6v6h-6zM185 263h6v6h-6zM191 269h6v6h-6zM203 275h6v6h-6z"/><path fill="#0066fc" d="M203 239h6v6h-6zM185 251h6v6h-6zM185 257h6v6h-6zM209 269h6v6h-6z"/><path fill="#0072fc" d="M209 239h6v6h-6zM185 245h6v6h-6zM215 251h6v6h-6zM215 257h6v6h-6zM197 275h6v6h-6z"/><path fill="#0090fc" d="M215 239h6v6h-6zM215 275h6v6h-6z"/><path fill="#00fcf0" d="M227 239h6v6h-6zM155 281h6v6h-6zM239 293h6v6h-6zM167 299h6v6h-6zM263 305h6v6h-6zM263 311h6v6h-6zM173 317h6v6h-6zM257 317h12v6h-12zM185 323h6v6h-6zM239 323h6v6h-6zM209 329h18v6h-18zM287 359h6v6h-6zM305 359h6v6h-6zM287 365h6v6h-6zM311 365h6v6h-6zM293 377h6v6h-6zM365 395h6v6h-6zM359 401h6v6h-6zM371 401h12v6h-12zM395 407h6v6h-6zM407 413h6v6h-6zM413 419h6v6h-6zM425 425h6v6h-6z"/><path fill="#005afc" d="M191 245h6v6h-6zM191 263h6v6h-6zM209 263h6v6h-6zM203 269h6v6h-6z"/><path fill="#0042fc" d="M197 245h12v6h-12zM203 257h6v6h-6z"/><path fill="#0054fc" d="M209 245h6v6h-6zM209 257h6v6h-6z"/><path fill="#0078fc" d="M215 245h6v6h-6zM209 275h6v6h-6z"/><path fill="#0084fc" d="M179 251h6v6h-6zM179 257h6v6h-6zM185 269h6v6h-6zM191 275h6v6h-6zM203 281h12v6h-12z"/><path fill="#0048fc" d="M191 251h6v6h-6z"/><path fill="#0036fc" d="M197 251h6v6h-6z"/><path fill="#003cfc" d="M203 251h6v6h-6zM197 257h6v6h-6z"/><path fill="#004efc" d="M209 251h6v6h-6zM191 257h6v6h-6zM197 263h12v6h-12z"/><path fill="#00e4fc" d="M161 257h6v6h-6zM161 263h6v6h-6zM179 293h6v6h-6zM191 311h6v6h-6zM227 311h6v6h-6zM221 317h6v6h-6zM377 425h6v6h-6zM365 431h6v6h-6zM389 431h6v6h-6zM371 437h6v6h-6z"/><path fill="#00c0fc" d="M167 257h6v6h-6zM221 275h6v6h-6zM221 281h6v6h-6zM197 299h6v6h-6zM221 299h6v6h-6zM203 305h6v6h-6zM215 305h6v6h-6z"/><path fill="#00a2fc" d="M173 257h6v6h-6zM197 287h6v6h-6zM215 287h6v6h-6zM203 293h12v6h-12z"/><path fill="#008afc" d="M179 263h6v6h-6zM215 269h6v6h-6zM197 281h6v6h-6z"/><path fill="#00fce4" d="M149 269h6v6h-6zM149 275h6v6h-6zM233 281h6v6h-6zM155 287h6v6h-6zM413 287h12v6h-12zM407 293h18v6h-18zM161 299h6v6h-6zM257 299h12v6h-12zM407 299h12v6h-12zM275 311h6v6h-6zM167 317h6v6h-6zM275 317h6v6h-6zM173 323h6v6h-6zM263 323h12v6h-12zM191 329h6v6h-6zM233 329h12v6h-12zM287 353h6v6h-6zM359 383h6v6h-6zM371 389h6v6h-6zM353 395h6v6h-6zM383 395h6v6h-6zM353 401h6v6h-6zM395 401h6v6h-6zM407 407h6v6h-6zM419 413h6v6h-6zM431 419h6v6h-6zM437 425h12v6h-12zM449 431h12v6h-12z"/><path fill="#00ccfc" d="M167 269h6v6h-6zM185 287h6v6h-6zM191 299h6v6h-6zM197 305h6v6h-6zM203 311h18v6h-18z"/><path fill="#009cfc" d="M179 269h6v6h-6zM185 275h6v6h-6zM191 281h6v6h-6zM215 281h6v6h-6z"/><path fill="#0060fc" d="M197 269h6v6h-6z"/><path fill="#00bafc" d="M221 269h6v6h-6zM221 287h6v6h-6zM221 293h6v6h-6zM209 305h6v6h-6z"/><path fill="#00d8fc" d="M173 281h6v6h-6zM179 287h6v6h-6zM185 293h6v6h-6zM227 293h6v6h-6zM191 305h6v6h-6zM227 305h6v6h-6zM197 311h6v6h-6zM221 311h6v6h-6z"/><path fill="#00d2fc" d="M227 299h6v6h-6z"/><path fill="#9cfc00" d="M221 371h6v6h-6zM227 377h6v6h-6z"/><path fill="#60fc00" d="M287 407h6v6h-6zM215 431h6v6h-6zM323 467h6v6h-6zM317 485h6v6h-6zM311 497h6v6h-6z"/><path fill="#fc2a00" d="M275 431h6v6h-6zM293 443h6v6h-6zM257 449h6v6h-6zM269 455h12v6h-12z"/><path fill="#fc1800" d="M281 431h6v6h-6zM293 437h6v6h-6z"/><path fill="#fc1e00" d="M287 431h6v6h-6zM257 437h6v6h-6z"/><path fill="#fc0600" d="M263 437h12v6h-12zM287 437h6v6h-6zM263 443h6v6h-6zM275 449h6v6h-6z"/><path fill="#fc0000" d="M275 437h12v6h-12zM269 443h18v6h-18z"/><path fill="#fc1200" d="M257 443h6v6h-6z"/><path fill="#fc0c00" d="M287 443h6v6h-6zM269 449h6v6h-6zM281 449h6v6h-6z"/><path fill="#fc2400" d="M263 449h6v6h-6zM287 449h6v6h-6z"/></g></g>
<path d="M559 508.5L563 502L569 496L575 491L580 487L583 484.5L586.5 484V508.5Z" fill="#aec4e4"/>
<path d="M551.3 71.3L555.4 78.1M555.4 75.9L561.8 70.9" stroke="#b4bccb" stroke-width="1.3" fill="none"/>
<path d="M475.7 492.3L473.7 496.2L476.2 500.7L483.3 501.3L488.9 503.5L492.5 506.9" stroke="#d6d9d5" stroke-width="1.2" fill="none"/>
<path d="M209.8 70.0 L213.3 68.8 L217.0 69.1 L217.6 72.2 L216.7 75.4 L217.2 78.6 L217.4 81.8 L218.5 85.3 L218.2 89.0 L218.5 92.6 L218.8 96.3 L219.7 99.9 L218.9 103.5 L220.2 107.1 L219.8 110.8 L222.2 114.3 L224.3 118.0 L226.1 121.1 L228.0 124.0 L229.7 127.1 L230.0 123.8 L230.5 120.5 L231.0 117.2 L229.9 113.8 L230.8 110.5 L230.6 107.1 L232.7 104.9 L234.0 102.1 L236.1 99.9 L237.6 96.2 L240.6 93.5 L244.2 89.9 L246.4 93.2 L249.7 95.4 L252.4 97.8 L254.8 100.6 L256.9 103.5 L258.1 106.9 L260.4 109.6 L262.4 112.6 L264.2 115.3 L266.0 118.0 L263.8 120.5 L262.4 123.5 L264.1 126.4 L264.2 129.8 L265.7 133.2 L267.8 136.2 L269.6 141.6 L272.1 145.1 L274.2 148.8 L275.9 145.7 L278.7 143.4 L282.4 142.8 L285.9 141.6 L289.1 140.4 L291.4 138.0 L293.2 140.5 L293.9 143.5 L295.8 146.0 L296.8 148.8 L298.3 152.2 L300.1 155.4 L302.7 158.1 L304.1 161.5 L304.9 164.5 L306.5 167.1 L307.9 169.8 L309.5 172.4 L310.4 175.4 L312.3 177.8 L313.2 180.8 L315.0 183.3 L316.8 186.7 L320.3 188.9 L322.2 192.4 L323.5 195.2 L326.0 197.1 L327.6 199.6 L326.0 197.7 L330.0 201.7 L329.5 205.7 L329.0 209.6 L331.2 212.0 L332.0 215.1 L334.0 217.6 L335.6 220.8 L336.0 224.5 L337.9 227.6 L340.9 230.0 L343.2 233.0 L345.9 235.6 L348.9 239.6 L352.6 239.0 L356.3 239.1 L359.9 238.6 L362.2 235.8 L364.8 233.5 L367.9 231.6 L370.8 230.3 L373.4 228.6 L375.8 226.6 L379.9 225.2 L383.8 223.6 L384.6 226.9 L386.8 229.6 L390.0 227.1 L393.8 225.6 L398.1 224.2 L401.8 221.6 L403.3 218.3 L405.8 215.6 L406.1 212.5 L405.0 209.6 L404.5 206.6 L403.8 203.7 L403.8 200.5 L402.8 197.5 L402.0 194.6 L400.8 191.7 L399.5 188.8 L399.5 185.7 L398.5 182.8 L398.8 179.7 L398.6 176.3 L398.9 173.0 L399.8 169.7 L403.1 168.3 L405.8 165.8 L408.0 163.2 L410.9 161.5 L413.7 159.8 L416.7 156.8 L419.7 153.8 L422.3 150.8 L424.4 147.6 L425.7 143.8 L428.0 140.0 L429.7 135.8 L427.3 133.1 L425.7 129.9 L428.8 126.9 L431.7 123.9 L435.1 122.9 L438.0 120.5 L441.7 119.9 L442.7 117.0 L442.9 113.8 L444.1 111.0 L444.7 107.9 L444.5 103.9 L443.7 99.9 L446.6 100.5 L449.6 100.5 L452.6 100.8 L455.6 100.9 L458.8 100.4 L462.0 100.9 L465.2 100.3 L468.4 100.9 L471.6 100.9 L469.5 103.2 L467.2 105.3 L465.6 107.9 L466.4 111.2 L467.8 114.4 L467.6 117.9 L470.6 119.9 L473.6 121.9 L473.1 125.5 L471.6 128.9 L469.6 132.9 L471.8 135.4 L474.7 137.2 L477.2 139.4 L479.6 141.8 L482.7 141.8 L485.5 140.1 L488.5 139.3 L491.5 138.8 L494.0 136.6 L496.8 134.8 L499.5 132.9 L502.4 131.7 L505.5 132.0 L508.5 131.5 L509.8 135.0 L512.5 137.8 L513.3 141.9 L514.5 145.8 L513.5 148.7 L512.7 151.7 L512.4 154.7 L512.5 157.8 L511.0 161.0 L509.9 164.3 L509.5 167.8 L506.1 167.5 L502.9 168.9 L499.5 168.8 L495.5 170.3 L491.5 171.7 L488.5 171.8 L485.5 171.7 L482.6 170.9 L479.6 170.7 L476.1 169.4 L473.0 167.2 L469.6 165.8 L467.0 167.6 L465.0 170.3 L462.2 171.8 L459.6 173.7 L456.5 170.9 L453.6 167.8 L449.6 166.8 L447.3 169.5 L446.3 173.2 L443.7 175.7 L441.4 178.2 L438.3 179.7 L435.7 181.7 L434.8 184.8 L433.7 187.7 L435.4 190.9 L437.7 193.7 L438.5 197.1 L439.2 200.6 L438.4 204.3 L439.7 207.6 L442.6 209.3 L445.4 211.1 L447.6 213.6 L450.5 212.0 L453.5 210.9 L456.4 209.4 L459.6 208.6 L462.6 208.0 L465.8 207.9 L468.4 205.7 L471.6 205.6 L474.3 208.2 L476.7 211.2 L479.6 213.6 L480.9 217.9 L483.5 221.6 L480.8 223.7 L480.1 227.3 L477.6 229.6 L476.5 233.1 L474.9 236.4 L475.3 240.3 L473.6 243.5 L472.9 246.5 L473.2 249.6 L471.6 252.4 L471.6 255.5 L469.6 259.5 L470.9 262.6 L473.5 264.9 L475.6 267.5 L478.2 269.4 L480.2 272.0 L481.7 274.9 L483.5 277.4 L485.8 279.9 L489.1 281.1 L491.5 283.4 L487.0 287.3 L485.3 289.8 L484.3 292.7 L483.1 295.5 L481.5 298.1 L480.1 301.1 L477.9 303.6 L476.7 306.8 L476.4 310.3 L475.2 313.5 L477.2 317.5 L478.8 321.7 L480.2 325.0 L482.5 327.7 L484.3 330.8 L486.1 327.8 L487.0 324.4 L490.0 324.8 L493.1 324.4 L496.0 325.3 L499.7 325.7 L503.3 326.2 L505.5 329.8 L508.7 332.6 L509.2 335.6 L509.1 338.8 L510.6 341.7 L514.5 342.2 L517.8 344.4 L523.2 346.2 L526.9 341.7 L530.5 345.3 L533.5 344.7 L536.6 345.2 L539.6 344.4 L542.4 343.3 L545.0 341.7 L550.4 343.5 L552.2 347.1 L554.1 350.7 L555.2 353.6 L556.8 356.2 L555.2 359.6 L555.0 363.4 L554.0 366.4 L553.7 369.4 L553.2 372.5 L549.9 373.7 L546.8 375.2 L543.3 374.0 L539.6 373.4 L537.4 375.7 L534.5 377.4 L532.3 379.7 L530.3 382.1 L528.3 384.4 L526.9 387.2 L525.1 389.7 L521.4 385.2 L517.4 384.1 L514.2 381.5 L510.5 383.8 L506.9 386.1 L503.7 386.7 L500.8 388.3 L497.9 389.7 L494.5 392.2 L491.5 395.1 L492.2 399.2 L492.4 403.3 L489.9 406.2 L487.0 408.7 L484.0 408.3 L480.9 409.5 L477.9 408.7 L474.6 410.0 L471.5 411.8 L468.8 414.2 L466.7 410.9 L463.4 408.7 L459.9 410.3 L456.2 410.6 L455.7 413.7 L453.3 416.1 L453.1 419.3 L452.2 422.3 L450.7 425.1 L448.2 423.4 L446.1 421.2 L443.5 419.6 L440.8 417.8 L438.9 415.1 L436.9 412.6 L434.4 410.6 L432.2 413.4 L431.5 417.0 L429.0 419.6 L427.1 417.0 L424.3 415.2 L422.1 412.9 L419.9 410.6 L418.0 413.2 L416.6 416.2 L413.9 418.3 L412.6 421.4 L409.8 425.0 L406.3 427.8 L405.4 427.6 L402.5 424.6 L399.4 421.7 L395.9 420.9 L392.8 418.8 L389.4 417.7 L387.0 415.8 L384.2 414.6 L380.9 414.5 L378.5 412.7 L376.3 416.1 L374.5 419.7 L372.2 422.7 L371.6 426.6 L369.5 429.6 L365.5 428.8 L361.5 427.6 L357.4 428.3 L353.5 429.6 L349.7 427.7 L345.6 426.6 L342.6 429.2 L339.6 431.6 L337.4 434.5 L335.6 437.6 L336.0 441.0 L337.2 444.2 L337.6 447.6 L338.7 451.0 L340.1 454.3 L341.6 457.6 L342.0 460.6 L343.1 463.5 L344.1 466.5 L344.6 469.5 L345.0 472.8 L344.5 476.2 L345.6 479.5 L346.8 483.1 L347.5 486.7 L347.6 490.5 L343.6 494.5 L340.2 495.0 L337.0 493.2 L333.6 493.5 L330.7 492.3 L327.6 493.4 L324.6 493.1 L321.6 492.5 L319.2 489.2 L317.6 485.5 L316.8 482.1 L315.6 478.8 L314.7 475.5 L314.2 471.7 L312.2 468.3 L311.7 464.5 L308.4 465.4 L305.7 467.5 L303.4 469.6 L300.7 471.1 L298.7 473.5 L295.7 474.3 L292.9 475.3 L290.5 477.3 L287.7 478.5 L284.5 477.3 L281.1 476.4 L277.8 475.5 L273.8 476.1 L269.8 475.5 L265.8 471.5 L263.8 468.9 L262.4 465.7 L259.8 463.5 L260.0 460.4 L258.0 457.7 L258.6 454.5 L257.8 451.6 L253.8 448.6 L250.8 448.4 L247.7 448.2 L244.7 447.7 L241.9 446.6 L238.9 445.8 L235.9 445.3 L232.9 445.8 L229.9 445.6 L226.9 445.1 L223.9 444.2 L220.9 443.6 L222.0 439.7 L221.9 435.6 L224.3 431.8 L225.9 427.6 L225.8 424.2 L226.7 420.9 L227.9 417.7 L229.2 414.5 L229.2 411.0 L229.9 407.7 L234.0 406.0 L237.9 403.7 L237.4 399.6 L235.9 395.7 L232.9 394.7 L230.0 393.8 L226.9 393.4 L223.9 392.7 L220.3 392.7 L216.8 392.3 L213.6 390.4 L209.9 390.7 L207.0 385.8 L205.7 382.5 L206.6 379.1 L206.0 375.8 L206.1 371.7 L205.0 367.8 L203.0 364.0 L202.0 359.8 L199.0 358.5 L197.0 355.8 L196.3 351.9 L196.0 347.9 L198.8 345.1 L202.0 342.9 L206.0 340.9 L201.9 341.4 L197.8 341.8 L194.7 341.9 L191.7 341.0 L188.6 341.8 L184.8 342.8 L180.9 342.5 L176.9 342.1 L173.2 343.3 L169.5 345.2 L165.5 345.6 L161.2 346.8 L157.7 349.5 L154.0 352.0 L150.0 354.1 L145.4 355.6 L143.8 353.1 L141.6 351.0 L142.8 348.1 L145.4 346.4 L147.7 344.0 L150.0 341.8 L151.1 338.0 L151.6 334.1 L148.5 331.0 L148.5 326.4 L145.1 325.7 L141.6 325.6 L142.4 322.3 L141.5 318.9 L142.3 315.6 L141.8 312.1 L141.6 308.6 L144.4 307.3 L147.0 305.5 L149.7 303.6 L153.1 303.2 L152.1 299.9 L150.0 297.1 L150.3 294.0 L150.8 290.9 L151.9 287.6 L153.9 284.7 L157.0 280.9 L160.8 282.4 L162.8 280.1 L165.5 278.6 L168.0 276.0 L170.1 273.2 L170.8 267.8 L172.4 263.2 L176.2 264.7 L179.1 263.1 L182.4 263.2 L183.5 259.9 L185.5 257.0 L188.6 252.4 L193.2 250.1 L196.3 250.8 L196.3 246.2 L194.4 243.3 L193.2 240.0 L193.2 235.4 L197.8 232.3 L197.4 229.2 L197.8 226.2 L198.9 223.2 L199.8 220.1 L200.0 216.9 L201.0 213.8 L200.7 210.5 L200.9 207.3 L199.9 204.2 L199.7 201.0 L199.8 197.8 L198.9 194.2 L198.9 190.6 L199.3 186.9 L198.9 183.3 L199.1 179.6 L198.1 176.1 L197.9 172.4 L198.0 168.8 L198.2 165.1 L198.2 161.5 L197.1 157.9 L191.7 156.1 L187.8 155.9 L184.4 154.3 L182.1 156.7 L179.0 157.9 L177.9 154.1 L175.9 150.7 L174.4 147.0 L172.5 143.5 L170.8 139.8 L170.6 136.1 L169.9 132.5 L170.8 129.0 L170.8 125.3 L171.4 121.4 L173.5 118.0 L175.3 114.4 L179.0 117.1 L179.4 121.0 L180.6 124.6 L182.6 128.0 L188.0 126.2 L191.6 124.7 L195.3 123.5 L196.6 120.7 L198.0 118.0 L196.7 115.1 L196.3 111.9 L195.3 109.0 L193.9 105.5 L193.5 101.7 L192.6 98.1 L195.3 96.3 L195.8 92.8 L194.8 89.5 L195.2 86.0 L194.4 82.7 L198.4 82.1 L202.5 82.7 L204.3 87.2 L208.0 85.4 L210.0 82.0 L210.7 78.1 L209.6 74.1Z" fill="none" stroke="#000" stroke-width="2.3" stroke-linejoin="round"/>
<rect x="168.3" y="67.8" width="100.4" height="200.3" fill="none" stroke="#ee1111" stroke-width="1.8"/>
<rect x="206" y="367.9" width="199.8" height="129.2" fill="none" stroke="#ee1111" stroke-width="1.8"/>
<text x="228" y="86.6" font-size="23.5" fill="#f00">NW</text>
<text x="210.3" y="491.8" font-size="23.5" fill="#f00">S</text>
<text x="110.1" y="80.6" font-size="38">(c)</text>
</g>
<g transform="translate(667.9,533.2)">
<rect x="94.0" y="37.5" width="504.0" height="481.5" fill="#fff" stroke="#3a3a3a" stroke-width="1.2"/>
<rect x="236.9" y="37.5" width="218.4" height="11.5" fill="#000"/>
<rect x="236.9" y="508.5" width="218.4" height="10.5" fill="#000"/>
<rect x="94.0" y="49.0" width="11.9" height="25.2" fill="#000"/>
<rect x="94.0" y="319.5" width="11.9" height="189.0" fill="#000"/>
<rect x="586.4" y="49.0" width="11.6" height="25.2" fill="#000"/>
<rect x="586.4" y="319.5" width="11.6" height="189.0" fill="#000"/>
<path d="M105.9 37.5V519.0M586.4 37.5V519.0M94.0 49.0H598.0M94.0 508.5H598.0" stroke="#3a3a3a" stroke-width="1.1" fill="none"/>
<rect x="105.9" y="49.0" width="480.5" height="459.5" fill="#f5f2ef" stroke="#555" stroke-width="1"/>
</g>
<g transform="translate(667.9,533.2)">
<defs><filter id="bld" x="-10%" y="-10%" width="120%" height="120%"><feGaussianBlur stdDeviation="3"/></filter></defs><g clip-path="url(#clipY)"><g filter="url(#bld)" shape-rendering="crispEdges"><path fill="#8484fc" d="M197 59h6v6h-6zM209 65h24v6h-24zM191 143h12v6h-12zM167 149h6v6h-6zM251 227h6v6h-6zM239 239h6v6h-6zM173 251h6v6h-6zM197 257h6v6h-6zM263 383h6v6h-6zM323 443h6v6h-6z"/><path fill="#7e7efc" d="M203 59h6v6h-6zM185 143h6v6h-6zM245 155h6v6h-6zM245 233h6v6h-6zM179 251h6v6h-6zM221 251h6v6h-6zM203 257h12v6h-12zM227 353h6v6h-6zM245 365h6v6h-6zM281 401h6v6h-6zM293 407h6v6h-6zM317 425h6v6h-6zM329 461h6v6h-6zM353 479h6v6h-6z"/><path fill="#7878fc" d="M209 59h18v6h-18zM251 167h6v6h-6zM185 251h6v6h-6zM191 359h6v6h-6zM305 413h6v6h-6z"/><path fill="#8a8afc" d="M197 65h12v6h-12zM179 143h6v6h-6zM215 143h12v6h-12zM215 257h6v6h-6zM197 353h6v6h-6zM185 359h6v6h-6zM341 473h6v6h-6z"/><path fill="#a8a8fc" d="M185 71h6v6h-6zM233 77h6v6h-6zM203 83h6v6h-6zM215 83h6v6h-6zM257 227h6v6h-6zM227 251h6v6h-6zM167 257h6v6h-6zM191 263h6v6h-6zM203 269h12v6h-12zM203 347h6v6h-6zM221 347h6v6h-6zM185 353h6v6h-6zM305 407h6v6h-6z"/><path fill="#9c9cfc" d="M191 71h6v6h-6zM203 77h24v6h-24zM257 173h6v6h-6zM257 197h6v6h-6zM257 203h6v6h-6zM257 209h6v6h-6zM257 215h6v6h-6zM251 233h6v6h-6zM179 257h6v6h-6zM197 263h6v6h-6zM215 347h6v6h-6zM251 365h6v6h-6zM263 377h6v6h-6z"/><path fill="#9696fc" d="M197 71h6v6h-6zM209 143h6v6h-6zM227 143h6v6h-6zM161 149h6v6h-6zM257 179h6v6h-6zM257 185h6v6h-6zM257 191h6v6h-6zM233 245h6v6h-6zM161 251h6v6h-6zM185 257h6v6h-6zM191 353h6v6h-6zM287 401h6v6h-6zM299 407h6v6h-6zM317 419h6v6h-6z"/><path fill="#9090fc" d="M203 71h30v6h-30zM203 143h6v6h-6zM239 149h6v6h-6zM251 161h6v6h-6zM167 251h6v6h-6zM191 257h6v6h-6zM203 263h12v6h-12zM239 359h6v6h-6zM257 371h6v6h-6zM269 389h6v6h-6zM275 395h6v6h-6zM311 413h6v6h-6z"/><path fill="#c0c0fc" d="M179 77h6v6h-6zM191 83h6v6h-6zM233 83h6v6h-6zM215 89h6v6h-6zM257 233h6v6h-6zM245 245h6v6h-6zM233 251h6v6h-6zM227 257h6v6h-6zM155 263h12v6h-12zM185 269h6v6h-6zM203 275h12v6h-12zM191 347h6v6h-6zM173 353h6v6h-6zM239 353h6v6h-6zM155 359h6v6h-6zM137 365h6v6h-6zM287 395h6v6h-6zM323 431h6v6h-6zM329 449h6v6h-6z"/><path fill="#babafc" d="M185 77h6v6h-6zM251 77h6v6h-6zM227 83h6v6h-6zM209 89h6v6h-6zM179 137h6v6h-6zM155 143h6v6h-6zM251 239h6v6h-6zM167 263h12v6h-12zM221 263h6v6h-6zM191 269h6v6h-6zM227 347h6v6h-6zM161 359h6v6h-6zM143 365h6v6h-6zM257 365h6v6h-6zM263 371h6v6h-6zM299 401h6v6h-6z"/><path fill="#aeaefc" d="M191 77h6v6h-6zM239 77h6v6h-6zM167 143h6v6h-6zM233 143h6v6h-6zM245 149h6v6h-6zM251 155h6v6h-6zM257 167h6v6h-6zM239 245h6v6h-6zM161 257h6v6h-6zM185 263h6v6h-6zM197 269h6v6h-6zM245 359h6v6h-6zM269 383h6v6h-6zM281 395h6v6h-6zM293 401h6v6h-6z"/><path fill="#a2a2fc" d="M197 77h6v6h-6zM227 77h6v6h-6zM209 83h6v6h-6zM173 143h6v6h-6zM257 221h6v6h-6zM245 239h6v6h-6zM173 257h6v6h-6zM221 257h6v6h-6zM215 263h6v6h-6zM209 347h6v6h-6zM233 353h6v6h-6zM329 455h6v6h-6zM335 467h6v6h-6zM347 473h6v6h-6z"/><path fill="#b4b4fc" d="M245 77h6v6h-6zM197 83h6v6h-6zM221 83h6v6h-6zM161 143h6v6h-6zM179 263h6v6h-6zM215 269h6v6h-6zM197 347h6v6h-6zM179 353h6v6h-6zM149 365h6v6h-6zM275 389h6v6h-6zM311 407h6v6h-6zM317 413h6v6h-6zM323 437h6v6h-6zM353 473h6v6h-6z"/><path fill="#d8d8fc" d="M179 83h6v6h-6zM197 89h6v6h-6zM155 137h6v6h-6zM221 137h6v6h-6zM263 167h6v6h-6zM263 191h6v6h-6zM263 203h6v6h-6zM233 257h6v6h-6zM173 275h12v6h-12zM221 275h6v6h-6zM197 281h18v6h-18zM173 347h6v6h-6zM149 353h6v6h-6zM245 353h6v6h-6zM131 359h6v6h-6zM263 365h6v6h-6zM275 383h6v6h-6z"/><path fill="#ccccfc" d="M185 83h6v6h-6zM245 83h18v6h-18zM167 137h12v6h-12zM239 143h6v6h-6zM251 149h6v6h-6zM263 173h6v6h-6zM263 185h6v6h-6zM263 227h6v6h-6zM161 269h18v6h-18zM191 275h6v6h-6zM215 275h6v6h-6zM185 347h6v6h-6zM161 353h6v6h-6zM143 359h6v6h-6zM317 407h6v6h-6zM335 461h6v6h-6zM341 467h6v6h-6z"/><path fill="#c6c6fc" d="M239 83h6v6h-6zM203 89h6v6h-6zM185 137h6v6h-6zM257 161h6v6h-6zM263 179h6v6h-6zM263 215h6v6h-6zM263 221h6v6h-6zM179 269h6v6h-6zM221 269h6v6h-6zM197 275h6v6h-6zM167 353h6v6h-6zM149 359h6v6h-6zM251 359h6v6h-6zM269 377h6v6h-6zM305 401h6v6h-6zM323 425h6v6h-6z"/><path fill="#eaeafc" d="M437 83h12v6h-12zM185 89h6v6h-6zM209 95h6v6h-6zM155 131h30v6h-30zM191 137h6v6h-6zM215 137h6v6h-6zM251 143h6v6h-6zM269 173h6v6h-6zM269 185h6v6h-6zM311 203h12v6h-12zM311 209h18v6h-18zM269 215h6v6h-6zM311 215h18v6h-18zM395 221h12v6h-12zM269 227h6v6h-6zM383 227h36v6h-36zM383 233h6v6h-6zM413 233h12v6h-12zM263 239h6v6h-6zM383 239h6v6h-6zM419 239h12v6h-12zM383 245h6v6h-6zM419 245h12v6h-12zM251 251h6v6h-6zM383 251h6v6h-6zM419 251h12v6h-12zM383 257h12v6h-12zM413 257h12v6h-12zM389 263h30v6h-30zM233 269h6v6h-6zM137 281h18v6h-18zM161 281h18v6h-18zM221 281h6v6h-6zM185 341h6v6h-6zM215 341h6v6h-6zM137 347h18v6h-18zM239 347h6v6h-6zM251 353h6v6h-6zM311 395h12v6h-12zM533 395h6v6h-6zM323 401h6v6h-6zM521 401h6v6h-6zM491 413h12v6h-12zM479 419h12v6h-12zM467 425h6v6h-6zM455 431h6v6h-6zM335 455h6v6h-6z"/><path fill="#f0f0fc" d="M179 89h6v6h-6zM431 89h30v6h-30zM263 95h6v6h-6zM431 95h12v6h-12zM197 137h6v6h-6zM233 137h6v6h-6zM257 149h6v6h-6zM263 161h6v6h-6zM305 191h24v6h-24zM299 197h30v6h-30zM299 203h12v6h-12zM323 203h12v6h-12zM269 209h6v6h-6zM299 209h12v6h-12zM329 209h6v6h-6zM305 215h6v6h-6zM329 215h6v6h-6zM389 215h24v6h-24zM305 221h24v6h-24zM377 221h18v6h-18zM407 221h18v6h-18zM377 227h6v6h-6zM419 227h12v6h-12zM269 233h6v6h-6zM371 233h12v6h-12zM425 233h12v6h-12zM371 239h12v6h-12zM431 239h6v6h-6zM377 245h6v6h-6zM431 245h12v6h-12zM377 251h6v6h-6zM431 251h12v6h-12zM245 257h6v6h-6zM377 257h6v6h-6zM425 257h12v6h-12zM239 263h6v6h-6zM377 263h12v6h-12zM419 263h18v6h-18zM383 269h48v6h-48zM233 275h6v6h-6zM389 275h30v6h-30zM227 281h6v6h-6zM137 287h36v6h-36zM185 287h30v6h-30zM173 341h12v6h-12zM221 341h6v6h-6zM131 347h6v6h-6zM359 353h6v6h-6zM263 359h6v6h-6zM353 359h18v6h-18zM269 365h6v6h-6zM353 365h18v6h-18zM359 371h12v6h-12zM563 371h6v6h-6zM275 377h6v6h-6zM551 377h12v6h-12zM539 383h18v6h-18zM527 389h12v6h-12zM323 395h6v6h-6zM509 395h24v6h-24zM497 401h12v6h-12zM491 407h12v6h-12zM479 413h12v6h-12zM467 419h12v6h-12zM455 425h12v6h-12zM449 431h6v6h-6zM353 467h6v6h-6z"/><path fill="#e4e4fc" d="M191 89h6v6h-6zM233 89h24v6h-24zM269 179h6v6h-6zM269 221h6v6h-6zM389 233h24v6h-24zM389 239h30v6h-30zM257 245h6v6h-6zM389 245h6v6h-6zM407 245h12v6h-12zM389 251h30v6h-30zM239 257h6v6h-6zM395 257h18v6h-18zM233 263h6v6h-6zM227 275h6v6h-6zM155 281h6v6h-6zM179 281h12v6h-12zM191 341h12v6h-12zM209 341h6v6h-6zM155 347h12v6h-12zM131 353h6v6h-6zM287 389h6v6h-6zM305 395h6v6h-6zM323 407h6v6h-6zM329 443h6v6h-6z"/><path fill="#d2d2fc" d="M221 89h6v6h-6zM161 137h6v6h-6zM263 209h6v6h-6zM257 239h6v6h-6zM251 245h6v6h-6zM239 251h6v6h-6zM227 263h6v6h-6zM143 269h18v6h-18zM185 275h6v6h-6zM179 347h6v6h-6zM233 347h6v6h-6zM155 353h6v6h-6zM137 359h6v6h-6zM281 389h6v6h-6zM293 395h6v6h-6zM311 401h6v6h-6zM323 419h6v6h-6z"/><path fill="#dedefc" d="M227 89h6v6h-6zM257 89h12v6h-12zM227 137h6v6h-6zM245 143h6v6h-6zM257 155h6v6h-6zM263 197h6v6h-6zM263 233h6v6h-6zM395 245h12v6h-12zM245 251h6v6h-6zM227 269h6v6h-6zM143 275h30v6h-30zM191 281h6v6h-6zM215 281h6v6h-6zM203 341h6v6h-6zM167 347h6v6h-6zM137 353h12v6h-12zM257 359h6v6h-6zM269 371h6v6h-6zM299 395h6v6h-6zM317 401h6v6h-6zM323 413h6v6h-6zM347 467h6v6h-6z"/><path fill="#f6f6fc" d="M461 89h24v6h-24zM215 95h6v6h-6zM251 95h12v6h-12zM443 95h42v6h-42zM431 101h30v6h-30zM425 107h18v6h-18zM419 113h12v6h-12zM413 119h12v6h-12zM155 125h6v6h-6zM185 131h6v6h-6zM257 143h6v6h-6zM269 167h6v6h-6zM275 173h6v6h-6zM275 179h6v6h-6zM311 179h18v6h-18zM299 185h36v6h-36zM269 191h6v6h-6zM299 191h6v6h-6zM329 191h6v6h-6zM293 197h6v6h-6zM329 197h12v6h-12zM293 203h6v6h-6zM335 203h6v6h-6zM395 203h6v6h-6zM293 209h6v6h-6zM335 209h6v6h-6zM377 209h48v6h-48zM275 215h6v6h-6zM293 215h12v6h-12zM335 215h6v6h-6zM371 215h18v6h-18zM413 215h24v6h-24zM275 221h6v6h-6zM299 221h6v6h-6zM329 221h12v6h-12zM365 221h12v6h-12zM425 221h18v6h-18zM275 227h6v6h-6zM305 227h24v6h-24zM365 227h12v6h-12zM431 227h18v6h-18zM365 233h6v6h-6zM437 233h12v6h-12zM365 239h6v6h-6zM437 239h12v6h-12zM263 245h6v6h-6zM371 245h6v6h-6zM443 245h12v6h-12zM257 251h6v6h-6zM371 251h6v6h-6zM443 251h12v6h-12zM251 257h6v6h-6zM371 257h6v6h-6zM437 257h18v6h-18zM245 263h6v6h-6zM371 263h6v6h-6zM437 263h12v6h-12zM239 269h6v6h-6zM377 269h6v6h-6zM431 269h18v6h-18zM377 275h12v6h-12zM419 275h24v6h-24zM233 281h6v6h-6zM383 281h48v6h-48zM173 287h12v6h-12zM215 287h6v6h-6zM389 287h18v6h-18zM137 293h24v6h-24zM341 323h6v6h-6zM335 329h24v6h-24zM341 335h24v6h-24zM131 341h42v6h-42zM227 341h6v6h-6zM341 341h30v6h-30zM245 347h6v6h-6zM341 347h36v6h-36zM341 353h18v6h-18zM365 353h18v6h-18zM563 353h6v6h-6zM341 359h12v6h-12zM371 359h12v6h-12zM557 359h12v6h-12zM341 365h12v6h-12zM371 365h12v6h-12zM551 365h18v6h-18zM341 371h18v6h-18zM371 371h6v6h-6zM539 371h24v6h-24zM341 377h30v6h-30zM521 377h30v6h-30zM281 383h6v6h-6zM329 383h12v6h-12zM509 383h30v6h-30zM293 389h6v6h-6zM317 389h18v6h-18zM497 389h30v6h-30zM329 395h6v6h-6zM491 395h18v6h-18zM479 401h18v6h-18zM467 407h24v6h-24zM461 413h18v6h-18zM449 419h18v6h-18zM443 425h12v6h-12zM437 431h12v6h-12z"/><path fill="#fcfcfc" d="M179 95h6v6h-6zM203 95h6v6h-6zM221 95h6v6h-6zM239 95h12v6h-12zM263 101h12v6h-12zM461 101h24v6h-24zM275 107h6v6h-6zM443 107h42v6h-42zM275 113h6v6h-6zM431 113h54v6h-54zM155 119h12v6h-12zM425 119h96v6h-96zM161 125h24v6h-24zM275 125h24v6h-24zM413 125h108v6h-108zM263 131h12v6h-12zM293 131h12v6h-12zM413 131h114v6h-114zM203 137h6v6h-6zM239 137h30v6h-30zM305 137h6v6h-6zM413 137h114v6h-114zM263 143h6v6h-6zM305 143h6v6h-6zM407 143h120v6h-120zM305 149h12v6h-12zM401 149h126v6h-126zM263 155h6v6h-6zM305 155h12v6h-12zM389 155h138v6h-138zM269 161h6v6h-6zM299 161h24v6h-24zM389 161h138v6h-138zM275 167h48v6h-48zM383 167h138v6h-138zM281 173h48v6h-48zM383 173h138v6h-138zM281 179h30v6h-30zM329 179h6v6h-6zM383 179h132v6h-132zM275 185h24v6h-24zM383 185h66v6h-66zM455 185h6v6h-6zM275 191h24v6h-24zM335 191h6v6h-6zM389 191h66v6h-66zM461 191h18v6h-18zM287 197h6v6h-6zM341 197h6v6h-6zM389 197h96v6h-96zM269 203h6v6h-6zM287 203h6v6h-6zM341 203h6v6h-6zM389 203h6v6h-6zM401 203h90v6h-90zM275 209h18v6h-18zM341 209h6v6h-6zM371 209h6v6h-6zM425 209h72v6h-72zM281 215h12v6h-12zM341 215h6v6h-6zM365 215h6v6h-6zM437 215h60v6h-60zM281 221h18v6h-18zM341 221h24v6h-24zM443 221h54v6h-54zM281 227h24v6h-24zM329 227h36v6h-36zM449 227h48v6h-48zM275 233h90v6h-90zM449 233h42v6h-42zM269 239h12v6h-12zM305 239h12v6h-12zM353 239h12v6h-12zM449 239h42v6h-42zM269 245h6v6h-6zM353 245h18v6h-18zM455 245h30v6h-30zM263 251h12v6h-12zM359 251h12v6h-12zM455 251h30v6h-30zM257 257h12v6h-12zM359 257h12v6h-12zM455 257h36v6h-36zM251 263h18v6h-18zM359 263h12v6h-12zM449 263h42v6h-42zM245 269h60v6h-60zM359 269h18v6h-18zM449 269h54v6h-54zM239 275h72v6h-72zM359 275h18v6h-18zM443 275h60v6h-60zM239 281h78v6h-78zM353 281h30v6h-30zM431 281h72v6h-72zM221 287h108v6h-108zM341 287h48v6h-48zM407 287h96v6h-96zM161 293h36v6h-36zM251 293h246v6h-246zM131 299h30v6h-30zM257 299h240v6h-240zM131 305h12v6h-12zM263 305h228v6h-228zM269 311h240v6h-240zM269 317h246v6h-246zM275 323h66v6h-66zM347 323h174v6h-174zM131 329h6v6h-6zM275 329h60v6h-60zM359 329h198v6h-198zM131 335h30v6h-30zM275 335h66v6h-66zM365 335h198v6h-198zM233 341h6v6h-6zM275 341h18v6h-18zM311 341h30v6h-30zM371 341h198v6h-198zM251 347h6v6h-6zM275 347h12v6h-12zM323 347h18v6h-18zM377 347h192v6h-192zM257 353h24v6h-24zM329 353h12v6h-12zM383 353h180v6h-180zM269 359h6v6h-6zM329 359h12v6h-12zM383 359h174v6h-174zM329 365h12v6h-12zM383 365h168v6h-168zM275 371h6v6h-6zM329 371h12v6h-12zM377 371h162v6h-162zM323 377h18v6h-18zM371 377h150v6h-150zM317 383h12v6h-12zM341 383h168v6h-168zM299 389h18v6h-18zM335 389h6v6h-6zM377 389h120v6h-120zM335 395h6v6h-6zM389 395h102v6h-102zM329 401h6v6h-6zM401 401h78v6h-78zM329 407h6v6h-6zM413 407h54v6h-54zM425 413h36v6h-36zM425 419h24v6h-24zM425 425h18v6h-18zM425 431h6v6h-6zM329 437h6v6h-6zM341 461h6v6h-6z"/><path fill="#fcf6f6" d="M185 95h6v6h-6zM197 95h6v6h-6zM227 95h12v6h-12zM167 101h6v6h-6zM161 107h6v6h-6zM269 107h6v6h-6zM161 113h6v6h-6zM167 119h6v6h-6zM275 119h6v6h-6zM185 125h6v6h-6zM263 125h12v6h-12zM257 131h6v6h-6zM275 131h18v6h-18zM209 137h6v6h-6zM269 137h12v6h-12zM287 137h18v6h-18zM293 143h12v6h-12zM263 149h6v6h-6zM299 149h6v6h-6zM293 155h12v6h-12zM275 161h24v6h-24zM269 197h18v6h-18zM275 203h12v6h-12zM281 239h24v6h-24zM317 239h36v6h-36zM275 245h42v6h-42zM347 245h6v6h-6zM275 251h6v6h-6zM293 251h6v6h-6zM353 251h6v6h-6zM269 257h36v6h-36zM353 257h6v6h-6zM269 263h42v6h-42zM353 263h6v6h-6zM305 269h12v6h-12zM353 269h6v6h-6zM311 275h12v6h-12zM347 275h12v6h-12zM317 281h36v6h-36zM329 287h12v6h-12zM197 293h18v6h-18zM239 293h12v6h-12zM161 299h12v6h-12zM251 299h6v6h-6zM143 305h18v6h-18zM257 305h6v6h-6zM131 311h18v6h-18zM263 311h6v6h-6zM131 317h12v6h-12zM263 317h6v6h-6zM131 323h12v6h-12zM269 323h6v6h-6zM137 329h12v6h-12zM269 329h6v6h-6zM161 335h36v6h-36zM269 335h6v6h-6zM239 341h6v6h-6zM269 341h6v6h-6zM293 341h18v6h-18zM269 347h6v6h-6zM287 347h6v6h-6zM311 347h12v6h-12zM281 353h6v6h-6zM323 353h6v6h-6zM275 359h6v6h-6zM323 359h6v6h-6zM275 365h6v6h-6zM323 365h6v6h-6zM323 371h6v6h-6zM317 377h6v6h-6zM287 383h6v6h-6zM311 383h6v6h-6zM341 389h6v6h-6zM371 389h6v6h-6zM383 395h6v6h-6zM395 401h6v6h-6zM407 407h6v6h-6zM329 413h6v6h-6zM413 413h12v6h-12zM329 419h6v6h-6zM419 419h6v6h-6zM329 425h6v6h-6zM419 425h6v6h-6zM329 431h6v6h-6z"/><path fill="#fcf0f0" d="M191 95h6v6h-6zM173 101h6v6h-6zM251 101h12v6h-12zM167 107h6v6h-6zM167 113h6v6h-6zM269 113h6v6h-6zM173 119h6v6h-6zM269 119h6v6h-6zM191 131h6v6h-6zM281 137h6v6h-6zM269 143h24v6h-24zM287 149h12v6h-12zM269 155h6v6h-6zM281 155h12v6h-12zM317 245h30v6h-30zM281 251h12v6h-12zM299 251h24v6h-24zM347 251h6v6h-6zM305 257h12v6h-12zM347 257h6v6h-6zM311 263h6v6h-6zM347 263h6v6h-6zM317 269h6v6h-6zM341 269h12v6h-12zM323 275h24v6h-24zM215 293h24v6h-24zM173 299h12v6h-12zM245 299h6v6h-6zM161 305h6v6h-6zM251 305h6v6h-6zM149 311h6v6h-6zM257 311h6v6h-6zM143 317h12v6h-12zM257 317h6v6h-6zM143 323h12v6h-12zM263 323h6v6h-6zM149 329h12v6h-12zM263 329h6v6h-6zM197 335h12v6h-12zM263 335h6v6h-6zM245 341h6v6h-6zM263 341h6v6h-6zM257 347h12v6h-12zM293 347h18v6h-18zM287 353h6v6h-6zM317 353h6v6h-6zM317 359h6v6h-6zM317 371h6v6h-6zM281 377h6v6h-6zM293 383h18v6h-18zM347 389h6v6h-6zM365 389h6v6h-6zM377 395h6v6h-6zM389 401h6v6h-6zM401 407h6v6h-6zM407 413h6v6h-6zM413 419h6v6h-6zM413 425h6v6h-6zM335 449h6v6h-6z"/><path fill="#fceaea" d="M179 101h6v6h-6zM245 101h6v6h-6zM173 107h6v6h-6zM263 107h6v6h-6zM173 113h6v6h-6zM179 119h6v6h-6zM257 125h6v6h-6zM269 149h18v6h-18zM275 155h6v6h-6zM323 251h24v6h-24zM317 257h12v6h-12zM341 257h6v6h-6zM317 263h30v6h-30zM323 269h18v6h-18zM185 299h6v6h-6zM239 299h6v6h-6zM167 305h6v6h-6zM245 305h6v6h-6zM155 311h6v6h-6zM251 311h6v6h-6zM155 317h6v6h-6zM155 323h6v6h-6zM257 323h6v6h-6zM161 329h12v6h-12zM257 329h6v6h-6zM209 335h6v6h-6zM257 335h6v6h-6zM251 341h12v6h-12zM293 353h24v6h-24zM281 359h6v6h-6zM311 359h6v6h-6zM317 365h6v6h-6zM311 377h6v6h-6zM353 389h12v6h-12zM341 395h6v6h-6zM371 395h6v6h-6zM335 401h6v6h-6zM383 401h6v6h-6zM395 407h6v6h-6zM401 413h6v6h-6zM407 419h6v6h-6zM413 431h6v6h-6zM347 461h6v6h-6z"/><path fill="#fcdede" d="M185 101h6v6h-6zM239 101h6v6h-6zM179 107h6v6h-6zM257 107h6v6h-6zM221 131h12v6h-12zM203 299h30v6h-30zM179 305h6v6h-6zM167 311h6v6h-6zM245 317h6v6h-6zM167 323h6v6h-6zM179 329h12v6h-12zM245 329h12v6h-12zM215 335h24v6h-24zM293 359h12v6h-12zM287 365h6v6h-6zM305 365h6v6h-6zM305 371h6v6h-6zM293 377h12v6h-12zM365 395h6v6h-6zM395 413h6v6h-6zM401 419h6v6h-6zM341 455h6v6h-6zM353 461h6v6h-6z"/><path fill="#fccccc" d="M191 101h6v6h-6zM233 101h6v6h-6zM245 107h6v6h-6zM257 113h6v6h-6zM197 125h6v6h-6zM251 125h6v6h-6zM239 131h6v6h-6zM203 305h6v6h-6zM221 305h6v6h-6zM185 311h6v6h-6zM233 311h6v6h-6zM185 317h6v6h-6zM185 323h6v6h-6zM203 329h6v6h-6zM233 329h6v6h-6zM341 401h6v6h-6zM377 407h6v6h-6zM395 425h6v6h-6z"/><path fill="#fcc0c0" d="M197 101h6v6h-6zM221 101h12v6h-12zM191 107h6v6h-6zM239 107h6v6h-6zM197 119h6v6h-6zM215 131h6v6h-6zM197 311h6v6h-6zM221 311h6v6h-6zM191 317h6v6h-6zM227 317h6v6h-6zM197 323h6v6h-6zM227 323h6v6h-6zM215 329h12v6h-12zM335 419h6v6h-6zM389 425h6v6h-6zM341 449h6v6h-6zM347 455h6v6h-6z"/><path fill="#fcc6c6" d="M203 101h18v6h-18zM191 113h6v6h-6zM209 305h12v6h-12zM191 311h6v6h-6zM227 311h6v6h-6zM233 317h6v6h-6zM191 323h6v6h-6zM233 323h6v6h-6zM209 329h6v6h-6zM227 329h6v6h-6zM365 401h6v6h-6zM335 413h6v6h-6zM383 413h6v6h-6zM389 419h6v6h-6zM395 431h6v6h-6zM335 437h6v6h-6zM395 437h6v6h-6z"/><path fill="#fcd2d2" d="M185 107h6v6h-6zM251 107h6v6h-6zM257 119h6v6h-6zM245 131h6v6h-6zM197 305h6v6h-6zM227 305h6v6h-6zM179 311h6v6h-6zM173 317h12v6h-12zM239 317h6v6h-6zM179 323h6v6h-6zM239 323h6v6h-6zM197 329h6v6h-6zM239 329h6v6h-6zM353 395h12v6h-12zM389 413h6v6h-6zM395 419h6v6h-6zM335 443h6v6h-6z"/><path fill="#fca8a8" d="M197 107h6v6h-6zM233 107h6v6h-6zM197 113h6v6h-6zM239 113h6v6h-6zM233 125h6v6h-6zM377 419h6v6h-6zM341 443h6v6h-6z"/><path fill="#fc9696" d="M203 107h6v6h-6zM233 113h6v6h-6zM233 119h6v6h-6zM347 407h12v6h-12zM341 419h6v6h-6zM377 425h6v6h-6zM377 431h6v6h-6zM341 437h6v6h-6z"/><path fill="#fc8a8a" d="M209 107h6v6h-6zM347 443h6v6h-6z"/><path fill="#fc8484" d="M215 107h12v6h-12zM203 113h6v6h-6zM203 119h6v6h-6zM347 413h6v6h-6zM359 413h6v6h-6zM371 425h6v6h-6zM371 437h6v6h-6z"/><path fill="#fc9090" d="M227 107h6v6h-6zM221 125h6v6h-6zM365 413h6v6h-6zM371 419h6v6h-6zM341 425h6v6h-6zM341 431h6v6h-6z"/><path fill="#fce4e4" d="M179 113h6v6h-6zM263 113h6v6h-6zM185 119h6v6h-6zM263 119h6v6h-6zM191 125h6v6h-6zM251 131h6v6h-6zM329 257h12v6h-12zM191 299h12v6h-12zM233 299h6v6h-6zM173 305h6v6h-6zM239 305h6v6h-6zM161 311h6v6h-6zM245 311h6v6h-6zM161 317h6v6h-6zM251 317h6v6h-6zM161 323h6v6h-6zM251 323h6v6h-6zM173 329h6v6h-6zM239 335h18v6h-18zM287 359h6v6h-6zM305 359h6v6h-6zM281 365h6v6h-6zM311 365h6v6h-6zM281 371h6v6h-6zM311 371h6v6h-6zM287 377h6v6h-6zM305 377h6v6h-6zM377 401h6v6h-6zM389 407h6v6h-6zM407 425h6v6h-6zM407 431h6v6h-6zM407 437h6v6h-6z"/><path fill="#fcd8d8" d="M185 113h6v6h-6zM191 119h6v6h-6zM197 131h6v6h-6zM233 131h6v6h-6zM185 305h12v6h-12zM233 305h6v6h-6zM173 311h6v6h-6zM239 311h6v6h-6zM167 317h6v6h-6zM173 323h6v6h-6zM245 323h6v6h-6zM191 329h6v6h-6zM293 365h12v6h-12zM287 371h18v6h-18zM347 395h6v6h-6zM371 401h6v6h-6zM335 407h6v6h-6zM383 407h6v6h-6zM401 425h6v6h-6zM401 431h6v6h-6zM401 437h6v6h-6z"/><path fill="#fc6060" d="M209 113h6v6h-6z"/><path fill="#fc5a5a" d="M215 113h6v6h-6z"/><path fill="#fc6666" d="M221 113h6v6h-6zM221 119h6v6h-6zM353 425h12v6h-12zM353 431h12v6h-12z"/><path fill="#fc7878" d="M227 113h6v6h-6zM353 413h6v6h-6zM347 419h6v6h-6zM347 437h6v6h-6zM365 437h6v6h-6z"/><path fill="#fcaeae" d="M245 113h6v6h-6zM245 125h6v6h-6zM209 131h6v6h-6zM209 317h6v6h-6zM365 407h6v6h-6zM383 425h6v6h-6z"/><path fill="#fcb4b4" d="M251 113h6v6h-6zM251 119h6v6h-6zM203 317h6v6h-6zM215 317h12v6h-12zM209 323h18v6h-18zM353 401h6v6h-6zM341 407h6v6h-6zM353 455h6v6h-6z"/><path fill="#fc5454" d="M209 119h6v6h-6z"/><path fill="#fc4e4e" d="M215 119h6v6h-6z"/><path fill="#fc7e7e" d="M227 119h6v6h-6zM365 419h6v6h-6zM371 431h6v6h-6z"/><path fill="#fc9c9c" d="M239 119h12v6h-12zM203 125h6v6h-6zM359 407h6v6h-6zM341 413h6v6h-6z"/><path fill="#fc7272" d="M209 125h12v6h-12zM359 419h6v6h-6zM347 425h6v6h-6zM365 425h6v6h-6zM347 431h6v6h-6zM365 431h6v6h-6z"/><path fill="#fca2a2" d="M227 125h6v6h-6zM239 125h6v6h-6zM371 413h6v6h-6zM347 449h6v6h-6z"/><path fill="#fcbaba" d="M203 131h6v6h-6zM203 311h18v6h-18zM197 317h6v6h-6zM203 323h6v6h-6zM347 401h6v6h-6zM359 401h6v6h-6zM371 407h6v6h-6zM377 413h6v6h-6zM383 419h6v6h-6zM335 425h6v6h-6zM335 431h6v6h-6zM389 431h6v6h-6z"/><path fill="#6c6cfc" d="M173 149h6v6h-6zM251 215h6v6h-6zM191 251h6v6h-6zM233 359h6v6h-6zM311 419h6v6h-6zM317 431h6v6h-6zM335 473h6v6h-6zM347 479h6v6h-6z"/><path fill="#4e4efc" d="M179 149h6v6h-6zM239 155h6v6h-6zM185 245h6v6h-6zM251 377h6v6h-6zM281 407h6v6h-6zM323 467h6v6h-6zM323 473h6v6h-6zM353 485h6v6h-6z"/><path fill="#3636fc" d="M185 149h6v6h-6zM167 161h6v6h-6zM245 167h6v6h-6zM245 215h6v6h-6zM179 239h6v6h-6zM197 245h6v6h-6zM239 371h6v6h-6zM275 407h6v6h-6zM287 413h6v6h-6zM317 443h6v6h-6zM317 467h6v6h-6zM281 473h6v6h-6zM287 485h6v6h-6zM317 485h12v6h-12z"/><path fill="#2424fc" d="M191 149h6v6h-6zM215 149h6v6h-6zM245 173h6v6h-6zM245 209h6v6h-6zM239 221h6v6h-6zM209 245h12v6h-12zM221 359h6v6h-6zM257 395h6v6h-6zM263 401h6v6h-6zM311 431h6v6h-6zM317 449h6v6h-6zM317 455h6v6h-6zM257 467h6v6h-6zM287 473h6v6h-6zM299 479h6v6h-6zM335 485h6v6h-6z"/><path fill="#1212fc" d="M197 149h12v6h-12zM179 233h6v6h-6zM215 359h6v6h-6zM245 383h6v6h-6zM311 437h6v6h-6zM263 461h6v6h-6zM281 461h6v6h-6zM311 461h6v6h-6zM245 467h6v6h-6zM353 497h6v6h-6z"/><path fill="#1818fc" d="M209 149h6v6h-6zM173 161h6v6h-6zM245 185h6v6h-6zM245 191h6v6h-6zM245 197h6v6h-6zM233 227h6v6h-6zM191 239h6v6h-6zM209 365h6v6h-6zM203 371h6v6h-6zM233 371h6v6h-6zM197 377h6v6h-6zM239 377h6v6h-6zM191 383h6v6h-6zM251 389h6v6h-6zM293 419h6v6h-6zM305 425h6v6h-6zM269 461h12v6h-12zM251 467h6v6h-6zM287 467h6v6h-6zM293 473h12v6h-12zM329 491h6v6h-6zM347 491h6v6h-6zM317 497h6v6h-6z"/><path fill="#3030fc" d="M221 149h6v6h-6zM233 233h6v6h-6zM203 365h6v6h-6zM197 371h6v6h-6zM245 377h6v6h-6zM251 383h6v6h-6zM299 419h6v6h-6zM317 461h6v6h-6zM269 467h12v6h-12zM257 473h6v6h-6zM287 479h6v6h-6zM311 479h6v6h-6zM293 485h6v6h-6zM305 485h12v6h-12zM329 485h6v6h-6z"/><path fill="#4848fc" d="M227 149h6v6h-6zM245 221h6v6h-6zM203 359h6v6h-6zM227 359h6v6h-6zM197 365h6v6h-6zM263 395h6v6h-6zM269 401h6v6h-6zM293 413h6v6h-6zM305 419h6v6h-6zM323 479h18v6h-18zM263 485h12v6h-12z"/><path fill="#6666fc" d="M233 149h6v6h-6zM251 173h6v6h-6zM173 245h6v6h-6zM197 251h6v6h-6zM263 389h6v6h-6zM275 401h6v6h-6zM287 407h6v6h-6zM323 449h6v6h-6zM329 467h6v6h-6z"/><path fill="#7272fc" d="M161 155h6v6h-6zM251 221h6v6h-6zM227 245h6v6h-6zM203 353h6v6h-6zM251 371h6v6h-6zM257 377h6v6h-6zM269 395h6v6h-6z"/><path fill="#5a5afc" d="M167 155h6v6h-6zM251 179h6v6h-6zM251 203h6v6h-6zM233 239h6v6h-6zM179 245h6v6h-6zM203 251h12v6h-12zM209 353h6v6h-6zM191 365h6v6h-6zM257 383h6v6h-6zM317 437h6v6h-6zM323 455h6v6h-6zM329 473h6v6h-6z"/><path fill="#3c3cfc" d="M173 155h6v6h-6zM221 245h6v6h-6zM233 365h6v6h-6zM257 389h6v6h-6zM263 473h18v6h-18zM317 473h6v6h-6zM257 479h6v6h-6zM281 479h6v6h-6zM317 479h6v6h-6zM281 485h6v6h-6zM347 485h6v6h-6z"/><path fill="#1e1efc" d="M179 155h6v6h-6zM233 155h6v6h-6zM239 161h6v6h-6zM245 179h6v6h-6zM245 203h6v6h-6zM227 239h6v6h-6zM227 365h6v6h-6zM269 407h6v6h-6zM281 413h6v6h-6zM311 467h6v6h-6zM305 473h6v6h-6zM323 491h6v6h-6zM311 497h6v6h-6z"/><path fill="#0000fc" d="M185 155h48v6h-48zM179 161h60v6h-60zM173 167h72v6h-72zM185 173h60v6h-60zM185 179h60v6h-60zM185 185h60v6h-60zM185 191h60v6h-60zM185 197h60v6h-60zM185 203h60v6h-60zM185 209h60v6h-60zM185 215h54v6h-54zM185 221h54v6h-54zM179 227h54v6h-54zM185 233h48v6h-48zM197 239h30v6h-30zM215 365h6v6h-6zM215 371h18v6h-18zM209 377h30v6h-30zM203 383h42v6h-42zM197 389h54v6h-54zM197 395h60v6h-60zM203 401h60v6h-60zM215 407h54v6h-54zM215 413h60v6h-60zM215 419h78v6h-78zM209 425h96v6h-96zM209 431h102v6h-102zM209 437h102v6h-102zM209 443h108v6h-108zM209 449h108v6h-108zM221 455h96v6h-96zM245 461h6v6h-6zM287 461h24v6h-24zM299 467h6v6h-6zM335 497h18v6h-18zM323 503h30v6h-30z"/><path fill="#5454fc" d="M245 161h6v6h-6zM251 185h6v6h-6zM251 191h6v6h-6zM251 197h6v6h-6zM215 353h6v6h-6zM245 371h6v6h-6zM323 461h6v6h-6zM341 479h6v6h-6z"/><path fill="#6060fc" d="M251 209h6v6h-6zM245 227h6v6h-6zM239 233h6v6h-6zM215 251h6v6h-6zM221 353h6v6h-6zM197 359h6v6h-6zM239 365h6v6h-6zM299 413h6v6h-6z"/><path fill="#0606fc" d="M239 215h6v6h-6zM221 365h6v6h-6zM209 371h6v6h-6zM203 377h6v6h-6zM197 383h6v6h-6zM191 389h6v6h-6zM275 413h6v6h-6zM251 461h6v6h-6zM293 467h6v6h-6zM329 497h6v6h-6z"/><path fill="#4242fc" d="M239 227h6v6h-6zM191 245h6v6h-6zM191 371h6v6h-6zM311 425h6v6h-6zM263 479h18v6h-18zM275 485h6v6h-6z"/><path fill="#2a2afc" d="M185 239h6v6h-6zM203 245h6v6h-6zM209 359h6v6h-6zM191 377h6v6h-6zM263 467h6v6h-6zM281 467h6v6h-6zM251 473h6v6h-6zM311 473h6v6h-6zM293 479h6v6h-6zM305 479h6v6h-6zM341 485h6v6h-6zM305 491h18v6h-18zM353 491h6v6h-6z"/><path fill="#fc6c6c" d="M353 419h6v6h-6zM353 437h12v6h-12z"/><path fill="#0c0cfc" d="M257 461h6v6h-6zM305 467h6v6h-6zM335 491h12v6h-12zM323 497h6v6h-6zM317 503h6v6h-6z"/></g></g>
<path d="M559 508.5L563 502L569 496L575 491L580 487L583 484.5L586.5 484V508.5Z" fill="#aec4e4"/>
<path d="M551.3 71.3L555.4 78.1M555.4 75.9L561.8 70.9" stroke="#b4bccb" stroke-width="1.3" fill="none"/>
<path d="M475.7 492.3L473.7 496.2L476.2 500.7L483.3 501.3L488.9 503.5L492.5 506.9" stroke="#d6d9d5" stroke-width="1.2" fill="none"/>
<path d="M209.8 70.0 L213.3 68.8 L217.0 69.1 L217.6 72.2 L216.7 75.4 L217.2 78.6 L217.4 81.8 L218.5 85.3 L218.2 89.0 L218.5 92.6 L218.8 96.3 L219.7 99.9 L218.9 103.5 L220.2 107.1 L219.8 110.8 L222.2 114.3 L224.3 118.0 L226.1 121.1 L228.0 124.0 L229.7 127.1 L230.0 123.8 L230.5 120.5 L231.0 117.2 L229.9 113.8 L230.8 110.5 L230.6 107.1 L232.7 104.9 L234.0 102.1 L236.1 99.9 L237.6 96.2 L240.6 93.5 L244.2 89.9 L246.4 93.2 L249.7 95.4 L252.4 97.8 L254.8 100.6 L256.9 103.5 L258.1 106.9 L260.4 109.6 L262.4 112.6 L264.2 115.3 L266.0 118.0 L263.8 120.5 L262.4 123.5 L264.1 126.4 L264.2 129.8 L265.7 133.2 L267.8 136.2 L269.6 141.6 L272.1 145.1 L274.2 148.8 L275.9 145.7 L278.7 143.4 L282.4 142.8 L285.9 141.6 L289.1 140.4 L291.4 138.0 L293.2 140.5 L293.9 143.5 L295.8 146.0 L296.8 148.8 L298.3 152.2 L300.1 155.4 L302.7 158.1 L304.1 161.5 L304.9 164.5 L306.5 167.1 L307.9 169.8 L309.5 172.4 L310.4 175.4 L312.3 177.8 L313.2 180.8 L315.0 183.3 L316.8 186.7 L320.3 188.9 L322.2 192.4 L323.5 195.2 L326.0 197.1 L327.6 199.6 L326.0 197.7 L330.0 201.7 L329.5 205.7 L329.0 209.6 L331.2 212.0 L332.0 215.1 L334.0 217.6 L335.6 220.8 L336.0 224.5 L337.9 227.6 L340.9 230.0 L343.2 233.0 L345.9 235.6 L348.9 239.6 L352.6 239.0 L356.3 239.1 L359.9 238.6 L362.2 235.8 L364.8 233.5 L367.9 231.6 L370.8 230.3 L373.4 228.6 L375.8 226.6 L379.9 225.2 L383.8 223.6 L384.6 226.9 L386.8 229.6 L390.0 227.1 L393.8 225.6 L398.1 224.2 L401.8 221.6 L403.3 218.3 L405.8 215.6 L406.1 212.5 L405.0 209.6 L404.5 206.6 L403.8 203.7 L403.8 200.5 L402.8 197.5 L402.0 194.6 L400.8 191.7 L399.5 188.8 L399.5 185.7 L398.5 182.8 L398.8 179.7 L398.6 176.3 L398.9 173.0 L399.8 169.7 L403.1 168.3 L405.8 165.8 L408.0 163.2 L410.9 161.5 L413.7 159.8 L416.7 156.8 L419.7 153.8 L422.3 150.8 L424.4 147.6 L425.7 143.8 L428.0 140.0 L429.7 135.8 L427.3 133.1 L425.7 129.9 L428.8 126.9 L431.7 123.9 L435.1 122.9 L438.0 120.5 L441.7 119.9 L442.7 117.0 L442.9 113.8 L444.1 111.0 L444.7 107.9 L444.5 103.9 L443.7 99.9 L446.6 100.5 L449.6 100.5 L452.6 100.8 L455.6 100.9 L458.8 100.4 L462.0 100.9 L465.2 100.3 L468.4 100.9 L471.6 100.9 L469.5 103.2 L467.2 105.3 L465.6 107.9 L466.4 111.2 L467.8 114.4 L467.6 117.9 L470.6 119.9 L473.6 121.9 L473.1 125.5 L471.6 128.9 L469.6 132.9 L471.8 135.4 L474.7 137.2 L477.2 139.4 L479.6 141.8 L482.7 141.8 L485.5 140.1 L488.5 139.3 L491.5 138.8 L494.0 136.6 L496.8 134.8 L499.5 132.9 L502.4 131.7 L505.5 132.0 L508.5 131.5 L509.8 135.0 L512.5 137.8 L513.3 141.9 L514.5 145.8 L513.5 148.7 L512.7 151.7 L512.4 154.7 L512.5 157.8 L511.0 161.0 L509.9 164.3 L509.5 167.8 L506.1 167.5 L502.9 168.9 L499.5 168.8 L495.5 170.3 L491.5 171.7 L488.5 171.8 L485.5 171.7 L482.6 170.9 L479.6 170.7 L476.1 169.4 L473.0 167.2 L469.6 165.8 L467.0 167.6 L465.0 170.3 L462.2 171.8 L459.6 173.7 L456.5 170.9 L453.6 167.8 L449.6 166.8 L447.3 169.5 L446.3 173.2 L443.7 175.7 L441.4 178.2 L438.3 179.7 L435.7 181.7 L434.8 184.8 L433.7 187.7 L435.4 190.9 L437.7 193.7 L438.5 197.1 L439.2 200.6 L438.4 204.3 L439.7 207.6 L442.6 209.3 L445.4 211.1 L447.6 213.6 L450.5 212.0 L453.5 210.9 L456.4 209.4 L459.6 208.6 L462.6 208.0 L465.8 207.9 L468.4 205.7 L471.6 205.6 L474.3 208.2 L476.7 211.2 L479.6 213.6 L480.9 217.9 L483.5 221.6 L480.8 223.7 L480.1 227.3 L477.6 229.6 L476.5 233.1 L474.9 236.4 L475.3 240.3 L473.6 243.5 L472.9 246.5 L473.2 249.6 L471.6 252.4 L471.6 255.5 L469.6 259.5 L470.9 262.6 L473.5 264.9 L475.6 267.5 L478.2 269.4 L480.2 272.0 L481.7 274.9 L483.5 277.4 L485.8 279.9 L489.1 281.1 L491.5 283.4 L487.0 287.3 L485.3 289.8 L484.3 292.7 L483.1 295.5 L481.5 298.1 L480.1 301.1 L477.9 303.6 L476.7 306.8 L476.4 310.3 L475.2 313.5 L477.2 317.5 L478.8 321.7 L480.2 325.0 L482.5 327.7 L484.3 330.8 L486.1 327.8 L487.0 324.4 L490.0 324.8 L493.1 324.4 L496.0 325.3 L499.7 325.7 L503.3 326.2 L505.5 329.8 L508.7 332.6 L509.2 335.6 L509.1 338.8 L510.6 341.7 L514.5 342.2 L517.8 344.4 L523.2 346.2 L526.9 341.7 L530.5 345.3 L533.5 344.7 L536.6 345.2 L539.6 344.4 L542.4 343.3 L545.0 341.7 L550.4 343.5 L552.2 347.1 L554.1 350.7 L555.2 353.6 L556.8 356.2 L555.2 359.6 L555.0 363.4 L554.0 366.4 L553.7 369.4 L553.2 372.5 L549.9 373.7 L546.8 375.2 L543.3 374.0 L539.6 373.4 L537.4 375.7 L534.5 377.4 L532.3 379.7 L530.3 382.1 L528.3 384.4 L526.9 387.2 L525.1 389.7 L521.4 385.2 L517.4 384.1 L514.2 381.5 L510.5 383.8 L506.9 386.1 L503.7 386.7 L500.8 388.3 L497.9 389.7 L494.5 392.2 L491.5 395.1 L492.2 399.2 L492.4 403.3 L489.9 406.2 L487.0 408.7 L484.0 408.3 L480.9 409.5 L477.9 408.7 L474.6 410.0 L471.5 411.8 L468.8 414.2 L466.7 410.9 L463.4 408.7 L459.9 410.3 L456.2 410.6 L455.7 413.7 L453.3 416.1 L453.1 419.3 L452.2 422.3 L450.7 425.1 L448.2 423.4 L446.1 421.2 L443.5 419.6 L440.8 417.8 L438.9 415.1 L436.9 412.6 L434.4 410.6 L432.2 413.4 L431.5 417.0 L429.0 419.6 L427.1 417.0 L424.3 415.2 L422.1 412.9 L419.9 410.6 L418.0 413.2 L416.6 416.2 L413.9 418.3 L412.6 421.4 L409.8 425.0 L406.3 427.8 L405.4 427.6 L402.5 424.6 L399.4 421.7 L395.9 420.9 L392.8 418.8 L389.4 417.7 L387.0 415.8 L384.2 414.6 L380.9 414.5 L378.5 412.7 L376.3 416.1 L374.5 419.7 L372.2 422.7 L371.6 426.6 L369.5 429.6 L365.5 428.8 L361.5 427.6 L357.4 428.3 L353.5 429.6 L349.7 427.7 L345.6 426.6 L342.6 429.2 L339.6 431.6 L337.4 434.5 L335.6 437.6 L336.0 441.0 L337.2 444.2 L337.6 447.6 L338.7 451.0 L340.1 454.3 L341.6 457.6 L342.0 460.6 L343.1 463.5 L344.1 466.5 L344.6 469.5 L345.0 472.8 L344.5 476.2 L345.6 479.5 L346.8 483.1 L347.5 486.7 L347.6 490.5 L343.6 494.5 L340.2 495.0 L337.0 493.2 L333.6 493.5 L330.7 492.3 L327.6 493.4 L324.6 493.1 L321.6 492.5 L319.2 489.2 L317.6 485.5 L316.8 482.1 L315.6 478.8 L314.7 475.5 L314.2 471.7 L312.2 468.3 L311.7 464.5 L308.4 465.4 L305.7 467.5 L303.4 469.6 L300.7 471.1 L298.7 473.5 L295.7 474.3 L292.9 475.3 L290.5 477.3 L287.7 478.5 L284.5 477.3 L281.1 476.4 L277.8 475.5 L273.8 476.1 L269.8 475.5 L265.8 471.5 L263.8 468.9 L262.4 465.7 L259.8 463.5 L260.0 460.4 L258.0 457.7 L258.6 454.5 L257.8 451.6 L253.8 448.6 L250.8 448.4 L247.7 448.2 L244.7 447.7 L241.9 446.6 L238.9 445.8 L235.9 445.3 L232.9 445.8 L229.9 445.6 L226.9 445.1 L223.9 444.2 L220.9 443.6 L222.0 439.7 L221.9 435.6 L224.3 431.8 L225.9 427.6 L225.8 424.2 L226.7 420.9 L227.9 417.7 L229.2 414.5 L229.2 411.0 L229.9 407.7 L234.0 406.0 L237.9 403.7 L237.4 399.6 L235.9 395.7 L232.9 394.7 L230.0 393.8 L226.9 393.4 L223.9 392.7 L220.3 392.7 L216.8 392.3 L213.6 390.4 L209.9 390.7 L207.0 385.8 L205.7 382.5 L206.6 379.1 L206.0 375.8 L206.1 371.7 L205.0 367.8 L203.0 364.0 L202.0 359.8 L199.0 358.5 L197.0 355.8 L196.3 351.9 L196.0 347.9 L198.8 345.1 L202.0 342.9 L206.0 340.9 L201.9 341.4 L197.8 341.8 L194.7 341.9 L191.7 341.0 L188.6 341.8 L184.8 342.8 L180.9 342.5 L176.9 342.1 L173.2 343.3 L169.5 345.2 L165.5 345.6 L161.2 346.8 L157.7 349.5 L154.0 352.0 L150.0 354.1 L145.4 355.6 L143.8 353.1 L141.6 351.0 L142.8 348.1 L145.4 346.4 L147.7 344.0 L150.0 341.8 L151.1 338.0 L151.6 334.1 L148.5 331.0 L148.5 326.4 L145.1 325.7 L141.6 325.6 L142.4 322.3 L141.5 318.9 L142.3 315.6 L141.8 312.1 L141.6 308.6 L144.4 307.3 L147.0 305.5 L149.7 303.6 L153.1 303.2 L152.1 299.9 L150.0 297.1 L150.3 294.0 L150.8 290.9 L151.9 287.6 L153.9 284.7 L157.0 280.9 L160.8 282.4 L162.8 280.1 L165.5 278.6 L168.0 276.0 L170.1 273.2 L170.8 267.8 L172.4 263.2 L176.2 264.7 L179.1 263.1 L182.4 263.2 L183.5 259.9 L185.5 257.0 L188.6 252.4 L193.2 250.1 L196.3 250.8 L196.3 246.2 L194.4 243.3 L193.2 240.0 L193.2 235.4 L197.8 232.3 L197.4 229.2 L197.8 226.2 L198.9 223.2 L199.8 220.1 L200.0 216.9 L201.0 213.8 L200.7 210.5 L200.9 207.3 L199.9 204.2 L199.7 201.0 L199.8 197.8 L198.9 194.2 L198.9 190.6 L199.3 186.9 L198.9 183.3 L199.1 179.6 L198.1 176.1 L197.9 172.4 L198.0 168.8 L198.2 165.1 L198.2 161.5 L197.1 157.9 L191.7 156.1 L187.8 155.9 L184.4 154.3 L182.1 156.7 L179.0 157.9 L177.9 154.1 L175.9 150.7 L174.4 147.0 L172.5 143.5 L170.8 139.8 L170.6 136.1 L169.9 132.5 L170.8 129.0 L170.8 125.3 L171.4 121.4 L173.5 118.0 L175.3 114.4 L179.0 117.1 L179.4 121.0 L180.6 124.6 L182.6 128.0 L188.0 126.2 L191.6 124.7 L195.3 123.5 L196.6 120.7 L198.0 118.0 L196.7 115.1 L196.3 111.9 L195.3 109.0 L193.9 105.5 L193.5 101.7 L192.6 98.1 L195.3 96.3 L195.8 92.8 L194.8 89.5 L195.2 86.0 L194.4 82.7 L198.4 82.1 L202.5 82.7 L204.3 87.2 L208.0 85.4 L210.0 82.0 L210.7 78.1 L209.6 74.1Z" fill="none" stroke="#000" stroke-width="2.3" stroke-linejoin="round"/>
<rect x="168.3" y="67.8" width="100.4" height="200.3" fill="none" stroke="#ee1111" stroke-width="1.8"/>
<rect x="206" y="367.9" width="199.8" height="129.2" fill="none" stroke="#ee1111" stroke-width="1.8"/>
<text x="228" y="86.6" font-size="23.5" fill="#f00">NW</text>
<text x="210.3" y="491.8" font-size="23.5" fill="#f00">S</text>
<text x="110.1" y="80.6" font-size="38">(d)</text>
</g>
<text transform="translate(91.6,85.4) scale(1,1.075)" font-size="31" font-weight="bold" text-anchor="end">30°N</text>
<text transform="translate(91.6,233.9) scale(1,1.075)" font-size="31" font-weight="bold" text-anchor="end">27°N</text>
<text transform="translate(91.6,378.5) scale(1,1.075)" font-size="31" font-weight="bold" text-anchor="end">24°N</text>
<text transform="translate(91.6,519.7) scale(1,1.075)" font-size="31" font-weight="bold" text-anchor="end">21°N</text>
<text transform="translate(90.2,618.8) scale(1,1.075)" font-size="31" font-weight="bold" text-anchor="end">30°N</text>
<text transform="translate(90.2,767.3) scale(1,1.075)" font-size="31" font-weight="bold" text-anchor="end">27°N</text>
<text transform="translate(90.2,911.9) scale(1,1.075)" font-size="31" font-weight="bold" text-anchor="end">24°N</text>
<text transform="translate(90.2,1053.1) scale(1,1.075)" font-size="31" font-weight="bold" text-anchor="end">21°N</text>
<text transform="translate(191.9,1076.2) scale(1,1.067)" font-size="31.3" font-weight="bold" text-anchor="middle">99°E</text>
<text transform="translate(322.9,1076.2) scale(1,1.067)" font-size="31.3" font-weight="bold" text-anchor="middle">102°E</text>
<text transform="translate(454.0,1076.2) scale(1,1.067)" font-size="31.3" font-weight="bold" text-anchor="middle">105°E</text>
<text transform="translate(585.0,1076.2) scale(1,1.067)" font-size="31.3" font-weight="bold" text-anchor="middle">108°E</text>
<text transform="translate(861.2,1076.2) scale(1,1.067)" font-size="31.3" font-weight="bold" text-anchor="middle">99°E</text>
<text transform="translate(992.2,1076.2) scale(1,1.067)" font-size="31.3" font-weight="bold" text-anchor="middle">102°E</text>
<text transform="translate(1123.3,1076.2) scale(1,1.067)" font-size="31.3" font-weight="bold" text-anchor="middle">105°E</text>
<text transform="translate(1254.3,1076.2) scale(1,1.067)" font-size="31.3" font-weight="bold" text-anchor="middle">108°E</text>
<linearGradient id="cba" x1="0" y1="0" x2="0" y2="1"><stop offset="0" stop-color="#0000ff"/><stop offset="0.25" stop-color="#00ffff"/><stop offset="0.5" stop-color="#00ff00"/><stop offset="0.75" stop-color="#ffff00"/><stop offset="1" stop-color="#ff0000"/></linearGradient>
<rect x="616.1" y="37.5" width="21.1" height="481.3" fill="url(#cba)" stroke="#333" stroke-width="0.8"/>
<path d="M637.2 37.5h4" stroke="#555" stroke-width="1"/>
<text transform="translate(699,49.2) scale(1,1.1)" font-size="31.4" font-weight="bold" text-anchor="end">1.0</text>
<path d="M637.2 106.3h4" stroke="#555" stroke-width="1"/>
<text transform="translate(699,118.0) scale(1,1.1)" font-size="31.4" font-weight="bold" text-anchor="end">0.8</text>
<path d="M637.2 175.0h4" stroke="#555" stroke-width="1"/>
<text transform="translate(699,186.7) scale(1,1.1)" font-size="31.4" font-weight="bold" text-anchor="end">0.6</text>
<path d="M637.2 243.8h4" stroke="#555" stroke-width="1"/>
<text transform="translate(699,255.5) scale(1,1.1)" font-size="31.4" font-weight="bold" text-anchor="end">0.4</text>
<path d="M637.2 312.5h4" stroke="#555" stroke-width="1"/>
<text transform="translate(699,324.2) scale(1,1.1)" font-size="31.4" font-weight="bold" text-anchor="end">0.2</text>
<path d="M637.2 381.3h4" stroke="#555" stroke-width="1"/>
<text transform="translate(699,393.0) scale(1,1.1)" font-size="31.4" font-weight="bold" text-anchor="end">0.0</text>
<path d="M637.2 450.0h4" stroke="#555" stroke-width="1"/>
<text transform="translate(699,461.7) scale(1,1.1)" font-size="31.4" font-weight="bold" text-anchor="end">−0.2</text>
<path d="M637.2 518.8h4" stroke="#555" stroke-width="1"/>
<text transform="translate(699,530.5) scale(1,1.1)" font-size="31.4" font-weight="bold" text-anchor="end">−0.4</text>
<text transform="translate(712,281.5) rotate(90)" font-size="30.6" text-anchor="middle">EWH (cm/a)</text>
<linearGradient id="cbb" x1="0" y1="0" x2="0" y2="1"><stop offset="0" stop-color="#0000ff"/><stop offset="0.25" stop-color="#00ffff"/><stop offset="0.5" stop-color="#00ff00"/><stop offset="0.75" stop-color="#ffff00"/><stop offset="1" stop-color="#ff0000"/></linearGradient>
<rect x="1283.6" y="37.5" width="22.1" height="481.3" fill="url(#cbb)" stroke="#333" stroke-width="0.8"/>
<path d="M1305.7 37.5h4" stroke="#555" stroke-width="1"/>
<text transform="translate(1366,49.2) scale(1,1.1)" font-size="31.4" font-weight="bold" text-anchor="end">0.2</text>
<path d="M1305.7 157.8h4" stroke="#555" stroke-width="1"/>
<text transform="translate(1366,169.5) scale(1,1.1)" font-size="31.4" font-weight="bold" text-anchor="end">0.1</text>
<path d="M1305.7 278.1h4" stroke="#555" stroke-width="1"/>
<text transform="translate(1366,289.8) scale(1,1.1)" font-size="31.4" font-weight="bold" text-anchor="end">0.0</text>
<path d="M1305.7 398.5h4" stroke="#555" stroke-width="1"/>
<text transform="translate(1366,410.2) scale(1,1.1)" font-size="31.4" font-weight="bold" text-anchor="end">−0.1</text>
<path d="M1305.7 518.8h4" stroke="#555" stroke-width="1"/>
<text transform="translate(1366,530.5) scale(1,1.1)" font-size="31.4" font-weight="bold" text-anchor="end">−0.2</text>
<text transform="translate(1387.5,281.3) rotate(90)" font-size="30.6" text-anchor="middle">PPT (cm/a)</text>
<linearGradient id="cbc" x1="0" y1="0" x2="0" y2="1"><stop offset="0" stop-color="#ff0000"/><stop offset="0.2" stop-color="#ffff00"/><stop offset="0.42" stop-color="#00ff00"/><stop offset="0.63" stop-color="#00ffff"/><stop offset="0.85" stop-color="#0000ff"/><stop offset="1" stop-color="#8000ff"/></linearGradient>
<rect x="614.5" y="570.6" width="21.2" height="481.8" fill="url(#cbc)" stroke="#333" stroke-width="0.8"/>
<path d="M635.7 570.6h4" stroke="#555" stroke-width="1"/>
<text transform="translate(697,582.3) scale(1,1.1)" font-size="31.4" font-weight="bold" text-anchor="end">0.3</text>
<path d="M635.7 667.0h4" stroke="#555" stroke-width="1"/>
<text transform="translate(697,678.7) scale(1,1.1)" font-size="31.4" font-weight="bold" text-anchor="end">0.2</text>
<path d="M635.7 763.3h4" stroke="#555" stroke-width="1"/>
<text transform="translate(697,775.0) scale(1,1.1)" font-size="31.4" font-weight="bold" text-anchor="end">0.1</text>
<path d="M635.7 859.7h4" stroke="#555" stroke-width="1"/>
<text transform="translate(697,871.4) scale(1,1.1)" font-size="31.4" font-weight="bold" text-anchor="end">0.0</text>
<path d="M635.7 956.0h4" stroke="#555" stroke-width="1"/>
<text transform="translate(697,967.7) scale(1,1.1)" font-size="31.4" font-weight="bold" text-anchor="end">−0.1</text>
<path d="M635.7 1052.4h4" stroke="#555" stroke-width="1"/>
<text transform="translate(697,1064.1) scale(1,1.1)" font-size="31.4" font-weight="bold" text-anchor="end">−0.2</text>
<text transform="translate(711,812.7) rotate(90)" font-size="30.6" text-anchor="middle">ET (mm/a)</text>
<linearGradient id="cbd" x1="0" y1="0" x2="0" y2="1"><stop offset="0" stop-color="#ff0000"/><stop offset="0.5" stop-color="#ffffff"/><stop offset="1" stop-color="#0000ff"/></linearGradient>
<rect x="1284.5" y="570.6" width="21.2" height="481.8" fill="url(#cbd)" stroke="#333" stroke-width="0.8"/>
<path d="M1305.7 570.6h4" stroke="#555" stroke-width="1"/>
<text transform="translate(1344,582.3) scale(1,1.1)" font-size="31.4" font-weight="bold" text-anchor="end">4</text>
<path d="M1305.7 691.1h4" stroke="#555" stroke-width="1"/>
<text transform="translate(1344,702.8) scale(1,1.1)" font-size="31.4" font-weight="bold" text-anchor="end">2</text>
<path d="M1305.7 811.5h4" stroke="#555" stroke-width="1"/>
<text transform="translate(1344,823.2) scale(1,1.1)" font-size="31.4" font-weight="bold" text-anchor="end">0</text>
<path d="M1305.7 932.0h4" stroke="#555" stroke-width="1"/>
<text transform="translate(1344,943.7) scale(1,1.1)" font-size="31.4" font-weight="bold" text-anchor="end">−2</text>
<path d="M1305.7 1052.4h4" stroke="#555" stroke-width="1"/>
<text transform="translate(1344,1064.1) scale(1,1.1)" font-size="31.4" font-weight="bold" text-anchor="end">−4</text>
<text transform="translate(1368.5,815) rotate(90)" font-size="30.6" text-anchor="middle">Burned Area (ha/a)</text>
</svg></body></html>
